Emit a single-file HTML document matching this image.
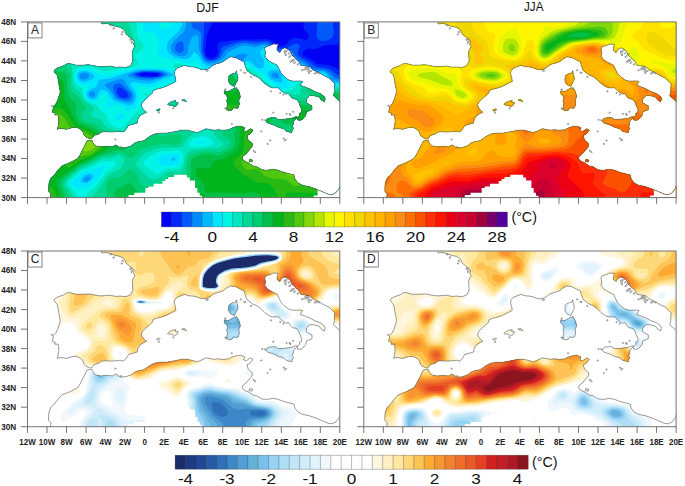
<!DOCTYPE html><html><head><meta charset="utf-8"><style>html,body{margin:0;padding:0;background:#fff;}body{width:685px;height:486px;overflow:hidden;position:relative;font-family:"Liberation Sans", sans-serif;}</style></head><body><svg width="685" height="486" viewBox="0 0 685 486" style="position:absolute;left:0;top:0"><defs><clipPath id="frame"><rect x="0" y="0" width="312.3" height="175.7"/></clipPath><clipPath id="land"><path d="M73.7 -5.9L73.7 0.0L74.5 2.0L79.1 1.5L83.9 2.9L87.8 4.4L92.7 5.4L95.6 7.3L97.6 9.3L98.1 11.7L102.5 15.6L105.9 18.1L106.9 20.0L105.9 22.4L107.4 24.4L104.9 29.3L104.9 33.2L105.4 39.0L103.0 43.9L99.7 45.2L97.6 45.7L92.7 45.1L87.8 45.4L83.0 44.2L78.1 44.6L73.2 44.9L68.3 44.2L61.5 42.9L56.6 43.2L48.8 43.3L42.0 41.5L39.0 42.0L36.1 43.9L30.3 45.9L27.3 47.8L26.4 49.8L29.3 52.7L30.3 55.6L30.7 58.6L31.2 61.5L32.2 66.4L32.7 70.3L31.2 75.2L30.3 78.1L28.3 82.0L25.9 84.4L25.4 87.8L24.9 90.3L27.8 91.3L27.3 93.2L30.7 93.2L31.2 96.6L31.2 100.5L30.7 104.4L29.8 107.4L33.2 106.4L39.0 107.4L44.9 105.6L49.3 105.4L53.7 107.8L55.1 109.3L56.6 113.2L58.6 115.2L62.5 117.1L64.9 116.1L66.4 113.7L71.2 112.2L74.2 110.1L78.1 109.8L83.0 110.1L87.8 109.8L92.7 109.3L96.1 110.1L98.6 107.4L101.0 103.5L106.4 102.0L109.8 101.0L110.3 97.6L112.2 94.2L116.1 91.7L119.1 90.3L117.1 88.8L114.7 85.9L113.7 83.0L115.2 80.0L117.6 77.6L121.0 74.7L124.9 71.2L125.4 68.8L128.8 67.3L134.7 65.9L138.6 64.4L144.4 61.5L148.4 59.5L147.9 55.6L146.9 52.7L146.9 49.8L149.3 46.4L153.2 44.9L157.1 43.4L162.0 44.9L164.9 44.9L169.3 45.9L172.8 47.3L175.7 47.8L179.6 47.3L182.5 45.9L185.4 43.4L188.4 42.0L192.3 41.0L196.2 39.5L199.1 37.1L203.0 34.9L207.9 35.6L212.8 38.1L216.7 40.0L217.6 43.9L219.6 48.8L222.5 50.8L225.5 53.2L229.4 54.7L233.3 57.6L237.2 61.5L242.0 64.9L245.0 65.9L250.8 65.9L252.8 67.8L254.7 69.8L257.2 71.2L258.2 72.2L261.1 71.7L263.0 74.7L265.0 76.6L269.4 77.6L271.3 80.5L272.3 83.4L274.3 87.8L273.8 90.8L271.8 91.3L272.3 93.2L269.9 95.6L269.9 98.1L272.8 98.4L274.7 97.6L278.2 93.7L279.1 89.8L284.5 87.8L284.5 83.9L282.6 83.0L278.6 80.5L279.1 77.1L282.1 73.7L286.0 73.7L291.8 75.2L293.3 77.6L296.7 80.0L297.7 77.1L297.2 75.2L292.8 71.7L287.4 69.8L283.0 67.3L278.2 65.4L272.8 63.4L275.2 59.5L272.3 59.0L265.5 59.3L261.1 58.1L256.7 54.7L253.8 51.7L251.3 46.8L249.9 43.4L245.0 41.0L240.1 38.1L237.2 34.2L238.1 31.2L237.2 27.3L238.1 24.9L243.0 23.4L246.0 22.0L250.8 22.4L249.9 24.9L249.4 28.3L252.3 30.7L254.2 27.3L257.2 25.9L260.6 27.3L263.0 29.8L264.5 33.2L267.4 36.1L271.3 39.5L273.3 43.4L277.2 43.9L282.1 44.9L286.0 48.3L289.9 49.8L293.8 52.2L298.2 54.7L301.6 56.1L305.0 59.5L307.4 62.0L307.0 65.4L307.0 69.3L306.0 73.7L307.4 75.2L310.9 78.1L312.3 79.5L318.2 82.0L318.2 -5.9ZM22.4 181.5L22.9 175.7L23.4 171.8L21.0 169.3L21.0 165.9L21.5 161.0L23.4 156.2L26.8 153.2L30.3 148.4L34.2 144.0L42.9 140.5L50.3 136.6L52.7 132.7L55.6 126.9L58.1 122.0L59.5 119.1L64.4 118.1L65.4 121.0L68.3 124.0L73.2 124.9L79.1 124.4L84.9 124.9L88.3 123.0L92.7 125.9L97.6 125.9L103.5 124.0L107.4 121.0L111.3 119.6L115.2 119.1L118.1 117.6L122.0 114.7L126.9 112.2L132.7 111.3L138.6 111.3L144.4 110.3L148.4 109.5L154.2 108.3L160.1 108.3L165.9 109.8L169.8 110.8L173.7 109.1L178.6 106.9L181.5 107.4L186.4 108.3L191.3 107.8L195.2 108.5L201.1 107.8L205.0 105.9L209.8 104.4L213.7 104.4L217.2 105.9L216.2 108.8L218.6 109.8L220.1 108.8L223.0 106.9L225.5 108.3L222.5 112.2L219.6 113.7L220.6 118.1L223.0 120.0L225.0 122.0L224.5 124.9L222.0 127.9L218.6 131.8L215.2 134.7L214.7 137.1L217.6 139.6L221.1 141.0L225.5 144.0L229.4 144.9L234.2 147.9L239.1 148.4L246.0 147.4L250.8 148.4L255.7 150.3L261.6 151.8L266.4 153.2L267.4 157.1L270.4 161.0L275.2 163.5L281.1 164.5L287.9 166.9L294.8 169.8L300.6 172.3L304.5 172.8L308.4 170.8L311.8 166.4L312.3 164.0L318.2 161.0L318.2 181.5ZM238.4 99.6L239.6 97.1L241.6 96.1L245.0 95.8L247.4 95.6L250.8 97.6L256.7 97.4L260.6 96.8L264.5 96.3L268.4 94.7L269.9 95.0L266.0 99.6L265.5 103.5L264.5 104.4L266.0 106.4L264.5 109.3L264.5 110.8L258.6 109.3L256.2 106.9L250.8 105.4L246.0 103.0L243.0 102.0L240.1 101.0ZM197.2 68.8L199.1 69.8L201.5 69.3L205.0 67.3L207.4 65.9L210.3 67.3L211.3 69.3L212.3 72.2L212.8 75.2L211.3 78.1L211.8 82.0L210.8 85.9L209.4 86.4L205.9 85.9L204.5 88.3L201.1 88.8L199.1 87.4L199.6 84.4L200.1 81.0L199.1 79.1L200.1 76.1L199.1 73.7L197.2 72.2L196.7 70.3ZM208.9 48.8L209.4 51.7L210.3 55.1L210.3 58.1L208.9 60.5L207.9 62.5L206.9 64.6L204.5 63.4L203.0 62.5L201.5 60.5L201.1 58.1L201.5 55.6L201.1 54.7L202.5 53.2L205.4 51.7L207.9 51.2ZM140.1 82.5L141.5 81.0L144.9 79.3L148.4 78.6L147.9 80.5L150.8 80.8L149.3 83.4L146.9 84.9L144.0 83.0L142.0 83.4ZM154.2 78.1L157.1 77.5L159.1 79.5L155.7 78.9ZM128.8 88.3L131.8 86.9L132.7 87.8L130.8 89.3ZM222.0 137.6L225.0 138.1L224.5 140.1L221.6 139.6Z"/></clipPath></defs><g transform="translate(27.5,21.9)"><g clip-path="url(#frame)"><g clip-path="url(#land)"><rect x="-20" y="-20" width="360" height="220" fill="#0000f5"/><path fill="#0028fa" fill-rule="evenodd" d="M-3 178.5l318 0l0-132.5l-4.5 1l-8-3.5l-13-1.5l-6.5-4.5l-6.5-3.5l-1-1l-.5-2l2-2.5l3-2l8 .5l7.5-3l4-1l15.5-.5l0-25.5l-39 0l0 8l1 3l4 4.5l.5 2l-1 2l-2.5 1.5l-7.5-2l-5 0l-3 2l-4 4.5l-4 1.5l-3.5 0l-7-5.5l-6-1.5l-9.5 .5l-15.5 0l-20 2.5l-2.5 1.5l-1 2l1 7l-1 2.5l-2 2l-4 1.5l-2-.5l-2.5-2l-1-3l-.5-3.5l2-15l4.5-9.5l0-6l-187 0l0 181.5zM114 54l-2-1.5l.5-1l5.5-1l10 .5l3.5 .5l.5 1l-2 1.5l-5 .5l-11-.5z"/><path fill="#005afa" fill-rule="evenodd" d="M-3 178.5l318 0l0-126l-2.5 .5l-3-.5l-6-4.5l-3-1.5l-10.5-1.5l-3-1l-6.5-5l-8-4l-2-2l-.5-2l.5-2l1.5-3.5l0-2l-2.5-2l-3 .5l-6 3.5l-7.5 1l-4-.5l-6-5.5l-4-1.5l-10.5 1l-10-1l-7.5 .5l-15.5 5l-1.5 2l-1.5 5.5l-1.5 3l-2.5 2l-3 1l-3 0l-2-.5l-2-1.5l-1.5-2l-1.5-5.5l0-5l1-12l0-14.5l-179.5 0l0 181.5zM94.5 75.5l-3-1.5l-2-3l0-3.5l1.5-2l1.5 0l3 1.5l3 2.5l2 2.5l0 2l-1 1.5l-2 .5l-3-.5zM112 54.5l-2.5-1l-1-1l.5-1l2.5-.5l4.5-1l14 .5l3.5 1l1 1l-2.5 2l-5 .5l-8 .5l-7-1zM292 18.5l3.5 .5l4-.5l4-2l2-2l1-4l-1-7.5l0-6l-15.5 0l-1 16.5l1 3l2 2z"/><path fill="#008cfa" fill-rule="evenodd" d="M-3 178.5l318 0l0-122.5l-4.5 .5l-3-1l-5.5-5.5l-3.5-2l-13.5-1.5l-2-1.5l-4-4l-9.5-5l-5-7l-3-1l-9.5 .5l-3 0l-2-1.5l-5-4.5l-4-1.5l-9.5 1.5l-13-1.5l-6.5 1.5l-11 5l-1.5 2l-3 5.5l-2 2l-6 2.5l-5 0l-2-1l-2-2l-2.5-5.5l-.5-5.5l.5-10l-.5-4l-2-2.5l-5.5-2.5l-1-1l-1-3.5l0-5l-167 0l0 181.5zM98.5 78l-7-1.5l-2-1.5l-1.5-2l-2.5-6.5l0-2l1.5-2l4-1.5l2.5 1l9 8.5l1.5 2.5l-1 3l-1.5 1.5l-3 .5zM118 56.5l-7.5-1l-5-2l-.5-1l1-1l4.5-1.5l6.5-1l11 .5l5.5 .5l3.5 1.5l.5 1l-1 1l-4 1.5l-6.5 1.5l-8 0zM150.5 30.5l-3-3l0-2l.5-2l2.5-3l2-1l1.5 0l1.5 1l.5 2l0 6l-2 2l-1.5 .5l-2-.5zM297.5 10.5l0 1l0-1z"/><path fill="#00b9ff" fill-rule="evenodd" d="M-3 178.5l318 0l0-119.5l-5.5 0l-4-1l-2-1.5l-3-5l-2-1.5l-3-1l-3.5 0l-5 .5l-3 1l-5 3l-2 0l-.5-2l2-4.5l0-2l-2-3l-9-4.5l-6-6.5l-3-.5l-7.5 0l-3 0l-3-2l-4-4.5l-3-1l-3 0l-7.5 2.5l-9-2l-6.5 1l-12 6l-3.5 5.5l-2.5 2l-6.5 3l-6 .5l-3-1l-2-1.5l-3-5l-2.5-8.5l0-10l-1-2l-2-.5l-3 1.5l-2 4l-2 5l-.5 7l-1.5 2.5l-2 1l-2 .5l-5.5-1l-3-2l-2-2l-1-3l0-3l3-4.5l7.5-7l3-3l1.5-5l0-7l-161.5 0l0 181.5zM54.5 57.5l-1.5-1l-1-2l.5-2l1-1l2-.5l2 0l2.5 .5l1.5 1l0 2l-1 1.5l-3 1.5l-3 0zM57.5 159.5l-1-1.5l1-2l3-1.5l2 .5l0 1l-1 2l-2 1l-2 .5zM63.5 75l-2-2l0-2l2-1.5l3 0l1 1.5l0 2.5l-2 1.5l-2 0zM97.5 80l-6.5-2l-3.5-2l-5.5-8.5l-4.5-4l0-1l1.5-1l12-4l3.5-.5l2 1l3 5.5l5.5 7l1 3.5l-.5 3.5l-2 2.5l-2 .5l-4-.5zM117 58.5l-9.5-1.5l-6.5-2.5l-.5-1l.5-1l3-1.5l3-1l8-1.5l14 0l6.5 1l4.5 2l0 1l-.5 1l-6 2.5l-10.5 2.5l-6 0zM207 44l-3-2l0-2l1-3l4-3.5l3-1.5l2.5-.5l4 .5l1.5 1l-.5 1l-4 3.5l-4.5 6.5l-2 .5l-2-.5zM248 56.5l-2.5-1l-1.5-2l.5-2l2.5-1l3 1l1.5 2l-.5 2.5l-1 .5l-2 0z"/><path fill="#00e6ff" fill-rule="evenodd" d="M-3 178.5l318 0l0-117.5l-6.5 0l-7 1l-2 0l-.5-1.5l1-4l-.5-3l-2-2l-2.5-1l-4 0l-3 1l-6 3.5l-3 1l-4 0l-1.5-1.5l-.5-2l1.5-6.5l-.5-2l-1-1l-7.5-4l-6-6l-3-.5l-7.5 .5l-3-.5l-2.5-1.5l-3.5-4l-2-1l-3 .5l-2.5 3l0 2.5l3.5 5l.5 4l-.5 4l-1 1l-1.5 .5l-4-.5l-6-6l-3-1l-3 1l-4.5 5.5l-3 1.5l-4-1l-7-4.5l-2-1l-4 1l-8.5 2.5l-4 0l-3-1.5l-2-1.5l-5.5-8.5l-2-1.5l-1-.5l-1 .5l-3 4l-3 2l-5 0l-7.5-1.5l-4-2.5l-2.5-2.5l-1.5-3l0-4l1-3l1-2l10-9.5l1.5-2.5l1.5-3.5l0-6l-157.5 0l0 181.5zM55.5 161l-1.5-1l-.5-1l.5-2l2-3l1.5-1l3-1l3 0l1.5 1l.5 1l-.5 2l-2 3l-3.5 2l-4 0zM99.5 83l-12.5-4l-2-2l-4-6l-2-2l-3-1l-2 0l-2 1l-2.5 6l-2 2l-3 .5l-3.5-1.5l-1.5-3l0-2.5l3-3l6-2.5l1-1.5l1-4l.5-1l2-1l10-1l16-5.5l9.5-3l5.5-.5l14 0l7.5 .5l5.5 2l4.5 2.5l-.5 1l-2.5 1l-19.5 7l-4 .5l-11.5-2l-4 .5l-.5 1l0 2l5 7.5l.5 3l-.5 3l-1 3l-2.5 2.5l-2 1l-3-.5zM144.5 139l-1-1.5l1-1.5l2-.5l1 0l1 1l-1 2l-3 .5zM176.5 63.5l-.5-1l-.5-2l2-4l7-6.5l2-1l2 .5l1 2l-.5 2l-4 4l-3.5 5l-2 1.5l-3-.5zM249 60l-5-2.5l-2.5-3l-1-2l0-1.5l1.5-2l3-1l4 0l3 1.5l1 1.5l1.5 4.5l0 4l-1.5 1l-4-.5zM53.5 60l-2.5-2.5l-1-3l.5-3l2-2l4-.5l4 .5l3 1.5l3 2.5l0 2l-2.5 2l-6.5 2.5l-4 0z"/><path fill="#00f5e6" fill-rule="evenodd" d="M-3 178.5l318 0l0-115l-6.5 0l-8 1.5l-4-.5l-1-1l-.5-2l1-7l-1-1l-2-1l-4 1l-6 3l-4 1.5l-3 .5l-3-1l-1.5-1l-1-2l0-7.5l-1-2l-7-4l-4-5l-4-1l-10.5 1.5l-1.5 1.5l-1 2l0 3l1.5 1.5l9 1.5l2.5 1.5l1.5 2.5l2 5.5l5 6l0 2l-1 1l-9 3.5l-3 5l-2 0l-1-1l-.5-1l.5-1l2.5-3.5l0-2l-.5-1l-8.5-6l-5.5-6l-6.5-3l-6-5.5l-2-1l-2.5 1l-4.5 4.5l-2.5 1.5l-3-.5l-10-4l-4 .5l-1.5 2l-.5 4l-.5 3l-5 5l-3.5 4.5l-3.5 2l-5 .5l-1-.5l-.5-1l0-5l.5-4.5l3.5-5l.5-2l-1.5-2l-5-6l-2-1.5l-2 .5l-4 2l-2 0l-8.5-2l-10-1.5l-10-3l-1.5-1l-1-1.5l-.5-1.5l2-5l.5-2l-3.5-11l-2.5-2l-3-.5l-5 0l-2-1l-.5-3l0-9l-118.5 0l0 181.5zM50 166l-4.5-2l-1-1l-.5-2l1-2l8.5-7.5l4-2l9-2l7.5-3.5l2-.5l1 1l0 1l-7.5 12l-4 4.5l-3 2l-7 2l-3 .5l-2.5-.5zM90 98l-1-.5l-1-2l1-3l3.5-1l4 0l0 2l-2 3l-3 2l-1.5-.5zM99.5 89l-1-.5l-3-3.5l-4-2l-4.5 0l-5 1.5l-2.5-.5l-.5-1l0-1l1-3l0-3l-1-2.5l-2-1.5l-2 0l-1 .5l-2.5 4.5l-2 2l-5 0l-4.5-2l-2-3l-.5-3.5l2-4l3-3l-1-1l-6 0l-3-.5l-3-2.5l-1-3l0-4l1-2.5l2-2l4-1l6 .5l5 1.5l6.5 4l5 1l5-.5l9.5-3.5l20.5-4.5l21.5 .5l4 .5l7 2.5l8.5 2.5l2 1l1 1l.5 2l-1 2l-1.5 1.5l-2 .5l-11.5-.5l-9.5 2.5l-10 4l-10-1.5l-2.5 .5l-.5 2l2 7.5l-.5 6l-1.5 3l-3.5 3.5l-3 2l-3 .5zM141.5 143.5l-7-.5l-2.5-1.5l-1.5-3l1-3l3-2l8-2l5-.5l4 1l1 1.5l.5 2l-.5 3l-1 3l-3.5 2l-6.5 0zM166 73l-1.5-1l0-1.5l1.5-1l3 0l.5 1.5l-.5 1.5l-1 1l-2-.5zM171 122l-2-1l2-1.5l2.5-.5l2.5 1l-.5 1l-1 .5l-3.5 .5zM134 7l3.5 .5l2-1l6-4.5l0-2.5l-2.5-2.5l-11.5 0l0 7l1 2l1.5 1z"/><path fill="#00e6be" fill-rule="evenodd" d="M-3 178.5l52.5 0l.5-3l-.5-2.5l-2-3l-4.5-4l-2-2l-.5-3l1-2l13-11l10-3.5l9.5-5l5-.5l8.5 .5l1 1l0 2l-1.5 2l-9 6.5l-9 13l-9 7l-1.5 2.5l.5 5l256 0l0-113.5l-5.5 0l-10 2l-3.5-.5l-2-1l-1.5-2l-1-6l-1-1l-1.5 0l-10 3.5l-8.5 1l-1.5 1.5l-2.5 4.5l-2 1l-7 1.5l-2 1.5l-2.5 4.5l-2 .5l-2.5 0l-4.5-1.5l-2.5-2.5l0-1.5l2.5-5l-.5-2l-7-5l-4-5l-11-7.5l-2 0l-5 4l-2.5 1l-3-.5l-8-3.5l-3 0l-2 .5l-1 1l-2.5 6.5l-5 5l-4 4.5l-3 2.5l-6 2.5l-3.5 5.5l-2 2l-3 0l-8-2l-12.5 1l-6-1l-9.5-2l-5 .5l-1 .5l1 4l-.5 5l-1 3l-1.5 2l-3 1l-5-1.5l-2.5 0l-2.5 2.5l-4.5 5.5l-9 9.5l-2 1l-2.5 0l-5-1.5l-4-3l-1-2l-2-6l-6-5l-3.5-5.5l-8-3l-4-3l-1.5-4l-1-6.5l-5-3l-2.5-3l-1-5l.5-4.5l2-4l3.5-1.5l6-.5l6 .5l4 1l6.5 2.5l4 .5l11-2.5l12.5-1.5l3-.5l3.5-2l1-2l-2.5-6l0-2l2-2l5.5-3.5l1-2l.5-2l-1-2l-4.5-4l-1.5-4l-.5-3.5l.5-13l-112.5 0l0 181.5zM128 151.5l-8.5-6l-3-3l0-3l2.5-3l7.5-4.5l6-2.5l17-1l3.5 .5l1.5 1l1 2.5l0 5l-1.5 5l-1.5 2.5l-3 1.5l-10 .5l-3 1l-4.5 3.5l-2 0l-2 0zM164 125l-2-.5l-1-1.5l.5-2l.5-1.5l4-3l6-2l4.5-.5l4 1l3 2l2 3l0 2l-1.5 1l-3.5 1l-9.5 1.5l-7-.5zM230.5 71.5l-.5-2l0-2l1.5-1.5l1 0l1.5 2l.5 2.5l-.5 .5l-1.5 1l-2-.5zM174.5 100l-2-2.5l0-3l2.5-2l1.5 0l2 .5l2 2.5l-.5 3l-2.5 1.5l-3 0zM117.5 74l2.5 0l2-1l-.5-1l-2-1l-2.5 0l-.5 1l1 2zM262.5 54.5l2 .5l1-1l.5-1.5l-.5-3.5l-2-1l-2 .5l-1 2.5l0 1.5l2 2zM148.5 47l4 .5l2.5 0l2-1.5l0-1l-1.5-2l-1.5-1l-2.5-.5l-3 0l-2 1l-1 1.5l1 2l2 1z"/><path fill="#00d796" fill-rule="evenodd" d="M-3 178.5l47.5 0l1-3l-.5-2.5l-1-2l-4.5-5l-1.5-3l.5-3l2-3l13-10.5l11-4.5l7.5-4.5l4-1l8-1l7.5-2l3 1l1.5 2l.5 4l-1 3l-4 4.5l-8.5 3.5l-4 3.5l-7 11l-6 7l-.5 2.5l1.5 3l248 0l0-111.5l-5.5 0l-9 1.5l-4 0l-2.5-1l-2-1l-3.5-5l-1.5-1l-3 0l-7.5 2l-2 1l-1.5 2l0 5.5l-.5 1l-1 1l-3 0l-7-1l-3 1l-.5 3l2 3l.5 2l-.5 1l-1.5 1l-2-1l-3.5-2.5l-13-4l-2-.5l-6.5 .5l-3-1.5l-1-2l-1-3.5l.5-4l1.5-6l0-2l-1-2l-4-2.5l-2-1l-2 0l-5 2l-2.5 0l-9-3.5l-4-1l-2 1.5l-4 6.5l-4.5 4l-5 6l-8 4.5l-3.5 6l-2 2.5l-3 .5l-8-1.5l-12.5 1l-11-1.5l-3.5 0l-3 2l-1 3l-2.5 9.5l.5 9l-2 3l-4 1.5l-13.5-.5l-2.5 1l-5.5 4l-3 .5l-4-.5l-12.5-5.5l-2-2l-5-6l-8-2.5l-1-1l.5-1l2.5-2.5l.5-2l-.5-3l-9-6l-2-3l-3-6.5l-4.5-3l-1.5-2l-1-4l-.5-12.5l-1-7l.5-11.5l-.5-13l.5-2l1-1l1 0l4 4l2.5 2l3 .5l6-.5l3 .5l2 1.5l4 6l3.5 2l4 0l9-.5l10.5 .5l4-.5l5-2.5l1-1l1-2l-7-20.5l0-3l.5-3l-105 0l0 181.5zM125 157l-3-.5l-2-1.5l-11-11.5l0-3l3-5l5-4l13-5l5.5-.5l15-.5l3.5-.5l2-2l4-7l7-4.5l1.5-2l-.5-3l-3.5-8l.5-3l.5-2l3.5-2.5l4-1.5l4 .5l3.5 1.5l2 2l2.5 7l2 4l0 1l-2 4l.5 2l4 4.5l5.5 4l1 2l-.5 1l-2.5 2l-3.5 1.5l-10 0l-15.5 2l-3 1l-2 2.5l-3 13l-2 3l-2.5 1.5l-10 0l-3 1.5l-4 3.5l-2.5 1.5l-3 1l-4 0zM91 15l-1.5-2.5l0-2.5l2-4l2-1.5l1.5 2.5l-.5 4.5l-2 3l-1.5 .5zM53.5 41l5 .5l2-.5l1-1l-2-1.5l-4 0l-2 .5l-.5 1l.5 1z"/><path fill="#00cd6e" fill-rule="evenodd" d="M-3 178.5l43.5 0l.5-5l-.5-1.5l-4.5-7l-.5-3l.5-2l3-4l14.5-11.5l10-4l9.5-5.5l10-2l8-2.5l4.5 .5l2 1l4 3.5l3 0l3-2l4-5l2-1.5l21-5.5l4 0l8 1.5l3-.5l3-1.5l1.5-3l0-4l-1-1l-1.5-1l-8 0l-8 2l-2-.5l-3.5-2.5l-2-.5l-12-1l-4 0l-2.5 1l-2 1.5l-2.5 4l-1.5 1l-6-2.5l-9.5-2l-10-4l-4-2l-5.5-4.5l-9.5-2.5l-3.5-2l-1.5-3l0-3l1-1.5l3.5-3l.5-2l-4.5-4.5l-4-6.5l-4.5-3l-2-1.5l-1.5-5l.5-9l-.5-4l-1.5-2.5l-2.5-4l-1-3l.5-11.5l-.5-16l2-11.5l-.5-6l-42 0l0 181.5zM78.5 178.5l236.5 0l0-109.5l-5.5 0l-11 1l-4.5 0l-5-1.5l-4-4.5l-4 .5l-1.5 1l-.5 2l4.5 5.5l0 2l-1.5 2l-3 1l-10.5 .5l-2 1l-4 5.5l-3 1l-2 .5l-2-.5l-4-4l-3.5-2l-8-2l-8.5 0l-3-1l-2-2l-1.5-3l-1-11.5l-1.5-3l-3-1.5l-7.5 0l-9-5l-2-.5l-2 0l-2 2l-3 5l-5 4l-4.5 5.5l-8 5l-2 3l-4 9l1.5 2l9.5 3.5l2 2l4 7l2 1.5l6.5 3.5l1 2l-2 5l0 1.5l1.5 2l4.5 3l1.5 2l.5 3l-1 2l-5.5 4l-5 2l-12-1l-15.5 3l-2 1.5l-1.5 2l-1 5l-.5 9l-2 3l-4 1l-7.5-.5l-2.5 0l-2 1l-5.5 5.5l-11.5 4l-6 .5l-4-1l-2.5-3l-1.5-7l-2-2.5l-3.5-2.5l-2-.5l-2 .5l-2 1.5l-4 5l-2 1.5l-7.5-.5l-2 1l-2 2l-1.5 2.5l-1 4l0 13.5zM250 119l0-1l1 0l1 1l0 1l-1 0l-1-1zM135 108.5l3.5-.5l1-.5l1.5-2l.5-4l-1.5-6l.5-2l2-1l8 .5l3.5-1l8.5-5l1-2l-1-1l-2.5-1.5l-3 0l-12.5 1l-9-2l-2 0l-1.5 1.5l-1 2l-.5 3l2 6.5l-.5 10l.5 2.5l2.5 1.5z"/><path fill="#00be46" fill-rule="evenodd" d="M-3 178.5l39.5 0l.5-3l0-2.5l-3.5-7l-1-4l1-3l3.5-4l15.5-12l11-4.5l8.5-5l15-5l10.5-1l2-1l.5-1.5l0-3l-1-2l-3-3l-3.5-1l-8.5-1.5l-9-3l-9.5-6.5l-10.5-3.5l-3.5-2.5l-2-3.5l-1.5-4l1-7.5l-.5-2l-1-2l-4.5-3.5l-2.5-5.5l-1-4.5l0-10l-.5-3l-2-2l-4-2l-2.5-.5l-9 1l-24.5-.5l0 129zM87 178.5l48 0l2.5-1l2.5 1l175 0l0-107l-14.5 .5l-6.5 .5l-3 1.5l-.5 2l-.5 5l-2 2l-6 .5l-8.5-1.5l-3 0l-2 1l-4 3.5l-3 1.5l-4 1.5l-3.5 0l-2-1.5l-2-4l-3-2l-6-2l-9.5 .5l-4-1.5l-2.5-2l-1.5-3l-1.5-9.5l-1.5-3l-3-1.5l-7.5-.5l-5-6l-3-1l-2 0l-1.5 1l-3 5l-5.5 4l-4.5 5.5l-6 3.5l-2 1.5l-2.5 4l-1 5l.5 1.5l1.5 1.5l7.5 4l4 6.5l2 2l3.5 1.5l10 1.5l4 2l1 3l-2 6.5l1.5 6l.5 3l-1 3l-1 2l-4 2.5l-9.5 5l-4 0l-7-1.5l-3 0l-4 .5l-8.5 3.5l-1.5 1.5l-1 3l0 11l-1.5 4.5l-2 1.5l-8.5 3.5l-8 8l-5 3.5l-2 0l-4-1.5l-2.5-.5l-14 1l-3-.5l-3.5-2l-6-7.5l-2-.5l-5 3l-7.5 3l-1 1.5l-1 2.5l0 7.5zM251 124l-2-.5l-2-1.5l-4-5.5l-4-4.5l-3-4.5l-6.5-5l-.5-2l1-2l1.5-.5l2 .5l4.5 3.5l2 .5l2.5-2l3.5-6l2-1.5l2 0l1 .5l3.5 6.5l3 2l2 .5l6-1l3 1l1 3l-1.5 5l.5 1.5l3 3l6.5 4l1 1l0 1l-1 1l-3.5 .5l-13-1.5l-7.5 2.5l-3 .5zM117 117l1 0l0-1l-1 0l0 1zM258.5 112l1.5-.5l-.5-1l-2-1l-1 1l.5 1l1.5 .5z"/><path fill="#00b41e" fill-rule="evenodd" d="M-3 178.5l35.5 0l.5-4l-.5-2.5l-4-11l0-2l1.5-2l14-9.5l8.5-6.5l10.5-4.5l8-5l8-3.5l2-2l2-3l-.5-2l-5-5l-7-4l-8-5l-11-4l-3.5-3.5l-3-5l-3.5-8.5l-3.5-6l-1-3l-1-15.5l-1-3l-3-1.5l-2.5 0l-8 1l-24.5 0l0 120.5zM160.5 178.5l16 0l.5-5.5l-.5-1l-1-.5l-11.5-1.5l-2 0l-1 1l-.5 2l0 5.5zM231 178.5l84 0l0-80.5l-4.5 0l-4-1l-2-1.5l-3.5-4.5l-3.5-2l-2.5-.5l-12 .5l-4-.5l-5.5-2l-4 .5l-5 3l-6 2.5l-.5 2l.5 1.5l2 1l9 0l3.5 1.5l1.5 2l.5 2l-1 6l0 3l2 2l7.5 3.5l1 2l0 3l-2.5 2l-4 1l-16.5-.5l-8.5 1.5l-4 0l-3.5-2l-12-14l-6-5l-1.5-1.5l-.5-3l0-4l2-3l3-1l6.5 .5l2-.5l6-4.5l.5-2l0-1l-1.5-1l-4-1l-9.5 0l-3-.5l-2-1.5l-2-2l-1.5-3l-2.5-9l-1-1.5l-1.5-1l-3.5 0l-5.5 5l-4 1l-3-.5l-2-1l-3-6l-3 0l-2 1.5l-4.5 5.5l-6 2.5l-2 1.5l-2 4l0 4l1.5 2l6.5 3.5l4 6l3 2.5l3.5 1l10-.5l3 1l2.5 2l1.5 3l.5 5l-.5 11.5l-.5 6l-1.5 3l-2 2l-10 6l-10.5 3l-1.5 1.5l-2.5 5l-1.5 1l-2.5 .5l-6.5-1.5l-3 .5l-1.5 1.5l-.5 1.5l0 4l2 2.5l4 3.5l2 2l2 9l.5 .5l30.5 .5l7.5 .5l6-1.5l5 .5l3 1l1.5 1.5l0 2.5l-1 3zM89 125l3.5 0l2-.5l1.5-1.5l-.5-2l-2-2l-2-.5l-2.5 .5l-2 .5l-3 2.5l.5 1l4.5 2zM299 78l3.5 .5l2.5-1.5l-.5-1l-1-.5l-4-.5l-1.5 1l0 1l1 1zM201 56.5l0 1l1-1l-1-.5l0 .5z"/><path fill="#28b914" fill-rule="evenodd" d="M-3 178.5l31 0l.5-5.5l-2-5l-2-2l-2-1l-3-.5l-8 2l-14.5-.5l0 12.5zM249.5 178.5l8.5 0l0-6.5l.5-1l1-.5l35.5 .5l.5 1l0 6.5l11 0l0-6.5l-1-1l-10 0l0-1l0-4l2-5l7-4l2.5-4.5l1.5-2l3-1l3.5 1l0-23.5l-53.5-.5l-10.5 1.5l-4-.5l-3-2l-4-4.5l-5.5-5l-4-4.5l-5-4l-1.5-2l-4.5-14l0-8.5l-3-8l-1 0l-1 1l-2 5l-2.5 2l-3 .5l-5-.5l-9 .5l-2.5-.5l-1-1l-2-7l-1-1.5l-3-.5l-3 1l-2 3l-.5 2l.5 2l2 2l5 1.5l2 1.5l2 5l2 2.5l3.5 1l7-2.5l4-.5l6 2l2 3l3 15.5l-1 16l-2 4l-6 4.5l-1.5 2l-.5 3l.5 2l11 10.5l6.5 3l4.5 3.5l2 .5l8.5 0l4 2l2.5 3l4 6l.5 2.5l-.5 4zM307.5 171l7.5 0l0-11l-4.5 0l-2 0l-1 1l-1 3l0 6l0 .5l1 .5zM38.5 144.5l2.5 1l2.5-1l7.5-5.5l11.5-4.5l11-6.5l2-2l1.5-2l0-3l-1.5-2l-2-2l-12-7.5l-10.5-4l-3.5-2l-4-5l-5.5-8.5l-4-3.5l-3.5-.5l-9 1l-24.5-.5l0 42.5l14.5 0l9-.5l5 1l10.5 7.5l1.5 1.5l1 6z"/><path fill="#50c80f" fill-rule="evenodd" d="M267 164l2.5 0l2-.5l1.5-1.5l1.5-2l1-5l-2-8.5l0-3l2.5-3l6.5-3l2-2l.5-2l-.5-1.5l-2.5-2l-5-1l-15.5 0l-13.5 1l-4-1l-6-5l-2 0l-1 2l-1 6l-1.5 2.5l-3 1.5l-10 0l-4 2l-1.5 2.5l.5 3l4 4l3 .5l6-1l3 .5l2 1.5l3.5 4l2 1.5l8 2l11.5 1l3 1.5l4 3.5l2.5 1.5zM50.5 133.5l3 1l5-1l4-1l4-2.5l5-4l1.5-2l0-3l-2-2l-13.5-9l-4-1l-6.5-1.5l-3-1l-3-3.5l-6-9.5l-3-1.5l-2.5-.5l-8 1.5l-24.5-.5l0 32l26.5 0l4 1l7.5 2.5l6-1.5l3 0l3 1.5l3.5 5.5zM224.5 115l1 1l1 0l.5-1l-.5-1l-1-.5l-1 .5l0 1zM182 79l.5 .5l1-1l-1-1.5l-1 1l.5 1z"/><path fill="#82d70a" fill-rule="evenodd" d="M265.5 155l2 .5l1-2l-1-8l.5-3l1-2l2.5-2l7-4l.5-2l-1-.5l-3-1l-16.5 1l-4 .5l-3.5 2l-.5 1l1 1l6 4l1.5 2l0 2l-1.5 4l.5 2l2 2l5.5 2.5zM56 129l2.5 .5l5-1.5l4-3l1-2l0-1l-1.5-2l-10.5-7l-3-1l-2.5 .5l-2.5 1.5l0 3l5 5l1.5 5l1 2z"/><path fill="#fff" d="M101.0 175.8L101.0 173.2L106.8 173.2L106.8 170.9L117.9 170.9L117.9 166.2L120.9 166.2L120.9 164.5L126.1 164.5L126.1 161.9L134.9 161.9L134.9 159.2L137.8 159.2L137.8 157.2L140.7 157.2L140.7 155.1L146.5 155.1L146.5 152.8L159.4 152.8L159.4 155.7L162.3 155.7L162.3 158.6L167.6 158.6L167.6 166.2L169.9 166.2L169.9 170.9L172.2 170.9L172.2 173.8L174.6 173.8L174.6 180.0L101.0 180.0ZM290.1 150.0L290.1 173.6L286.3 173.6L286.3 180.0L320.0 180.0L320.0 150.0Z"/></g><path d="M73.7 -5.9L73.7 0.0L74.5 2.0L79.1 1.5L83.9 2.9L87.8 4.4L92.7 5.4L95.6 7.3L97.6 9.3L98.1 11.7L102.5 15.6L105.9 18.1L106.9 20.0L105.9 22.4L107.4 24.4L104.9 29.3L104.9 33.2L105.4 39.0L103.0 43.9L99.7 45.2L97.6 45.7L92.7 45.1L87.8 45.4L83.0 44.2L78.1 44.6L73.2 44.9L68.3 44.2L61.5 42.9L56.6 43.2L48.8 43.3L42.0 41.5L39.0 42.0L36.1 43.9L30.3 45.9L27.3 47.8L26.4 49.8L29.3 52.7L30.3 55.6L30.7 58.6L31.2 61.5L32.2 66.4L32.7 70.3L31.2 75.2L30.3 78.1L28.3 82.0L25.9 84.4L25.4 87.8L24.9 90.3L27.8 91.3L27.3 93.2L30.7 93.2L31.2 96.6L31.2 100.5L30.7 104.4L29.8 107.4L33.2 106.4L39.0 107.4L44.9 105.6L49.3 105.4L53.7 107.8L55.1 109.3L56.6 113.2L58.6 115.2L62.5 117.1L64.9 116.1L66.4 113.7L71.2 112.2L74.2 110.1L78.1 109.8L83.0 110.1L87.8 109.8L92.7 109.3L96.1 110.1L98.6 107.4L101.0 103.5L106.4 102.0L109.8 101.0L110.3 97.6L112.2 94.2L116.1 91.7L119.1 90.3L117.1 88.8L114.7 85.9L113.7 83.0L115.2 80.0L117.6 77.6L121.0 74.7L124.9 71.2L125.4 68.8L128.8 67.3L134.7 65.9L138.6 64.4L144.4 61.5L148.4 59.5L147.9 55.6L146.9 52.7L146.9 49.8L149.3 46.4L153.2 44.9L157.1 43.4L162.0 44.9L164.9 44.9L169.3 45.9L172.8 47.3L175.7 47.8L179.6 47.3L182.5 45.9L185.4 43.4L188.4 42.0L192.3 41.0L196.2 39.5L199.1 37.1L203.0 34.9L207.9 35.6L212.8 38.1L216.7 40.0L217.6 43.9L219.6 48.8L222.5 50.8L225.5 53.2L229.4 54.7L233.3 57.6L237.2 61.5L242.0 64.9L245.0 65.9L250.8 65.9L252.8 67.8L254.7 69.8L257.2 71.2L258.2 72.2L261.1 71.7L263.0 74.7L265.0 76.6L269.4 77.6L271.3 80.5L272.3 83.4L274.3 87.8L273.8 90.8L271.8 91.3L272.3 93.2L269.9 95.6L269.9 98.1L272.8 98.4L274.7 97.6L278.2 93.7L279.1 89.8L284.5 87.8L284.5 83.9L282.6 83.0L278.6 80.5L279.1 77.1L282.1 73.7L286.0 73.7L291.8 75.2L293.3 77.6L296.7 80.0L297.7 77.1L297.2 75.2L292.8 71.7L287.4 69.8L283.0 67.3L278.2 65.4L272.8 63.4L275.2 59.5L272.3 59.0L265.5 59.3L261.1 58.1L256.7 54.7L253.8 51.7L251.3 46.8L249.9 43.4L245.0 41.0L240.1 38.1L237.2 34.2L238.1 31.2L237.2 27.3L238.1 24.9L243.0 23.4L246.0 22.0L250.8 22.4L249.9 24.9L249.4 28.3L252.3 30.7L254.2 27.3L257.2 25.9L260.6 27.3L263.0 29.8L264.5 33.2L267.4 36.1L271.3 39.5L273.3 43.4L277.2 43.9L282.1 44.9L286.0 48.3L289.9 49.8L293.8 52.2L298.2 54.7L301.6 56.1L305.0 59.5L307.4 62.0L307.0 65.4L307.0 69.3L306.0 73.7L307.4 75.2L310.9 78.1L312.3 79.5L318.2 82.0L318.2 -5.9ZM22.4 181.5L22.9 175.7L23.4 171.8L21.0 169.3L21.0 165.9L21.5 161.0L23.4 156.2L26.8 153.2L30.3 148.4L34.2 144.0L42.9 140.5L50.3 136.6L52.7 132.7L55.6 126.9L58.1 122.0L59.5 119.1L64.4 118.1L65.4 121.0L68.3 124.0L73.2 124.9L79.1 124.4L84.9 124.9L88.3 123.0L92.7 125.9L97.6 125.9L103.5 124.0L107.4 121.0L111.3 119.6L115.2 119.1L118.1 117.6L122.0 114.7L126.9 112.2L132.7 111.3L138.6 111.3L144.4 110.3L148.4 109.5L154.2 108.3L160.1 108.3L165.9 109.8L169.8 110.8L173.7 109.1L178.6 106.9L181.5 107.4L186.4 108.3L191.3 107.8L195.2 108.5L201.1 107.8L205.0 105.9L209.8 104.4L213.7 104.4L217.2 105.9L216.2 108.8L218.6 109.8L220.1 108.8L223.0 106.9L225.5 108.3L222.5 112.2L219.6 113.7L220.6 118.1L223.0 120.0L225.0 122.0L224.5 124.9L222.0 127.9L218.6 131.8L215.2 134.7L214.7 137.1L217.6 139.6L221.1 141.0L225.5 144.0L229.4 144.9L234.2 147.9L239.1 148.4L246.0 147.4L250.8 148.4L255.7 150.3L261.6 151.8L266.4 153.2L267.4 157.1L270.4 161.0L275.2 163.5L281.1 164.5L287.9 166.9L294.8 169.8L300.6 172.3L304.5 172.8L308.4 170.8L311.8 166.4L312.3 164.0L318.2 161.0L318.2 181.5ZM238.4 99.6L239.6 97.1L241.6 96.1L245.0 95.8L247.4 95.6L250.8 97.6L256.7 97.4L260.6 96.8L264.5 96.3L268.4 94.7L269.9 95.0L266.0 99.6L265.5 103.5L264.5 104.4L266.0 106.4L264.5 109.3L264.5 110.8L258.6 109.3L256.2 106.9L250.8 105.4L246.0 103.0L243.0 102.0L240.1 101.0ZM197.2 68.8L199.1 69.8L201.5 69.3L205.0 67.3L207.4 65.9L210.3 67.3L211.3 69.3L212.3 72.2L212.8 75.2L211.3 78.1L211.8 82.0L210.8 85.9L209.4 86.4L205.9 85.9L204.5 88.3L201.1 88.8L199.1 87.4L199.6 84.4L200.1 81.0L199.1 79.1L200.1 76.1L199.1 73.7L197.2 72.2L196.7 70.3ZM208.9 48.8L209.4 51.7L210.3 55.1L210.3 58.1L208.9 60.5L207.9 62.5L206.9 64.6L204.5 63.4L203.0 62.5L201.5 60.5L201.1 58.1L201.5 55.6L201.1 54.7L202.5 53.2L205.4 51.7L207.9 51.2ZM140.1 82.5L141.5 81.0L144.9 79.3L148.4 78.6L147.9 80.5L150.8 80.8L149.3 83.4L146.9 84.9L144.0 83.0L142.0 83.4ZM154.2 78.1L157.1 77.5L159.1 79.5L155.7 78.9ZM128.8 88.3L131.8 86.9L132.7 87.8L130.8 89.3ZM222.0 137.6L225.0 138.1L224.5 140.1L221.6 139.6Z" fill="none" stroke="#555" stroke-width="0.6"/><g fill="#fff" stroke="#444" stroke-width="0.5"><ellipse cx="259.4" cy="28.6" rx="1.4" ry="0.7" transform="rotate(-40 259.4 28.6)"/><ellipse cx="257.7" cy="31.4" rx="0.7" ry="2.9" transform="rotate(-15 257.7 31.4)"/><ellipse cx="261.4" cy="31.4" rx="0.8" ry="0.6" transform="rotate(-40 261.4 31.4)"/><ellipse cx="263.3" cy="33.7" rx="2.9" ry="0.6" transform="rotate(-40 263.3 33.7)"/><ellipse cx="264.0" cy="39.0" rx="2.1" ry="0.6" transform="rotate(-40 264.0 39.0)"/><ellipse cx="265.7" cy="38.8" rx="1.8" ry="0.6" transform="rotate(-40 265.7 38.8)"/><ellipse cx="267.2" cy="40.8" rx="1.2" ry="0.6" transform="rotate(-40 267.2 40.8)"/><ellipse cx="270.4" cy="42.5" rx="1.0" ry="0.6" transform="rotate(-30 270.4 42.5)"/><ellipse cx="279.3" cy="45.6" rx="2.1" ry="0.6" transform="rotate(-5 279.3 45.6)"/><ellipse cx="279.1" cy="47.3" rx="3.1" ry="0.6" transform="rotate(-5 279.1 47.3)"/><ellipse cx="274.7" cy="48.3" rx="0.9" ry="0.6" transform="rotate(0 274.7 48.3)"/><ellipse cx="282.3" cy="49.3" rx="2.3" ry="0.6" transform="rotate(-5 282.3 49.3)"/><ellipse cx="281.6" cy="51.2" rx="0.8" ry="0.6" transform="rotate(0 281.6 51.2)"/><ellipse cx="288.4" cy="51.2" rx="2.0" ry="0.6" transform="rotate(-15 288.4 51.2)"/><ellipse cx="291.8" cy="51.5" rx="0.8" ry="0.6" transform="rotate(0 291.8 51.5)"/><ellipse cx="217.2" cy="50.9" rx="1.4" ry="0.6" transform="rotate(0 217.2 50.9)"/><ellipse cx="223.5" cy="55.0" rx="0.7" ry="0.6" transform="rotate(0 223.5 55.0)"/><ellipse cx="213.3" cy="48.4" rx="0.7" ry="0.6" transform="rotate(0 213.3 48.4)"/><ellipse cx="252.8" cy="71.0" rx="0.7" ry="0.6" transform="rotate(0 252.8 71.0)"/><ellipse cx="256.0" cy="72.7" rx="0.7" ry="0.6" transform="rotate(0 256.0 72.7)"/><ellipse cx="243.5" cy="69.3" rx="0.7" ry="0.6" transform="rotate(30 243.5 69.3)"/><ellipse cx="263.0" cy="92.9" rx="0.7" ry="0.6" transform="rotate(0 263.0 92.9)"/><ellipse cx="262.1" cy="92.1" rx="0.7" ry="0.6" transform="rotate(0 262.1 92.1)"/><ellipse cx="265.7" cy="89.9" rx="0.7" ry="0.6" transform="rotate(0 265.7 89.9)"/><ellipse cx="259.1" cy="92.0" rx="0.7" ry="0.6" transform="rotate(0 259.1 92.0)"/><ellipse cx="245.8" cy="90.8" rx="0.7" ry="0.6" transform="rotate(0 245.8 90.8)"/><ellipse cx="237.5" cy="98.3" rx="0.7" ry="0.6" transform="rotate(0 237.5 98.3)"/><ellipse cx="234.8" cy="97.9" rx="0.7" ry="0.6" transform="rotate(0 234.8 97.9)"/><ellipse cx="233.8" cy="109.5" rx="0.7" ry="0.6" transform="rotate(0 233.8 109.5)"/><ellipse cx="257.9" cy="118.2" rx="1.2" ry="0.6" transform="rotate(-30 257.9 118.2)"/><ellipse cx="256.2" cy="116.6" rx="0.7" ry="0.6" transform="rotate(-20 256.2 116.6)"/><ellipse cx="240.1" cy="122.0" rx="0.7" ry="0.6" transform="rotate(0 240.1 122.0)"/><ellipse cx="242.7" cy="118.5" rx="0.7" ry="0.6" transform="rotate(0 242.7 118.5)"/><ellipse cx="226.9" cy="129.6" rx="1.8" ry="0.6" transform="rotate(40 226.9 129.6)"/><ellipse cx="204.3" cy="102.2" rx="0.7" ry="0.6" transform="rotate(0 204.3 102.2)"/><ellipse cx="179.6" cy="48.8" rx="1.5" ry="0.6" transform="rotate(0 179.6 48.8)"/><ellipse cx="131.3" cy="90.9" rx="0.7" ry="0.6" transform="rotate(0 131.3 90.9)"/><ellipse cx="145.7" cy="86.4" rx="0.7" ry="0.6" transform="rotate(0 145.7 86.4)"/><ellipse cx="197.9" cy="67.6" rx="0.7" ry="0.8" transform="rotate(10 197.9 67.6)"/><ellipse cx="209.1" cy="66.2" rx="0.7" ry="0.6" transform="rotate(0 209.1 66.2)"/><ellipse cx="197.9" cy="86.5" rx="0.7" ry="0.6" transform="rotate(0 197.9 86.5)"/><ellipse cx="199.1" cy="87.4" rx="0.7" ry="0.6" transform="rotate(0 199.1 87.4)"/><ellipse cx="104.4" cy="20.3" rx="0.7" ry="1.4" transform="rotate(20 104.4 20.3)"/><ellipse cx="103.3" cy="17.6" rx="1.4" ry="0.6" transform="rotate(-20 103.3 17.6)"/><ellipse cx="86.2" cy="6.5" rx="1.0" ry="0.6" transform="rotate(-30 86.2 6.5)"/><ellipse cx="95.2" cy="10.0" rx="0.7" ry="1.0" transform="rotate(20 95.2 10.0)"/><ellipse cx="94.2" cy="12.5" rx="0.7" ry="0.6" transform="rotate(0 94.2 12.5)"/><ellipse cx="83.3" cy="3.5" rx="0.7" ry="0.6" transform="rotate(0 83.3 3.5)"/><ellipse cx="24.4" cy="83.9" rx="0.7" ry="0.6" transform="rotate(0 24.4 83.9)"/><ellipse cx="93.4" cy="125.1" rx="0.7" ry="0.6" transform="rotate(0 93.4 125.1)"/><ellipse cx="87.8" cy="117.6" rx="0.7" ry="0.6" transform="rotate(0 87.8 117.6)"/></g></g><rect x="0" y="0" width="312.3" height="175.7" fill="none" stroke="#747474" stroke-width="1"/><path d="M0.0 175.7v6.2M19.5 175.7v6.2M39.0 175.7v6.2M58.6 175.7v6.2M78.1 175.7v6.2M97.6 175.7v6.2M117.1 175.7v6.2M136.6 175.7v6.2M156.2 175.7v6.2M175.7 175.7v6.2M195.2 175.7v6.2M214.7 175.7v6.2M234.2 175.7v6.2M253.8 175.7v6.2M273.3 175.7v6.2M292.8 175.7v6.2M312.3 175.7v6.2M0 0.0h-6.5M0 19.5h-6.5M0 39.0h-6.5M0 58.6h-6.5M0 78.1h-6.5M0 97.6h-6.5M0 117.1h-6.5M0 136.6h-6.5M0 156.2h-6.5M0 175.7h-6.5" stroke="#747474" stroke-width="1" fill="none"/><rect x="0.5" y="1" width="14" height="15" fill="#fff" stroke="#777" stroke-width="0.9"/><text x="7.5" y="12.4" font-size="12" text-anchor="middle" fill="#222" font-family='"Liberation Sans", sans-serif'>A</text></g><g transform="translate(363.8,21.9)"><g clip-path="url(#frame)"><g clip-path="url(#land)"><rect x="-20" y="-20" width="360" height="220" fill="#00be46"/><path fill="#00b41e" fill-rule="evenodd" d="M-3 178.5l318 0l0-181.5l-318 0l0 181.5zM207 15.5l-3-1l.5-1l4.5-2l4.5-1l10 0l3.5 1l.5 1l-4 2l-4 1l-12.5 0z"/><path fill="#28b914" fill-rule="evenodd" d="M-3 178.5l318 0l0-181.5l-318 0l0 181.5zM182.5 28l-.5-.5l-.5-2l2-3l9-4.5l6-4.5l7.5-3l8.5-1.5l9-.5l8 1.5l2 .5l.5 1l0 1l-1.5 1l-7.5 2l-6.5 1l-12.5 1l-7 1.5l-4 1.5l-9.5 7l-3 .5z"/><path fill="#50c80f" fill-rule="evenodd" d="M-3 178.5l318 0l0-181.5l-318 0l0 181.5zM180.5 31l-1-1.5l-.5-3l1-3l1.5-2l12.5-8l6.5-3l11.5-2.5l13.5-1l10 1l2.5 1l1.5 1.5l0 2l-3.5 2l-15.5 3l-12.5 1l-5 1l-5 2l-13.5 9l-2 .5l-2 0z"/><path fill="#82d70a" fill-rule="evenodd" d="M-3 178.5l318 0l0-181.5l-318 0l0 181.5zM124 55l-2-1.5l.5-1l3.5-.5l4 0l1 .5l1 1l-1 1l-2 .5l-5 0zM180.5 33l-2-1l-1-2.5l0-4l1.5-4l4.5-4l8-4.5l4.5-2.5l7-2l8-1.5l23-2.5l6 .5l2.5 2l1 2l.5 1.5l-.5 2l-1.5 2l-2 1l-20.5 2.5l-9.5 1l-5 1l-6 3l-14.5 9.5l-4 .5z"/><path fill="#b4e600" fill-rule="evenodd" d="M-3 178.5l318 0l0-181.5l-66 0l-.5 13.5l-1.5 3l-2 2l-5 1.5l-11.5 .5l-21.5 3l-6 2.5l-16.5 11l-4 1l-2-.5l-1.5-1.5l-1-3.5l.5-6l1-3l1.5-2l9.5-6.5l5-2l7.5-2.5l17.5-3.5l5.5-2l.5-1l0-1l-5.5-3l-222 0l0 181.5zM123 56.5l-4-1l-3-2l0-1l1-1l3-1l6-.5l5 0l3.5 1.5l1.5 2l-1.5 2l-2.5 1.5l-4 0l-5-.5zM147.5 29.5l-2-1.5l-1-2.5l1-2.5l1-.5l2-.5l2 1.5l1 3l-1 2.5l-1 .5l-2 0z"/><path fill="#e6f500" fill-rule="evenodd" d="M-3 178.5l318 0l0-129l-1 1.5l-2.5 .5l-2-.5l-1-2l.5-2l1.5-.5l3 0l1.5 1l0-50.5l-59.5 0l0 6l-1.5 6l-2.5 5.5l-2.5 2.5l-5 1l-15.5 .5l-20.5 2.5l-6 3l-9.5 6l-8 5.5l-4 1l-2-.5l-2-1l-2-4l0-6.5l2-6l3-3l9-6.5l5.5-1.5l15-3.5l4.5-2l.5-1l0-1l-4.5-3l-212.5 0l0 181.5zM83 63.5l-5-1l-11.5-4.5l-9.5-2.5l-3.5-2l.5-1l4.5-1.5l5-1l6 0l3.5 1l8 5l5 2l2 1.5l.5 2l0 2l-1.5 .5l-4-.5zM95.5 75l-3-2l-1-2l-.5-2.5l.5-1.5l3 1l5 2l2 1.5l1 1.5l0 1l-2 1.5l-2 .5l-3-1zM127 58.5l-6-.5l-5-1.5l-3-2l-1-2l2-2l7-2l8 0l5.5 1l2 1.5l2 1.5l0 2l-.5 1l-4.5 2.5l-6.5 .5zM147.5 33.5l-3.5-1.5l-3-1.5l-1.5-2l-.5-3l.5-3l1-3l2-2l3-1l4 0l3 2l1.5 2.5l1 3.5l-.5 4l-1.5 2.5l-2.5 2l-3 .5z"/><path fill="#fff500" fill-rule="evenodd" d="M-3 178.5l318 0l0-124l-3.5 .5l-3-.5l-2-2l-3-4.5l-2-2.5l-3-1.5l-8.5-2l-1.5-2l.5-1l2-.5l11.5 3l12.5 .5l0-45l-52 0l.5 4l-.5 3l-3.5 7.5l-2 7l-2 1.5l-4.5 .5l-20.5-1.5l-20.5 2.5l-7 3l-10.5 6.5l-7 5.5l-3 1l-2 .5l-3-.5l-2-1.5l-1.5-2l-1-2l-.5-5.5l1.5-10l5.5-7.5l1.5-5l.5-1.5l3 2l6 .5l6.5-1l6-2l1-1l-.5-1l-5.5-3l-15.5 0l-1 1.5l-.5-1.5l-184 0l0 181.5zM98.5 78l-6-2l-2-2l-3.5-4.5l-3-2l-11-1.5l-8.5-4.5l-13-2.5l-4-1.5l-3-3l-.5-2l.5-1.5l2.5-2.5l4.5-1.5l6-.5l11-.5l5.5 1l9 4l8 1l1 .5l1 2l1 6l1 3l1.5 2l7 5l2 2.5l0 2l-2 2l-2 1l-3 0zM124 59.5l-9-2l-3-1l-2-2l-1-1l0-2l1.5-1.5l1.5-1l10-2l9 0l6.5 2.5l2 1.5l2 1.5l0 1l-.5 2l-1.5 1.5l-2.5 1.5l-6 1.5l-7-.5zM144.5 35l-5-2l-3.5-2.5l-1.5-3l-.5-4l2-5l3.5-6l3-2.5l7-3l2-2l6 12.5l.5 5l-.5 6l-2 3.5l-2.5 2.5l-3.5 1l-5-.5zM269.5 40.5l-2.5-3.5l-2-7.5l0-4l1.5-1l2 0l3 1.5l2 2.5l1 2.5l.5 3l-1.5 4.5l-2 2l-2 0z"/><path fill="#ffe100" fill-rule="evenodd" d="M-3 178.5l318 0l0-121.5l-4.5 0l-3-.5l-2-1.5l-5-6.5l-3-1.5l-3.5-1l-10 0l-1 1l-1 4l-1.5 1.5l-1.5 1l-2 0l-1-2l-2.5-4.5l-5-3l-2-2l-4.5-11l-3.5-4l-4-2l-9.5-3l-10-2l-7.5 0l-18.5 2.5l-4 2l-11 6.5l-8.5 7l-5 1.5l-4.5-1.5l-3.5-3l-1.5-4l-.5-7.5l-.5-3l-1-2l-3-1l-2 1l-1 1l-1.5 3l-2 8.5l-2 3l-2.5 2l-2.5 1.5l-3 0l-4 0l-5.5-1.5l-6.5-3l-2-2l-1-1.5l-1-3l0-3l2-10l-1-2l-6-2.5l-1.5-2l-1.5-4l0-6l-124.5 0l0 181.5zM99.5 80l-4-.5l-4-1.5l-2-2l-4.5-4.5l-3-1.5l-4-.5l-7.5 2l-4.5-.5l-2-.5l-4-5l-12-4l-5-3l-1.5-2l-1.5-3l0-4.5l1.5-3l4.5-4l1-2l-3.5-7l.5-8.5l-3-7l0-2l1-1l2 0l3.5 5l2.5 1l3.5 .5l7-.5l3 .5l2 1.5l3 4.5l2 2l2.5 1.5l6.5 1.5l4.5 3l2 0l8.5-1l3 1l1 .5l.5 1.5l-.5 2.5l-2 2l-2 1l-2 0l-7.5-5l-1 0l-2 2l-.5 2.5l1.5 2l2 .5l6.5-.5l2 0l3.5 4l1 3.5l-1 7l.5 4l2.5 3l6 5l2 2.5l0 2l-2.5 3l-3 2l-3 0zM122 60.5l-10-2.5l-3-1.5l-2.5-2l-1-2l-.5-1.5l1.5-2l2-1l13.5-2.5l9 0l4.5 1.5l4 1.5l3 2l1.5 2l0 2l-1 2l-4.5 3l-7.5 1.5l-9-.5zM278 44l2 .5l1-.5l0-1.5l-1-1.5l-1-.5l-1 1l0 1.5l0 1zM305.5 38l9.5 .5l0-34l-4.5-.5l-6 2l-4 0l-3-1l-1.5-2l-.5-3l1-3l-17.5 0l.5 4l-1 3l-2.5 3l-7 4.5l-.5 2l.5 2l5.5 4l5 7l2.5 2l6 2.5l8.5 4.5l9 2.5z"/><path fill="#f0d700" fill-rule="evenodd" d="M-3 178.5l318 0l0-120l-5.5 .5l-4-1l-1.5-1.5l-2.5-4l-2-2.5l-3-1.5l-2.5-.5l-6 .5l-2 1.5l-5 5l-3 1l-2-.5l-1.5-2l-3.5-4.5l-5.5-5l-5-10.5l-3-3.5l-3.5-2.5l-11-4.5l-9-2.5l-7.5 0l-17 3l-14.5 8.5l-8.5 7l-4 1.5l-5 0l-4.5-2.5l-4-4l-3-6l-6 7l-3 2.5l-4 1.5l-6.5 .5l-11-2l-6.5-2.5l-3-2l-1-2.5l-.5-6l-.5-3l-2.5-3l-9.5-7.5l-3-4l-1.5-4l0-6l-15.5 0l-1 3l.5 2l2.5 5l.5 3l0 1.5l-1 2l-2.5 2l-5 .5l-3-1.5l-3-3.5l-2 1.5l-6 2.5l-1 1l0 3.5l1.5 4l.5 1l2 .5l7-1l5 3.5l3 1.5l2.5 .5l7 0l3 1l2 1.5l1 2l.5 9l.5 1l2 1l4.5 0l11-1.5l5 0l4.5 1l6 2l4 2.5l2.5 2.5l1 3l-.5 2l-2 2.5l-4 2l-5 1l-5.5 .5l-9-1l-9.5-2.5l-8-2.5l-2 .5l-1.5 2.5l.5 3l1 2l7.5 6l1.5 1.5l.5 2l-1.5 3l-3 3l-3 1.5l-4 .5l-5-1l-4.5-2l-6-5l-2-1l-3 0l-6 2l-2.5 .5l-7-.5l-5.5-2l-16.5-11.5l-3-4l-3.5-7l-3-2l-2.5 0l-8 1.5l-24.5-.5l0 129zM307.5 34l7.5 0l0-9l-4.5 .5l-3-1l-7.5-8l-5-4l-4-2.5l-4 0l-3 1.5l-1 2l-.5 3l.5 3l2.5 3l13 9.5l3 1l6 1zM53.5 14.5l4 1l9.5-2l2-2l.5-2.5l-.5-3l-.5-1l-2 0l-13 0l-1-.5l-.5-1.5l.5-6l-10 0l-1 3l.5 3l2 2l6 2l2 5.5l1.5 2zM79.5 9l.5 .5l1-1l2.5-4.5l.5-3l-.5-4l-13 0l-.5 4l1 3l5 2l3.5 3z"/><path fill="#ffc300" fill-rule="evenodd" d="M-3 178.5l318 0l0-118l-7.5 0l-4-.5l-1.5-1.5l-2-5l-1-2l-2.5-1l-2.5-1l-3 .5l-2.5 1l-5 4.5l-2.5 1.5l-3 1l-3-1l-1.5-1.5l-4-5.5l-5-4.5l-5-10l-3.5-4.5l-16-7.5l-5-1.5l-4.5-1l-16 2l-4.5 1.5l-14 8.5l-7.5 7l-5 2.5l-3 0l-3-.5l-9.5-4.5l-3-1l-11 5l-12.5 1.5l0 1l6 5l5 6l1.5 0l5-2l2 .5l1 3l-1 7l.5 3l1.5 2l6 2l1.5 1.5l.5 1l-1 2l-2 1l-3 0l-5-3.5l-2 0l-12.5 1.5l-2 0l-2-1l-.5-1l1.5-1.5l6.5-4l2-2l.5-2l-1-1l-12 2.5l-7.5 .5l-6-.5l-14.5-3.5l-5 0l-1.5 1l.5 2l8.5 7.5l1 2l0 2l-2.5 3l-6 5l-3 1.5l-4 0l-10.5-3l-7-4l-6 1.5l-3 0l-13.5-2l-5.5-2l-5-2.5l-3.5-2l-11.5-13.5l-2-1l-1.5 0l-5 2.5l-3 .5l-10-1l-14.5 .5l0 120zM246 56.5l-3.5-2l-1-1l0-2l1.5-1l2-1l3 .5l2 .5l2 2l0 3l-2 1.5l-4-.5zM112.5 42l4 0l2.5-1l1-1l0-2l-3.5-4l-.5-1l2.5-5.5l.5-3l-2-3l-3-2l-7.5-5l-3-.5l-5 5l-5 2.5l-1 2l0 1l2 .5l8-.5l2 .5l3 2.5l4.5 5.5l-1 6l0 2l1.5 1z"/><path fill="#ffb400" fill-rule="evenodd" d="M-3 178.5l318 0l0-116l-7.5 0l-8 1l-2 0l-.5-2l1-4l0-3l-1.5-2l-2.5-1l-2.5 0l-2.5 1l-5 5l-3 1.5l-4 .5l-2.5-.5l-2-1.5l-4-5.5l-5.5-5l-4.5-9l-4-5l-17.5-9.5l-3.5-1l-4-.5l-15 2l-3.5 1.5l-6 4.5l-7.5 4l-2.5 3l-2.5 5l-4.5 4l0 1l2.5 1.5l0 1.5l0 2.5l-.5 2l-5.5 8.5l-2 1.5l-2 1l-3 1l-2-1l0-8l1.5-4l5.5-5.5l0-1l-14.5-6l-3 .5l-3 1.5l-1 2l5 6l1 2.5l-1 7l.5 3l2.5 2l4.5 1.5l1 1l0 4l-1.5 4l-1 2l-3 2l-4 0l-10-2l-11.5 .5l-4-.5l-6-3l-1.5-2l-1-3l-2-1.5l-12-4l-5.5-1l-1.5 1l1.5 2l8 4.5l2.5 2l.5 1l-.5 2l-2 1.5l-8 3.5l-9.5 7.5l-9 4l-2 0l-4.5-3l-17.5-8l-6-1.5l-10-.5l-6.5-2.5l-6-3l-6-5l-3-1.5l-2.5 0l-8 1.5l-24.5-.5l0 110zM52.5 159l-1-2l-.5-2l.5-2l1-1l11-5l5-.5l2 1l-.5 2l-1.5 2l-8 3.5l-5 4l-2 .5l-1-.5zM79 115.5l-4-1.5l-1.5-1l-.5-1l2.5-2.5l5.5-3l4-.5l3 .5l2.5 2l2.5 3l-1.5 1.5l-4.5 2l-4 .5l-4 0zM80 142l-.5-.5l.5-1l1-.5l2-.5l1 .5l0 .5l-1 1l-3 .5zM106.5 133.5l-3-1l-1-.5l0-1l9.5-8l1.5 4l-1.5 5l-1.5 1.5l-4 0zM198 44l-.5 0l.5 0l2 0l-2 0zM212 56l-1.5-1.5l-1-2l.5-1.5l1-1l2-1l2.5 0l2.5 1l1.5 1l0 2.5l-2 2l-3 1l-2.5-.5zM229.5 44l-2-1l.5-1l.5-.5l2 .5l0 1.5l-1 .5zM248 60.5l-7-2.5l-3-2.5l-2-4l0-2l1-1.5l4-1.5l6 0l4 1.5l3.5 3l2.5 3.5l0 3l-.5 2l-1 1l-1.5 1l-3 0l-3-1zM53.5 132l-1-.5l-.5-1.5l.5-1.5l1-.5l1 .5l1 1.5l-.5 1l-1.5 1zM112 122l-3.5-4l-5.5-4l-1-1l.5-1l6-.5l3.5 .5l2 1l1 2l0 3l-1 2l-2 2z"/><path fill="#ffa000" fill-rule="evenodd" d="M-3 178.5l318 0l0-114l-6.5 0l-10 2l-3.5-.5l-2-1.5l-.5-2l0-2l1.5-4l0-1l-1-1l-2 .5l-4.5 3.5l-3.5 1.5l-5 1.5l-5.5-.5l-3-1.5l-3-5.5l-2-1.5l-2-.5l-.5 .5l-.5 1l1 3.5l2 3l3 2.5l1.5 2l1 5l0 2.5l-1.5 1l-1 0l-5-5l-2-1l-3 0l-3 1.5l-3.5 7l-2 .5l-2 0l-2.5-1l-1.5-2l0-2l2.5-4.5l0-2l-1-1l-3.5-2l-7.5-3l-3-4l-1-1l-2 1l-1.5 4l-1.5 1.5l-12.5 .5l-3-.5l-2-1l-2.5-5.5l-1.5-2l-2-.5l-3 0l-2 1.5l-3 5l-7.5 9l-7 4.5l-4.5 9l-3 3l-3 .5l-12-1l-8.5 1l-13-1l-2.5 .5l-1.5 1l-1 3l.5 3l1 2l2.5 1.5l4 .5l3-.5l5-5.5l3-2l2 0l1 1l.5 2l0 2l-.5 1.5l-8.5 4l-1.5 5l0 6l1 1.5l8 2.5l1.5 1.5l1 2l0 3l-1.5 4l.5 6l-.5 3l-1 2.5l-2 1.5l-4 .5l-9-2l-3.5-1.5l-3-3.5l-2 0l-4 2l-3.5 5l-4 3l-4 1l-12 0l-6 1.5l-15.5 6.5l-7 5l-8.5 4.5l-6 4l-2 1l-2 0l-1.5-.5l-1.5-1.5l-3-6l-4-4.5l0-2l0-3l3-6l-1-5l-.5-1.5l-1-1l-5 1l-3 0l-2-1l-4.5-5l-4-1.5l-11 .5l-16.5-.5l0 54zM180.5 122l-5-1l-1-1l0-2l2-1.5l3-.5l3 .5l3.5 1.5l1 1l-.5 1l-1 1l-5 1zM228.5 64.5l0-1.5l1 .5l-1 1zM50.5 145.5l2 1l2 0l12-4l3-1.5l6.5-4.5l10.5-4l2.5-1.5l3.5-5l.5-2l-.5-2l-3.5-1.5l-11-1l-5 0l-2.5 1l-6 5.5l-4.5 6.5l-2.5 3l-3 1.5l-6.5 2.5l-.5 2l1 2l2 2zM132.5 123l2 .5l3-.5l4-1l1.5-1l.5-2l-2.5-7.5l-1.5-1.5l-6.5-1.5l-1-1l-1-8l-2-4l-9-3.5l-4-5.5l-2-.5l-1 .5l-1 2.5l0 4.5l-1.5 1.5l-7 2.5l-2 2l0 2l1 1l3 .5l10.5-1l5 0l4 2l5.5 3.5l1 1l.5 1l-.5 10.5l.5 2l.5 1zM59.5 109.5l5 0l5-1.5l7.5-5.5l2-2l1-2l0-3l-2-3l-3-2.5l-8.5-6l-4-1l-11-.5l-19.5-5l-35 0l0 20l36-.5l4 1.5l8 4.5l6.5 2l8 4.5zM257.5 48l1-.5l.5-.5l-.5-3l-2-5l-2-3l-4-3l-7.5-3l-5.5-4.5l-2.5-1.5l-4.5-1l-6.5 .5l-9.5 2.5l-1.5 .5l-2 2l0 2l3.5 1.5l7 2.5l13.5 2l6.5 5.5l8.5 2l7.5 4z"/><path fill="#fa8c14" fill-rule="evenodd" d="M-3 178.5l318 0l0-112l-5.5 0l-9 2l-5 0l-4-1l-3.5-4l-2-1l-8 1l-2 1l-1.5 2l1 7.5l-1 3l-3 2l-4 1l-3 0l-1.5-1l-2.5-5l-2-1l-1 1l-2 5.5l-1.5 1l-8-.5l-10-2.5l-8.5-.5l-3.5-1l-3-2l-5.5-5l-1.5 .5l-2 2.5l-1 1l-11 0l-6 2.5l-2-.5l-3.5-3.5l-3 0l-3 .5l-2 1l-1.5 3l-2 6l.5 3l1 1.5l5.5 4.5l5.5 9.5l.5 3l-1.5 4l-.5 2l1 2l7 3.5l1.5 2l.5 3l-2 2l-7.5 2l-11 1l-7.5-1l-8-2.5l-5 4l-4 9l-1.5 2.5l-2 1l-3 1l-10 0l-21.5 4l-14.5 .5l-7 1l-12.5 4.5l-8 5l-9.5 4l-6 4.5l-4 1.5l-2 0l-2.5-1l-5-6.5l-5.5-4l-1-3l0-7l-.5-2l-1.5-2l-4.5-3l-4-4.5l-1.5-1.5l-3-1l-9 .5l-8.5-1.5l-8 0l0 51zM70 132l3 0l7-2l2-2l0-2l-3-1.5l-4.5 .5l-3 3l-1.5 2l0 2zM161.5 120l.5 .5l1 0l5-4.5l3-4l1-3.5l-1.5-7l.5-8l-.5-2.5l-2.5-3l-5-1l-3 0l-2 1.5l-3.5 6l-7 5l-1 3l1 3l7 5l4.5 7.5l2.5 2zM62.5 105.5l4-.5l3.5-2.5l1-3l0-2l-.5-1l-7-4l-3-3l-2-1l-11.5-1.5l-3 .5l-1 1l0 2.5l2.5 3.5l9 5l5 4.5l3 1.5zM223.5 32l6 1l4.5-.5l2.5-1.5l.5-.5l0-2l-1-2l-3.5-2l-4-.5l-4 .5l-5.5 2l-1.5 2l1.5 2l4.5 1.5z"/><path fill="#ff6e00" fill-rule="evenodd" d="M-3 178.5l13.5 0l2-2.5l1 0l.5 2.5l16.5 0l.5-2l.5-2l-.5-1.5l-.5-1l-9.5-2l-1.5-1l0-1l.5-2l4.5-5l1.5-3l1-3l-1-2.5l-1.5-1l-2-.5l-7-.5l-1 1l.5 16.5l-1.5 6l-1-.5l-2.5-1.5l-2-1l-11 0l0 7.5zM37.5 178.5l277.5 0l0-56.5l-42.5 0l-11-.5l-7.5 2l-3-.5l-3-2l-3-5.5l-5-2.5l-2-1.5l-2.5-6l-5-2.5l-5.5-4.5l-2.5-1.5l-4-1l-5 .5l-4.5 1.5l-3 3.5l-1.5 5l.5 8.5l-.5 4l-1 3l-3.5 2.5l-5 1l-15.5 1.5l-6.5 0l-8-.5l-3 0l-3.5 2.5l-5.5 9l-1.5 2l-2 1l-11 1l-21.5 3.5l-21.5 1.5l-7.5 1.5l-6 2l-8 5l-9.5 4l-7 5l-4 1.5l-2.5 0l-3-.5l-6-6l-2-1l-3 .5l-2 1l-1.5 2l-1 6l.5 2.5l4 1l2 2l0 3l-1.5 2zM-3 161l2 .5l4 0l3.5-1.5l1.5-1.5l.5-2.5l-.5-3.5l-3-1l-8-.5l0 10zM10.5 149.5l1 .5l2 .5l1-1l0-10l-.5-2l-5-4l-3-1.5l-4-.5l-5 0l0 10l7 0l3 1l1.5 2l2 5zM161 112l1 .5l1.5-.5l1-1.5l-.5-2l-2.5-4l-.5-2l.5-2l3-6l-.5-1.5l-1-.5l-2 0l-3 5l-5.5 3l-1 2l1 2l5.5 3.5l3 4zM249 112l4 1l9.5-1l52.5 0l0-2.5l-4.5 .5l-4-1l-3-2.5l-2-3l1-1l12.5 0l0-33.5l-5.5 0l-18 2l-3 1l-.5 1l5 15l4.5 4.5l1.5 2l2 7l-.5 1l-12.5 0l1 0l1-5l0-3l-1-1l-3-1l-9 0l-3.5-3l-2-1l-2 1.5l-1 1.5l-.5 4l1 3l2.5 2.5l3.5 1.5l3 0l-26 0l-11-1l-2 1l0 1.5l5 2.5l5 5.5zM279 103.5l-.5 0l.5-1l3 0l4 0l0 1l-3 .5l-4-.5zM281.5 70.5l2.5 0l.5-1l-.5-1l-1.5-1l-1.5 0l-.5 1l1 2zM226.5 30.5l5-.5l1-.5l.5-2l-.5-1l-3-1.5l-3 .5l-2 .5l-1.5 1.5l0 1l1 1l2.5 1z"/><path fill="#fa5000" fill-rule="evenodd" d="M46.5 178.5l268.5 0l0-52.5l-26 0l-14 3.5l-10.5-1.5l-10.5 1l-4-.5l-4-2.5l-6-6.5l-6-3.5l-4.5-4l-5.5-2.5l-1-1l-1.5-4l-2-2l-3-.5l-2 1.5l0 2l1 2.5l3.5 2.5l.5 1.5l-1.5 2l-5 4l-5.5 7l-2.5 1.5l-5 1l-23.5 2l-13.5 0l-2 .5l-1.5 2l-4 6.5l-2.5 3l-3.5 2l-12 1.5l-18.5 3l-15.5 1.5l-11 .5l-6.5 1.5l-4 1.5l-8 4.5l-9 3.5l-7.5 5l-9.5 3.5l-1 1.5l-1 2l.5 5.5zM308.5 93.5l3 1l3.5-1l0-8l-8 .5l-.5 2l0 3l1 1.5l1 1zM304.5 85l2-.5l2-2.5l2-1l2 0l2.5 1l0-8.5l-15.5-.5l-3 .5l-1.5 1l-1 1.5l0 2l2.5 4l3 2l5 1z"/><path fill="#ff2d0a" fill-rule="evenodd" d="M50.5 178.5l264.5 0l0-49l-27 0l-3.5 1.5l-8.5 5.5l-2 2l-.5 2l0 11l-1.5 4.5l-9.5 12l-3 2.5l-2 0l-6.5-3.5l-9-3l-2.5-2l-.5-1l.5-2l3.5-6l.5-2.5l-1-5l-3.5-4l-2-.5l-5.5 .5l-4-.5l-4-1.5l-10.5-6.5l-4-1.5l-13-1.5l-6.5 0l-16 1.5l-7.5 0l-3 .5l-3 2.5l-3 6l-2.5 3l-2 2l-4 1l-16.5 2l-28.5 4.5l-12-.5l-6.5 1.5l-10 5l-8.5 3.5l-7 4.5l-8 4l-2 2.5l1 5zM239 132l0-2l-1-.5l0 1.5l1 1z"/><path fill="#ff1400" fill-rule="evenodd" d="M54 177.5l.5 1l186.5 0l1-2l.5-2l-1-1.5l-8-6l-3.5-4l-1-3l2-7l-.5-1.5l-2-.5l-7 .5l-2 0l-2-2l-2-5l-1.5-3l-5.5-5l-3.5-2l-5-1.5l-6-1l-4.5 0l-25.5 3.5l-2 1.5l-4 6.5l-3 3l-3.5 2.5l-5 1.5l-5 1l-12.5 0l-14 2l-11.5 2.5l-12-.5l-5.5 1l-10 4.5l-8.5 3l-7 5l-5.5 3l-1.5 1l-.5 1.5l1 3zM277 178.5l16.5 0l1-2l-.5-3.5l-1-1.5l-8-1l-4-.5l-2 .5l-2 1l-.5 2l-.5 2.5l1 2.5zM305 178.5l10 0l0-7.5l-8.5-.5l-.5-2.5l.5-5l1-2l3-1l4.5 .5l0-10l-4.5-.5l-3 1.5l-4 5.5l-5 3l-2 3l-1 4l.5 3l1.5 1l7.5 1l.5 2.5l-.5 4z"/><path fill="#eb0014" fill-rule="evenodd" d="M62.5 178.5l157.5 0l.5-4l-.5-2.5l-2.5-4l-4-4l-7.5-6l-1.5-2l-.5-3.5l3-8l0-2l-1-2l-3.5-3l-4-2l-4.5-1l-4.5-.5l-8 1l-15.5 5l-2 1.5l-6 8l-4 3.5l-3.5 4l-2 1.5l-5 0l-11-3l-5.5 0l-9 .5l-13.5 3.5l-13.5-.5l-5.5 1l-15 5.5l-4 2.5l-5.5 5.5l0 2l1.5 3z"/><path fill="#dc002d" fill-rule="evenodd" d="M68 177.5l.5 1l132 0l.5-4l-.5-2.5l-5.5-10l-1.5-5l1-4l5.5-7.5l.5-3l-2-3l-4.5-2l-4.5-1l-6 1l-4 1.5l-3.5 2.5l-1.5 2l-2 6l-1.5 2l-9 5l-5.5 4.5l-3.5 1.5l-4.5 1l-6-.5l-7-1l-8.5-2.5l-4-.5l-4 .5l-11.5 2.5l-15 1.5l-18.5 4.5l-2.5 1l-2.5 2l-1 2l0 1.5l0 3z"/><path fill="#c80032" fill-rule="evenodd" d="M92.5 178.5l98 0l.5-5l-1.5-4.5l-3-8l-3-3.5l-3-.5l-4 1l-7.5 4l-13 4l-4.5 .5l-16-.5l-14.5-2.5l-21.5 2.5l-4 1.5l-2 2.5l-1.5 3.5l.5 5zM186.5 145.5l2 .5l2-.5l1-1l0-2l-2-1l-3 .5l-1 1.5l1 2z"/><path fill="#a0003c" fill-rule="evenodd" d="M98 178.5l83 0l0-5l-1-3.5l-1.5-1.5l-2 0l-4.5 2l-3 .5l-34.5-.5l-9.5 1l-10-3l-8.5-.5l-5 1l-2.5 2l-1.5 2.5l.5 5z"/><path fill="#78006e" fill-rule="evenodd" d="M106 174.5l.5 1l.5-1l-1 0z"/><path fill="#fff" d="M101.0 175.8L101.0 173.2L106.8 173.2L106.8 170.9L117.9 170.9L117.9 166.2L120.9 166.2L120.9 164.5L126.1 164.5L126.1 161.9L134.9 161.9L134.9 159.2L137.8 159.2L137.8 157.2L140.7 157.2L140.7 155.1L146.5 155.1L146.5 152.8L159.4 152.8L159.4 155.7L162.3 155.7L162.3 158.6L167.6 158.6L167.6 166.2L169.9 166.2L169.9 170.9L172.2 170.9L172.2 173.8L174.6 173.8L174.6 180.0L101.0 180.0ZM290.1 150.0L290.1 173.6L286.3 173.6L286.3 180.0L320.0 180.0L320.0 150.0Z"/></g><path d="M73.7 -5.9L73.7 0.0L74.5 2.0L79.1 1.5L83.9 2.9L87.8 4.4L92.7 5.4L95.6 7.3L97.6 9.3L98.1 11.7L102.5 15.6L105.9 18.1L106.9 20.0L105.9 22.4L107.4 24.4L104.9 29.3L104.9 33.2L105.4 39.0L103.0 43.9L99.7 45.2L97.6 45.7L92.7 45.1L87.8 45.4L83.0 44.2L78.1 44.6L73.2 44.9L68.3 44.2L61.5 42.9L56.6 43.2L48.8 43.3L42.0 41.5L39.0 42.0L36.1 43.9L30.3 45.9L27.3 47.8L26.4 49.8L29.3 52.7L30.3 55.6L30.7 58.6L31.2 61.5L32.2 66.4L32.7 70.3L31.2 75.2L30.3 78.1L28.3 82.0L25.9 84.4L25.4 87.8L24.9 90.3L27.8 91.3L27.3 93.2L30.7 93.2L31.2 96.6L31.2 100.5L30.7 104.4L29.8 107.4L33.2 106.4L39.0 107.4L44.9 105.6L49.3 105.4L53.7 107.8L55.1 109.3L56.6 113.2L58.6 115.2L62.5 117.1L64.9 116.1L66.4 113.7L71.2 112.2L74.2 110.1L78.1 109.8L83.0 110.1L87.8 109.8L92.7 109.3L96.1 110.1L98.6 107.4L101.0 103.5L106.4 102.0L109.8 101.0L110.3 97.6L112.2 94.2L116.1 91.7L119.1 90.3L117.1 88.8L114.7 85.9L113.7 83.0L115.2 80.0L117.6 77.6L121.0 74.7L124.9 71.2L125.4 68.8L128.8 67.3L134.7 65.9L138.6 64.4L144.4 61.5L148.4 59.5L147.9 55.6L146.9 52.7L146.9 49.8L149.3 46.4L153.2 44.9L157.1 43.4L162.0 44.9L164.9 44.9L169.3 45.9L172.8 47.3L175.7 47.8L179.6 47.3L182.5 45.9L185.4 43.4L188.4 42.0L192.3 41.0L196.2 39.5L199.1 37.1L203.0 34.9L207.9 35.6L212.8 38.1L216.7 40.0L217.6 43.9L219.6 48.8L222.5 50.8L225.5 53.2L229.4 54.7L233.3 57.6L237.2 61.5L242.0 64.9L245.0 65.9L250.8 65.9L252.8 67.8L254.7 69.8L257.2 71.2L258.2 72.2L261.1 71.7L263.0 74.7L265.0 76.6L269.4 77.6L271.3 80.5L272.3 83.4L274.3 87.8L273.8 90.8L271.8 91.3L272.3 93.2L269.9 95.6L269.9 98.1L272.8 98.4L274.7 97.6L278.2 93.7L279.1 89.8L284.5 87.8L284.5 83.9L282.6 83.0L278.6 80.5L279.1 77.1L282.1 73.7L286.0 73.7L291.8 75.2L293.3 77.6L296.7 80.0L297.7 77.1L297.2 75.2L292.8 71.7L287.4 69.8L283.0 67.3L278.2 65.4L272.8 63.4L275.2 59.5L272.3 59.0L265.5 59.3L261.1 58.1L256.7 54.7L253.8 51.7L251.3 46.8L249.9 43.4L245.0 41.0L240.1 38.1L237.2 34.2L238.1 31.2L237.2 27.3L238.1 24.9L243.0 23.4L246.0 22.0L250.8 22.4L249.9 24.9L249.4 28.3L252.3 30.7L254.2 27.3L257.2 25.9L260.6 27.3L263.0 29.8L264.5 33.2L267.4 36.1L271.3 39.5L273.3 43.4L277.2 43.9L282.1 44.9L286.0 48.3L289.9 49.8L293.8 52.2L298.2 54.7L301.6 56.1L305.0 59.5L307.4 62.0L307.0 65.4L307.0 69.3L306.0 73.7L307.4 75.2L310.9 78.1L312.3 79.5L318.2 82.0L318.2 -5.9ZM22.4 181.5L22.9 175.7L23.4 171.8L21.0 169.3L21.0 165.9L21.5 161.0L23.4 156.2L26.8 153.2L30.3 148.4L34.2 144.0L42.9 140.5L50.3 136.6L52.7 132.7L55.6 126.9L58.1 122.0L59.5 119.1L64.4 118.1L65.4 121.0L68.3 124.0L73.2 124.9L79.1 124.4L84.9 124.9L88.3 123.0L92.7 125.9L97.6 125.9L103.5 124.0L107.4 121.0L111.3 119.6L115.2 119.1L118.1 117.6L122.0 114.7L126.9 112.2L132.7 111.3L138.6 111.3L144.4 110.3L148.4 109.5L154.2 108.3L160.1 108.3L165.9 109.8L169.8 110.8L173.7 109.1L178.6 106.9L181.5 107.4L186.4 108.3L191.3 107.8L195.2 108.5L201.1 107.8L205.0 105.9L209.8 104.4L213.7 104.4L217.2 105.9L216.2 108.8L218.6 109.8L220.1 108.8L223.0 106.9L225.5 108.3L222.5 112.2L219.6 113.7L220.6 118.1L223.0 120.0L225.0 122.0L224.5 124.9L222.0 127.9L218.6 131.8L215.2 134.7L214.7 137.1L217.6 139.6L221.1 141.0L225.5 144.0L229.4 144.9L234.2 147.9L239.1 148.4L246.0 147.4L250.8 148.4L255.7 150.3L261.6 151.8L266.4 153.2L267.4 157.1L270.4 161.0L275.2 163.5L281.1 164.5L287.9 166.9L294.8 169.8L300.6 172.3L304.5 172.8L308.4 170.8L311.8 166.4L312.3 164.0L318.2 161.0L318.2 181.5ZM238.4 99.6L239.6 97.1L241.6 96.1L245.0 95.8L247.4 95.6L250.8 97.6L256.7 97.4L260.6 96.8L264.5 96.3L268.4 94.7L269.9 95.0L266.0 99.6L265.5 103.5L264.5 104.4L266.0 106.4L264.5 109.3L264.5 110.8L258.6 109.3L256.2 106.9L250.8 105.4L246.0 103.0L243.0 102.0L240.1 101.0ZM197.2 68.8L199.1 69.8L201.5 69.3L205.0 67.3L207.4 65.9L210.3 67.3L211.3 69.3L212.3 72.2L212.8 75.2L211.3 78.1L211.8 82.0L210.8 85.9L209.4 86.4L205.9 85.9L204.5 88.3L201.1 88.8L199.1 87.4L199.6 84.4L200.1 81.0L199.1 79.1L200.1 76.1L199.1 73.7L197.2 72.2L196.7 70.3ZM208.9 48.8L209.4 51.7L210.3 55.1L210.3 58.1L208.9 60.5L207.9 62.5L206.9 64.6L204.5 63.4L203.0 62.5L201.5 60.5L201.1 58.1L201.5 55.6L201.1 54.7L202.5 53.2L205.4 51.7L207.9 51.2ZM140.1 82.5L141.5 81.0L144.9 79.3L148.4 78.6L147.9 80.5L150.8 80.8L149.3 83.4L146.9 84.9L144.0 83.0L142.0 83.4ZM154.2 78.1L157.1 77.5L159.1 79.5L155.7 78.9ZM128.8 88.3L131.8 86.9L132.7 87.8L130.8 89.3ZM222.0 137.6L225.0 138.1L224.5 140.1L221.6 139.6Z" fill="none" stroke="#555" stroke-width="0.6"/><g fill="#fff" stroke="#444" stroke-width="0.5"><ellipse cx="259.4" cy="28.6" rx="1.4" ry="0.7" transform="rotate(-40 259.4 28.6)"/><ellipse cx="257.7" cy="31.4" rx="0.7" ry="2.9" transform="rotate(-15 257.7 31.4)"/><ellipse cx="261.4" cy="31.4" rx="0.8" ry="0.6" transform="rotate(-40 261.4 31.4)"/><ellipse cx="263.3" cy="33.7" rx="2.9" ry="0.6" transform="rotate(-40 263.3 33.7)"/><ellipse cx="264.0" cy="39.0" rx="2.1" ry="0.6" transform="rotate(-40 264.0 39.0)"/><ellipse cx="265.7" cy="38.8" rx="1.8" ry="0.6" transform="rotate(-40 265.7 38.8)"/><ellipse cx="267.2" cy="40.8" rx="1.2" ry="0.6" transform="rotate(-40 267.2 40.8)"/><ellipse cx="270.4" cy="42.5" rx="1.0" ry="0.6" transform="rotate(-30 270.4 42.5)"/><ellipse cx="279.3" cy="45.6" rx="2.1" ry="0.6" transform="rotate(-5 279.3 45.6)"/><ellipse cx="279.1" cy="47.3" rx="3.1" ry="0.6" transform="rotate(-5 279.1 47.3)"/><ellipse cx="274.7" cy="48.3" rx="0.9" ry="0.6" transform="rotate(0 274.7 48.3)"/><ellipse cx="282.3" cy="49.3" rx="2.3" ry="0.6" transform="rotate(-5 282.3 49.3)"/><ellipse cx="281.6" cy="51.2" rx="0.8" ry="0.6" transform="rotate(0 281.6 51.2)"/><ellipse cx="288.4" cy="51.2" rx="2.0" ry="0.6" transform="rotate(-15 288.4 51.2)"/><ellipse cx="291.8" cy="51.5" rx="0.8" ry="0.6" transform="rotate(0 291.8 51.5)"/><ellipse cx="217.2" cy="50.9" rx="1.4" ry="0.6" transform="rotate(0 217.2 50.9)"/><ellipse cx="223.5" cy="55.0" rx="0.7" ry="0.6" transform="rotate(0 223.5 55.0)"/><ellipse cx="213.3" cy="48.4" rx="0.7" ry="0.6" transform="rotate(0 213.3 48.4)"/><ellipse cx="252.8" cy="71.0" rx="0.7" ry="0.6" transform="rotate(0 252.8 71.0)"/><ellipse cx="256.0" cy="72.7" rx="0.7" ry="0.6" transform="rotate(0 256.0 72.7)"/><ellipse cx="243.5" cy="69.3" rx="0.7" ry="0.6" transform="rotate(30 243.5 69.3)"/><ellipse cx="263.0" cy="92.9" rx="0.7" ry="0.6" transform="rotate(0 263.0 92.9)"/><ellipse cx="262.1" cy="92.1" rx="0.7" ry="0.6" transform="rotate(0 262.1 92.1)"/><ellipse cx="265.7" cy="89.9" rx="0.7" ry="0.6" transform="rotate(0 265.7 89.9)"/><ellipse cx="259.1" cy="92.0" rx="0.7" ry="0.6" transform="rotate(0 259.1 92.0)"/><ellipse cx="245.8" cy="90.8" rx="0.7" ry="0.6" transform="rotate(0 245.8 90.8)"/><ellipse cx="237.5" cy="98.3" rx="0.7" ry="0.6" transform="rotate(0 237.5 98.3)"/><ellipse cx="234.8" cy="97.9" rx="0.7" ry="0.6" transform="rotate(0 234.8 97.9)"/><ellipse cx="233.8" cy="109.5" rx="0.7" ry="0.6" transform="rotate(0 233.8 109.5)"/><ellipse cx="257.9" cy="118.2" rx="1.2" ry="0.6" transform="rotate(-30 257.9 118.2)"/><ellipse cx="256.2" cy="116.6" rx="0.7" ry="0.6" transform="rotate(-20 256.2 116.6)"/><ellipse cx="240.1" cy="122.0" rx="0.7" ry="0.6" transform="rotate(0 240.1 122.0)"/><ellipse cx="242.7" cy="118.5" rx="0.7" ry="0.6" transform="rotate(0 242.7 118.5)"/><ellipse cx="226.9" cy="129.6" rx="1.8" ry="0.6" transform="rotate(40 226.9 129.6)"/><ellipse cx="204.3" cy="102.2" rx="0.7" ry="0.6" transform="rotate(0 204.3 102.2)"/><ellipse cx="179.6" cy="48.8" rx="1.5" ry="0.6" transform="rotate(0 179.6 48.8)"/><ellipse cx="131.3" cy="90.9" rx="0.7" ry="0.6" transform="rotate(0 131.3 90.9)"/><ellipse cx="145.7" cy="86.4" rx="0.7" ry="0.6" transform="rotate(0 145.7 86.4)"/><ellipse cx="197.9" cy="67.6" rx="0.7" ry="0.8" transform="rotate(10 197.9 67.6)"/><ellipse cx="209.1" cy="66.2" rx="0.7" ry="0.6" transform="rotate(0 209.1 66.2)"/><ellipse cx="197.9" cy="86.5" rx="0.7" ry="0.6" transform="rotate(0 197.9 86.5)"/><ellipse cx="199.1" cy="87.4" rx="0.7" ry="0.6" transform="rotate(0 199.1 87.4)"/><ellipse cx="104.4" cy="20.3" rx="0.7" ry="1.4" transform="rotate(20 104.4 20.3)"/><ellipse cx="103.3" cy="17.6" rx="1.4" ry="0.6" transform="rotate(-20 103.3 17.6)"/><ellipse cx="86.2" cy="6.5" rx="1.0" ry="0.6" transform="rotate(-30 86.2 6.5)"/><ellipse cx="95.2" cy="10.0" rx="0.7" ry="1.0" transform="rotate(20 95.2 10.0)"/><ellipse cx="94.2" cy="12.5" rx="0.7" ry="0.6" transform="rotate(0 94.2 12.5)"/><ellipse cx="83.3" cy="3.5" rx="0.7" ry="0.6" transform="rotate(0 83.3 3.5)"/><ellipse cx="24.4" cy="83.9" rx="0.7" ry="0.6" transform="rotate(0 24.4 83.9)"/><ellipse cx="93.4" cy="125.1" rx="0.7" ry="0.6" transform="rotate(0 93.4 125.1)"/><ellipse cx="87.8" cy="117.6" rx="0.7" ry="0.6" transform="rotate(0 87.8 117.6)"/></g></g><rect x="0" y="0" width="312.3" height="175.7" fill="none" stroke="#747474" stroke-width="1"/><path d="M0.0 175.7v6.2M19.5 175.7v6.2M39.0 175.7v6.2M58.6 175.7v6.2M78.1 175.7v6.2M97.6 175.7v6.2M117.1 175.7v6.2M136.6 175.7v6.2M156.2 175.7v6.2M175.7 175.7v6.2M195.2 175.7v6.2M214.7 175.7v6.2M234.2 175.7v6.2M253.8 175.7v6.2M273.3 175.7v6.2M292.8 175.7v6.2M312.3 175.7v6.2M0 0.0h-6.5M0 19.5h-6.5M0 39.0h-6.5M0 58.6h-6.5M0 78.1h-6.5M0 97.6h-6.5M0 117.1h-6.5M0 136.6h-6.5M0 156.2h-6.5M0 175.7h-6.5" stroke="#747474" stroke-width="1" fill="none"/><rect x="0.5" y="1" width="14" height="15" fill="#fff" stroke="#777" stroke-width="0.9"/><text x="7.5" y="12.4" font-size="12" text-anchor="middle" fill="#222" font-family='"Liberation Sans", sans-serif'>B</text></g><g transform="translate(27.5,251.0)"><g clip-path="url(#frame)"><g clip-path="url(#land)"><path fill="#f0f8fd" fill-rule="evenodd" d="M52 178.5l211.5 0l-1-3l0-2l5-6l1-2.5l0-3l-1-3.5l-2-1.5l-9-1.5l-8.5-4.5l-2-1l-13.5-.5l-2-1.5l-5-5l-12.5-5l-5-1l-15-1l-11.5-4.5l-9 4l-8.5 2.5l-3 1.5l-1.5 2l-1 2l1 8l-1.5 2.5l-3 1.5l-9.5 3.5l-8 4l-7 2l-7.5 1l-20.5-2.5l-4-1.5l-1-1l-.5-2l2.5-7.5l1.5-10l2-6l-.5-1l-5-2.5l-1-1l-1-7l-1.5-3l-2.5-1.5l-2.5-1l-17-.5l-5.5 1l-4 2l-1.5 3l-2 13.5l-2.5 6l-3 3l-7.5 4.5l-3 2l-6.5 7l-2 4l-1 5l.5 2l1 0l3.5-2l7.5-3l6-6l2.5-.5l3 .5l1 1l0 2l-4.5 5l-1.5 3l-.5 7.5zM82 155.5l-6-3l-2-2l-.5-2l.5-3l1.5-3l2.5-2l3-1l1 .5l1 1.5l2.5 11.5l-.5 2.5l-1 .5l-2-.5zM247 141.5l1 .5l1-.5l0-1l-1-1l-1 .5l0 1.5zM246.5 132l3.5-.5l8.5-3.5l4-1l4 .5l7 2l3.5 0l2-.5l2-2l2-4l0-2l-1-2l-6.5-4l-1.5-2l-1-2.5l.5-7l-1-3l-6-4.5l-4-6l-7-4l-2-4l-1-5l.5-4l2.5-2.5l6-3l1-1l.5-3l-1-3l-6.5-4l-3.5-5.5l-2-1.5l-2-.5l-3 .5l-6.5 2l-2 2l0 3l1.5 2l6.5 5l1 2l0 3l-2 4.5l-3.5 4l-4 2l-3.5 0l-4-2l-2-3l-2-17.5l-1-3l-2-2.5l-3-1l-8.5 1l-8-2l-3.5 1l-2 1.5l-3.5 5l-4.5 4l-4 5l-6.5 5l-2 1.5l-1 3l0 4l.5 3l.5 2l7 5l4 6.5l2.5 2l3 .5l9.5-1l13.5 1l3 .5l3 1l5 5.5l4.5 3.5l2 2l1.5 2.5l0 5l-.5 2l-1.5 1l-11-2l-2 .5l-1.5 1.5l-.5 1l1 2l4 2l5 0l3.5-1l3-2.5l2-.5l3 1.5l5 7l2.5 1.5zM181 128l2.5-.5l6.5-4.5l.5-1l-.5-1l-2.5-1l-22.5-1.5l-6 1l-2 1.5l-.5 1l1 2l3.5 2l4 .5l8.5-1l7.5 2.5zM91 103.5l1.5 1l1-.5l1-1.5l-1-1l-2-.5l-1 1.5l.5 1zM284 85l3 0l1-1l0-1l-3.5-5l-2.5-7l-2-2.5l-3-1l-2.5 0l-7 1l-2 1l-1 1.5l.5 4l.5 4l2 3l2 1.5l2 0l7.5-.5l5 2zM111 52.5l4 1l7-1l11.5 0l4.5-1l-2-.5l-13-.5l-7-1l-4-.5l-2.5 .5l-2 1.5l1 1l2.5 .5zM309 49l6-.5l0-5.5l-5.5-.5l-3.5 1.5l-1 1l.5 2l1 1l2.5 1z"/><path fill="#e1f3fc" fill-rule="evenodd" d="M55 178.5l197.5 0l-1-4l1-2.5l2-2.5l7-5.5l.5-2l-.5-1l-14.5-8l-4-1l-9-1l-3.5-.5l-8-6.5l-11.5-5l-5-1l-13.5-1.5l-11-2.5l-3 .5l-13.5 4l-3.5 2l-1.5 3l0 2.5l1.5 5.5l-.5 1.5l-1 2l-3 2.5l-9 4.5l-6.5 6l-2 1.5l-2 0l-17.5 0l-20.5-.5l-4-1.5l-5.5-4l-9-4.5l-8-5l-1.5-1.5l-.5-2l.5-6l2.5-5l10-7.5l8.5-3.5l1.5-2.5l-.5-3l-1.5-2l-2-1l-13-1.5l-5 0l-5.5 1l-3.5 2.5l-1 3l-1 9.5l-3 9l-3.5 4l-6.5 5l-4 3.5l-3.5 5l.5 1.5l2 .5l2-1l4-4l3.5-1l5 0l4.5 2l.5 2l-.5 2l-5.5 6l-1.5 3l-.5 2.5l.5 4zM91.5 152.5l1 0l2-.5l2.5-4.5l.5-4l-.5-3l-1.5-2l-1-.5l-2 0l-2.5 1l-1.5 1.5l-1 2l0 3l1 3l1.5 2.5l1.5 1.5zM247 128l4 .5l8.5-3.5l4-.5l4 .5l6 2.5l2.5 0l3-1l2-3.5l-1-3l-6.5-4l-1.5-2l-1-2.5l.5-7l-1-3l-5.5-4l-4-6.5l-6.5-4.5l-2-3.5l-1-6l.5-5l2-2.5l5.5-3l1-1l.5-2l-1-2l-5.5-4l-3.5-6l-2-1l-4-.5l-5 1.5l-2 2l0 3l1.5 2l7 5l1 3l-.5 3l-3.5 5.5l-3.5 3.5l-4 1.5l-4.5 0l-4-2l-1.5-3l-2-17.5l-1-3l-1.5-2l-3-1.5l-8.5 1l-8-2.5l-2 0l-2 1l-4 6l-5.5 5l-4 5l-6 4l-1.5 1.5l-1.5 3l0 3l.5 3l.5 2l2 2l5 3l4 6.5l3 2l2.5 .5l11-.5l13.5 .5l4 1l6 6.5l6.5 5l3.5 8.5l7.5 8.5l2 1.5zM161.5 125l4.5 0l5-2l1.5-1l-1-1l-3.5-1l-4-.5l-3 .5l-2 1l-.5 1l1 2l2 1zM271.5 82l7.5-1.5l2.5-1.5l.5-2l-.5-4l-1-2l-1.5-1.5l-3-1l-3.5 0l-4 1l-2 1.5l-.5 3l1 5l1.5 2l3 1zM113 52.5l22.5-1l-4.5-.5l-8 0l-7-1.5l-4-.5l-2.5 1l-2 1l2 1l3.5 .5zM309.5 46l2 .5l2.5-.5l-1-1l-1.5-.5l-1.5 .5l-.5 1z"/><path fill="#d2edfa" fill-rule="evenodd" d="M57.5 178.5l35.5 0l.5-5.5l-1.5-3l-1.5-2l-2.5-2.5l-7-3l-6-4l-6-2.5l-1-2l1.5-9.5l2-6l12.5-9.5l7-2.5l.5-1l.5-1.5l-1.5-2l-12.5-2.5l-5-.5l-5.5 1l-2 1.5l-1.5 1.5l-1 3l.5 7.5l-1.5 4l-3 7l-5.5 8l.5 .5l1.5 1l11 2.5l.5 .5l0 2l-1.5 4l-6 5.5l-1.5 2.5l-1 2.5l.5 5zM151 178.5l1.5 0l0-7.5l1.5-1.5l2-.5l3 .5l3 2.5l.5 2.5l-.5 4l86 0l-.5-3l.5-2.5l1-2l4.5-6l1-3l-1-2l-1.5-2l-5-3.5l-5-1.5l-8.5-1l-4-.5l-8-6.5l-12.5-5l-5-1l-12-1.5l-9.5-2l-3 0l-14 4l-2 1l-1.5 1.5l-.5 2.5l1.5 7l0 2.5l-2 3.5l-5.5 5.5l-2 3l-3 7.5l.5 5zM247 125l2 1l3-.5l2.5-1l5-3l3-1l5 1l6.5 3.5l3-.5l1.5-1.5l-1-2l-6-3l-2.5-3l-.5-3l1-5.5l-.5-3l-1.5-1.5l-4.5-2.5l-2-6l-1.5-2l-7-4.5l-1.5-3l-2-11l-1 0l-6 6l-3 1.5l-5 1l-5.5-1.5l-2-1.5l-1.5-2.5l-2-18.5l-1-3l-1.5-2l-3-.5l-6.5 .5l-8-2l-4 .5l-2 1.5l-3 4.5l-5 4.5l-4.5 5.5l-5 3.5l-2 1.5l-1 2l-.5 3l1 5l2 2l5.5 3.5l3.5 6l2.5 2l3.5 .5l10-1l14.5 1l4 1l2 1.5l3.5 5l7 5l3.5 7.5l8.5 9zM258.5 112l-3-.5l-1-3l0-2l1-2l1-1.5l2-.5l2 1l.5 3l-.5 4l-2 1.5zM161.5 123l2.5 .5l2-.5l.5-1l-1.5-1l-2 0l-2 1l.5 1zM270 80l4.5 0l4.5-2l1.5-2l0-2l-.5-2l-2-1.5l-2-1l-2.5 0l-3 .5l-2 1l-1.5 2l0 3l1.5 3l1.5 1zM251 67.5l2 0l4.5-2l1-1l0-2l-5-4l-3.5-6l-1-1l-4-.5l-5 1.5l-1 2l0 2l2 2l7 4l3 5zM109 51.5l5 1l8-.5l9.5-.5l-9.5 0l-4-1.5l-5-.5l-2.5 0l-2 1l.5 1z"/><path fill="#c0e6f8" fill-rule="evenodd" d="M60 178.5l10 0l-.5-10.5l-2-.5l-3 .5l-4 3l-1 2.5l.5 5zM75 178.5l15 0l.5-4l-1-3.5l-1.5-2l-3-2l-12-4l-1.5 2l0 1l2.5 2l1 2l0 8.5zM166.5 178.5l79 0l-.5-3l0-2.5l5.5-8l.5-2l0-2l-2-3l-4-3l-4-1l-12-1.5l-2.5-1.5l-6-4.5l-14-6l-4.5-1l-10.5-1l-9-2l-4 .5l-12.5 3.5l-1.5 1l-1.5 2l0 2l1.5 5l0 2.5l-3 10l.5 2l4.5 7l.5 2.5l-.5 4zM60 152.5l3.5-.5l2-1.5l1.5-5l.5-9l7.5-3.5l4-2.5l5.5-5.5l0-1l-1-1l-4.5-2l-6-1l-4.5 1l-3 2l-1 4l2 8.5l-3 4.5l-5 9.5l0 2l1.5 1zM249.5 123l1.5 0l2-1l1-1l.5-2l-1-2l-3.5-5l-.5-3.5l.5-4l2-3.5l6.5-3.5l.5-2l-.5-2l-2-1.5l-5.5-3l-1-2l-1-6.5l-1.5-2.5l-1.5 0l-6 4l-4 1l-6.5-.5l-4-2l-1.5-3.5l-2-19.5l-1-3l-1.5-1l-2-.5l-6.5 .5l-7-2.5l-4 0l-2 1.5l-3.5 5l-5 4.5l-4.5 5.5l-7 4.5l-1.5 4l.5 3l.5 2.5l2 2l6.5 3.5l2.5 5.5l2 2l3.5 .5l11-1l15.5 .5l4 1l1 1l3.5 6l7.5 4l3.5 8l7.5 7.5l2 1zM240 100.5l-1-2l0-3l3-1l4 0l.5 2l-1.5 3l-3 1.5l-2-.5zM270 78l3.5 1l3.5-1.5l1.5-2.5l-.5-3l-2-1l-1.5-.5l-3 .5l-2 1l-1 3l1.5 3zM247.5 59.5l2.5 0l.5-1l-.5-4l-1.5-2l-3.5-.5l-3 .5l-1.5 1l0 2l.5 1.5l3 1.5l3.5 1zM109.5 51.5l4.5 1l5.5-1l0-.5l-6.5-1.5l-2.5 .5l-2 1l1 .5z"/><path fill="#acdef6" fill-rule="evenodd" d="M79 177.5l0 1l7.5 0l.5-5l-1-3l-3-1.5l-2 .5l-1 .5l-1 3l0 4.5zM170 178.5l73 0l-1-3l0-2l1-1.5l5.5-7l.5-2l0-2l-2-3l-3-2l-4-1l-11.5-2l-3-1.5l-6-4l-14.5-6l-4-1l-10.5-1l-8-2l-5 .5l-10.5 3.5l-1.5 1l-1 2l2 8l-1.5 9.5l5 10l0 6.5zM70 132l2 0l2-.5l4-2.5l2.5-3l0-2l-.5-1l-3-1.5l-4-1l-2.5 .5l-3 2l-1.5 2l.5 3l1.5 3l2 1zM242 111.5l1 .5l.5-.5l-.5-2l-1 .5l0 1.5zM231 100.5l1.5 1l1-1l-.5-1l-1.5-1l-1 1l.5 1zM192 93.5l3 .5l9-2l9 1l5.5 0l3-1l1.5-1l.5-2l-.5-2l-2.5-1.5l-4-1l-24-.5l-2 0l0-1l1-2l1.5-1l2 .5l7 3l8-.5l7.5 .5l4-1.5l1.5-4l0-7.5l-2-12l-.5-2l-1.5-2l-2.5-.5l-5.5 1l-7-3l-4 0l-2 1.5l-3 4.5l-5.5 4.5l-4 5l-7 5l-1 3.5l0 3l1 2l3 2.5l6.5 1.5l.5 1l1 5.5l2.5 2zM243 86l1 0l1-.5l0-1.5l-1 0l-1 1l0 1zM271 76l2.5 1l1.5-1l1-1l0-2l-1.5-.5l-3 .5l-1 1l.5 2zM244 56.5l3 .5l.5-1.5l0-1l-1.5-1l-2.5 0l-1 1l0 1l1.5 1zM110 51.5l6 .5l2.5-.5l.5-.5l-4-1.5l-3 0l-3 1.5l1 .5z"/><path fill="#96d2f3" fill-rule="evenodd" d="M173 178.5l67 0l-2-3l.5-2l7.5-7.5l1-3l0-2l-2-3l-3-1.5l-14.5-2.5l-9-5.5l-7.5-3l-8-3.5l-20.5-3l-5 0l-8.5 3l-2 1.5l-.5 2l1.5 7l-.5 8.5l5.5 10l.5 3.5l-.5 4zM72 130l3-1l2.5-2l.5-2l-1-2l-2-1l-3 0l-1.5 .5l-2 1.5l-.5 2l.5 2l2 1.5l1.5 .5zM192 91.5l2 1l2-.5l1.5-1l.5-1l-2-1.5l-3-.5l-.5 0l-1 1.5l.5 2zM180.5 82l3 1l3-.5l5-5l1.5-.5l9 2.5l7 0l7.5 .5l3-.5l2-2.5l.5-4l-.5-5.5l-2-10l-2-2l-6.5 1l-7-4l-2 0l-2 0l-5 7l-4.5 3l-5 6l-5 3l-1.5 1.5l-1 2l0 3l.5 2l2 2zM110.5 51.5l5.5 .5l1.5-.5l1-.5l-3.5-1l-3 0l-3 1l1.5 .5z"/><path fill="#7ac0eb" fill-rule="evenodd" d="M177 178.5l56 0l-3-2l-.5-1.5l0-1.5l2-1l6.5-2l4-2.5l3-3.5l.5-3.5l-1.5-2l-3-2l-14.5-2.5l-8-4.5l-8.5-3l-9-4l-18.5-3l-6 .5l-6.5 3l-1.5 3l1.5 12.5l1.5 3l3.5 5l2 4l.5 3.5l-.5 4zM71.5 127l.5 .5l2-.5l1.5-2l-1-1l-1.5-.5l-1.5 .5l-1 1l1 2zM181 81l2.5 .5l2-.5l2-1.5l3-3.5l2.5-1l8 2.5l8-.5l6.5 1l3-.5l2-2l.5-3.5l-.5-5l-2-7.5l-2-1.5l-3 .5l-2.5 2l-1.5 4l-1.5 2l-2 1l-3 .5l-2-1.5l-1-3l1-1.5l6-2.5l.5-2l-1-2l-2.5-2l-2-.5l-2 .5l-3.5 6l-5 3l-5 6l-7 4.5l-1 2l0 2.5l1 2.5l1.5 1zM111.5 51.5l4.5 .5l2-1l-3-1l-3 0l-2.5 1l2 .5z"/><path fill="#66b2d7" fill-rule="evenodd" d="M182 178.5l44.5 0l-1-4l1-2.5l3-1.5l6.5-1l4-2l3-2.5l1-2l0-2l-1.5-2l-2.5-1.5l-15-2.5l-8-3.5l-9-2.5l-8-5l-17.5-2.5l-6 .5l-4.5 2.5l-1 2l0 3l2 8.5l6 9l3 5l.5 2.5l-.5 4zM181.5 80l2 .5l2-1l5-6l2.5-.5l3 0l6 1.5l5-1.5l6.5 3l4 0l1.5-1l1-2l-.5-5l-2-4l-2-1.5l-2.5 2l-6 7.5l-2 0l-5-2l-1-1.5l-2-5l-1-1l-3 0l-2.5 2l-3.5 5l-5.5 3l-2 1.5l-.5 2l.5 2l2 2zM199.5 58.5l1.5 .5l2.5-.5l1-1l-.5-2l-1-1l-2 0l-1.5 2l0 2zM112 51.5l3.5 0l2-.5l-3.5-1l-2.5 0l-1.5 1l2 .5z"/><path fill="#509ed4" fill-rule="evenodd" d="M188.5 178.5l34 0l-.5-5l1.5-2.5l4-2l7.5-1l4-1.5l3-2.5l0-3l-1.5-2l-2.5-1l-12.5-1.5l-10-3.5l-7.5-1l-3-1l-5-4l-3-1.5l-14.5-2.5l-5 .5l-2 1l-2 2l-.5 3l1 3.5l2 4l6.5 9l7 7l.5 2.5l-1.5 3zM182.5 79l2-.5l1.5-1.5l2-4l-.5-1l-4 .5l-3 1.5l0 3l0 1l2 1zM213.5 73l2 1l2.5-1l.5-2.5l-1-2l-1-1l-2 0l-1.5 2l-.5 1.5l1 2zM189.5 70.5l3 0l2.5-1l1-2l-1-2.5l-2-.5l-1.5 1l-1.5 2l-.5 3zM110 51l4 .5l3-.5l-4-1l-3 1z"/><path fill="#3e87c8" fill-rule="evenodd" d="M195.5 178.5l22.5 0l0-6.5l2-3l3.5-1.5l10-.5l3.5-1l3-2l.5-2l0-1l-3-2l-4-.5l-15-1l-6.5 1l-3 0l-5-2.5l-7-6l-2-1.5l-11.5-3l-4 0l-2 1.5l-.5 1.5l.5 4l8 12.5l3 2l4.5 3l2 2l1 2.5l-.5 4zM182 77l1.5 0l1-.5l.5-2.5l-2.5 0l-1 2l.5 1zM110.5 51l2.5 .5l3.5-.5l-3.5-1l-2.5 1z"/><path fill="#2f70b9" fill-rule="evenodd" d="M191 165l5 1l3-1l1.5-2l-.5-3l-2.5-4l-3.5-3l-3.5-1.5l-5-.5l-1 .5l-.5 1.5l1 6l2.5 3.5l3.5 2.5zM226.5 165l5 .5l3.5-.5l2.5-1l1-2l-1.5-1.5l-3-1l-4.5 0l-5 .5l-2 1l0 2l1 1l3 1zM111 51l2 .5l3-.5l-3-.5l-2 .5z"/><path fill="#265aa5" fill-rule="evenodd" d="M230 162l2.5 1l1.5-1l-1.5-.5l-2.5 .5zM111.5 51l1.5 0l2.5 0l-4 0z"/><path fill="#204896" fill-rule="evenodd" d="M112 51l3 0l-3 0z"/><path fill="#1e3a82" fill-rule="evenodd" d="M113 51l1.5 0l-1.5 0z"/><path fill="#fff6de" fill-rule="evenodd" d="M279.5 163l3.5 1l2-.5l2-1.5l1.5-2l2.5-6l5-1.5l2.5-2l1-3l.5-5l4.5-1l10.5 0l0-10l-15.5 1l-7.5-3l-3 1l-4 6l-6 4l-1 2l-.5 3l.5 6l-.5 6.5l.5 3l1.5 2zM288 151.5l-1.5-1l-.5-2l.5-4l1.5-3l1.5-1l2.5-.5l3 0l2 .5l.5 1l-4.5 4l-3 5l-1 1l-1 0zM147 145.5l2.5 .5l2-1l5.5-7.5l6-5l0-.5l-10.5-5.5l-3-1l-2 0l-7 3.5l-7 1.5l-1.5 1.5l-.5 2.5l1.5 2l6.5 3.5l7.5 5.5zM42.5 142.5l2.5 .5l3 0l2-1l1.5-1.5l1-2l-.5-2l-1.5-5.5l3.5-6l2-8l1.5-1l28.5-2.5l7.5 1l2 1l2 1.5l2.5 7l2.5 3l5 2l6.5 .5l5-1l6-1.5l7-5l3.5-1.5l5-1l8 0l7.5-2.5l12-3l6-2.5l2.5-2l-4-7l0-3l1-1l4 .5l2 0l1-1l.5-1.5l-.5-2l-1-2l-2-1l-4.5 0l-1-1l-1.5-2.5l-.5-3l4-14l1.5-2l7-4l4-5.5l5.5-5l4-6.5l3-1.5l12 2l7.5-2l3 0l3 1.5l5 5.5l1 .5l5.5-4l14-4.5l3 0l1.5 1l4 4l1 0l5-1.5l3 .5l1.5 1.5l1 1.5l0 8l1 2l2.5 .5l8.5 1l3 .5l1.5 2l2.5 5l6 5.5l2.5 6l1.5 2l4.5 3l5 5.5l3 .5l3.5-.5l0-10l-5.5 0l-4-2l-6-7l-4-2.5l-7.5-8.5l-1-2l0-3l1-5l2-1.5l5.5-3l2.5-6l2-2l2.5-1.5l3-1l9.5 0l0-41.5l-74 0l2 3l0 2l-5 4l-2.5 4.5l-2 2l-6 2.5l-19.5 1.5l-9 2l-2.5 2l-2 2l-2 8l-2 3.5l-2.5 2l-3.5 .5l-3 0l-2-1l-1.5-2.5l-.5-2l0-2.5l1-4l2-3l2-2l10-6l5.5-2.5l17.5-4l17.5-3l1.5-1l.5-2l0-2l-1.5-2l-236.5 0l0 76l14.5 .5l11-1l2 .5l3.5 4l2.5 1l2-1l2.5-5l3-1l6 .5l2 .5l1 1l2 7l1 2l8.5 4l2 2l1 2l.5 3.5l-1.5 3l-3 2.5l-6.5 2l-2.5 1.5l-3 5l-4 4l-3.5 5.5l-6 4l-1.5 2l-.5 4l1 4.5l2 2l5 3l3 4.5l1.5 1.5zM91.5 110.5l-2.5-1.5l-2-1.5l-2-5l1-4l2-2l2-.5l3.5 .5l4 2l2.5 4l1.5 6l0 1l-2 1l-4 .5l-4-.5zM112 60.5l-2-1l-1.5-2l-1.5-5l-1.5-1.5l1-1.5l3-1l2.5-.5l12 1.5l8-.5l2-1l5.5-6.5l3-.5l1.5 1l1 3l0 6.5l-3.5 4l-4 1.5l-10.5 2l-7 2l-4 .5l-4-1zM146.5 93.5l-5-1l-7 1l-2.5-1l-1.5-1l-.5-2l0-2.5l1-3l1.5-2l2-.5l11 2l5-.5l6.5-1.5l3 .5l1 1l-.5 1l-5 3l-4 5.5l-2 1.5l-3-.5zM200 132l3-1l.5-1l-.5-1l-3-1l-2 1l-1 1l0 1l3 1zM196.5 114l5.5 1l5-1l6-3.5l5.5-2l.5-1l0-2l-1.5-1.5l-2-1l-14.5-2l-7.5 .5l-8 1.5l-2.5 1.5l-2.5 4l-.5 1l1 1l4.5 1.5l11 2zM232 74l3 .5l2.5-1.5l2-2.5l.5-3l-.5-2l-1.5-1.5l-6.5-4.5l-1 .5l-1 2.5l-.5 6l1 3.5l2 2zM307.5 73l7.5 0l0-19.5l-11.5 .5l-2.5 .5l-1 2l-.5 8l1 6.5l2 1.5l5 .5z"/><path fill="#fff0c3" fill-rule="evenodd" d="M147 142.5l2.5 .5l2-1l7.5-8.5l.5-1l-.5-.5l-6-4l-3.5-.5l-4 1l-5 3.5l-1 1.5l.5 2l4.5 5l2.5 2zM108 128l5 0l5-.5l5-2l7-4.5l3.5-1.5l5-1l10-.5l14.5-3.5l4.5-1.5l2.5-1.5l1-3l-2-7l0-9l-1-3l-2-2.5l-3-.5l-5 1l-2.5 2.5l-3 4.5l-2 1l-3 .5l-7-1.5l-8 0l-2.5-1l-1.5-2l-.5-3.5l1-5l2-3l2.5-1l13 2l12.5-2l3 1l4 2.5l3-.5l2-2l3.5-10.5l7.5-5l4.5-6l5-4l3.5-6.5l2-2l4 0l10 1.5l7.5-2l3-.5l3 1l4 4l2 1l18.5-6.5l5.5 0l5 2.5l7 .5l2.5 1.5l2 3.5l.5 7l1.5 2l2 .5l4 .5l5-1l1-2l2-7l2-1.5l5-3l3-6l2-2l2.5-1.5l4-1l9.5 0l0-40.5l-66 0l1 4l-1 3l-11 8.5l-3 2l-7.5 2l-19.5 1.5l-5 1.5l-3 1.5l-3 3.5l0 6.5l-.5 2l-5 5l-4 1l-8-1.5l-2-1.5l-1-2l-.5-3l0-3.5l2.5-7l3.5-4l10.5-6.5l3.5-1l16-4l4.5-2l1-1l.5-2l-3-3l-179 0l-1 17.5l.5 27.5l-.5 4l-3.5 6.5l5.5 11l2.5 3l4.5 1.5l7.5-.5l1 1l-1 7.5l1 4l2 2l7 4l1.5 2l1 2l-.5 3.5l-1 3.5l-3 2.5l-6 2.5l-2 1.5l-.5 2l.5 2l7 5.5l4 1l11 0l10.5-2l2-.5l.5-1l-2.5-8l0-3l.5-3l1.5-1l3-.5l5.5 1l4.5 2.5l4.5 7l2 1l4 1l1 1l0 2l-1.5 1.5l-7.5 2.5l-1 .5l-1 2l.5 4l1.5 3.5l3 2.5l3.5 1zM115 62.5l-3.5-1l-3.5-2l-1.5-3l-.5-4l-1.5-1.5l1-1.5l2-1.5l4-1l11.5 2l7 0l3-2l4.5-6l2-1.5l4-1.5l2 .5l.5 .5l.5 12.5l-1 2.5l-2 2l-4 2l-17.5 5l-7-.5zM150.5 34.5l0-.5l1 0l-1 .5zM277 24.5l-.5-1l0-1l.5-1l2-.5l2 1.5l0 1l-1 1.5l-3-.5zM70.5 85l-1-1l-.5-2l1-5l2-2.5l1-.5l2 0l2 2l1 2l0 3l-1 2.5l-1 1.5l-2 1l-2 0l-1.5-1zM81 54.5l-5-1l-1-1l0-1l2-1.5l2-1.5l3 0l2 1l1.5 1.5l.5 1.5l-2 1.5l-3 .5zM195.5 112l5.5 .5l4-1l3.5-2l2.5-3l-3-2l-6-2l-6 0l-5.5 1l-3 2l-1 2l0 1l2.5 2l6.5 1.5zM231.5 72l2 1l1.5 0l2-1.5l1.5-2l0-2l-1-2l-2.5-2l-1.5-.5l-2 .5l-1 3l0 3l1 2.5zM306 71l9 .5l0-17l-9.5 .5l-2 .5l-2 2l-1 4l.5 5l1.5 3l3.5 1.5zM17 57.5l3.5 .5l3-.5l2-1l3.5-3l0-2l-4.5-4l-4-1l-9 1.5l-14.5-.5l0 9.5l14.5 0l5.5 .5z"/><path fill="#ffe8a0" fill-rule="evenodd" d="M147 139.5l2.5 .5l3-1l3.5-4.5l.5-2l0-.5l-3-2l-3-1l-3 .5l-2 1.5l-1.5 1.5l-.5 2l1.5 3l2 2zM108.5 127l4.5 0l5-1l12-6.5l4-1.5l13.5-1.5l15.5-2.5l3.5-2l2-1.5l0-3l-2-6l.5-9l-1-2l-2-1.5l-3-.5l-3 1l-5 6.5l-2.5 1.5l-3 0l-8-1.5l-8.5-.5l-3-1l-1.5-3l.5-7.5l1-5l2-2.5l2.5 0l9 2l5 .5l12.5-1.5l7 2.5l3 0l2-2.5l2.5-9l8-4l4-6l5.5-5l3.5-7.5l.5-1l2-.5l13 2.5l3-.5l6.5-2.5l3-.5l3 1.5l4 3l2 1l8.5-2l10-3.5l4-.5l2.5 .5l10 2.5l3 1.5l2 3l1 7l1 2.5l2.5 1l5 0l2-1l1-1.5l3-7l6-5l5-7.5l2.5-1.5l4-1l10.5 0l0-31.5l-5.5 .5l-3.5-1.5l-1.5-3l1.5-4l-53.5 0l.5 5l-1 3l-13 9.5l-9.5 3l-19.5 1.5l-4 1l-3.5 1.5l-2 2l-.5 2l1 6.5l-1 2l-7 7l-2.5 .5l-11-2.5l-2.5-1l-1.5-1.5l-1-2.5l0-3l1.5-9.5l1-3l2.5-3l10-7l4.5-2l8-2l3-1.5l1.5-1l0-2l-3-3l-161 0l.5 5l-3.5 8.5l-1 5l1 11l0 14.5l-1.5 13.5l1 5l2 4l3 1.5l4-1l12-7.5l5.5-5l5.5-3.5l8-4.5l3 0l4 2l3 2.5l1 3l0 3l-1 1l-2 1.5l-13 1l-3.5 1.5l-5 5.5l-7 4.5l-3 3l-1 3l0 3l2 2.5l4 2l2 .5l2-.5l5-10l1-1.5l1.5-.5l4 .5l3 2l1 3l.5 4l-.5 9l-1 .5l-1 .5l-7.5-.5l-2.5 .5l-1.5 1.5l-2.5 7l-2 2l-5.5 3l-1 1l.5 2l4.5 5l4.5 1.5l9 .5l7.5-2l1.5-1l.5-2l-2-12l.5-3l1-1l8.5 1.5l5 1.5l3 2l4 5l3 2l4-.5l5.5-4.5l3-1l2 .5l1 .5l.5 1l-1.5 3l-5.5 4l-4.5 5.5l-7.5 3l-2 2l-.5 3l1.5 3l2.5 2l3.5 1zM164 47l-2-1l-.5-1l-.5-2l1-.5l3 0l1.5 1.5l0 2l-2.5 1zM277 26.5l-2.5-2l-.5-2l.5-1.5l.5-1l2-1l2 0l2 .5l1.5 1l1 2l0 3l-2.5 1.5l-4-.5zM54.5 13.5l-1-1l0-2l0-1.5l1-1l2-.5l2 .5l3.5 2l0 1.5l-2 2l-2.5 1l-3-1zM80 37l-1-1l-1-2l.5-1l1.5-.5l2 .5l1 2l-1 2l-2 0zM102.5 44l-2.5-1l-.5-1l-.5-2l1.5-4l1-1l2-1l1 .5l.5 .5l0 2l-1 6l-.5 .5l-1 .5zM122 66.5l-11.5-3.5l-3.5-2.5l-1-2l-1.5-6l-1-1.5l2-4.5l1-1l3 0l5.5 1l8 1.5l6 0l3.5-2l5-7l5.5-4l4.5-4.5l4-1l1.5 0l2 1l1.5 2.5l-.5 3l-1 1l-4.5 2.5l-1.5 1.5l-1 4l0 6.5l-1 3l-1.5 2l-3 2l-12.5 4l-6 3.5l-2 .5zM198.5 110.5l3.5-1l2-1l.5-2l-2.5-2l-3-.5l-3 0l-3 1l-1.5 1.5l.5 2l1 .5l5.5 1.5zM233 70.5l1 0l2-1l0-1.5l-1-1.5l-1.5-.5l-1 1.5l0 2l.5 1zM308 70.5l7 0l0-15l-8.5 .5l-2 1l-1.5 1.5l-1 4l.5 4l2 2.5l3.5 1.5z"/><path fill="#fdd778" fill-rule="evenodd" d="M148.5 136.5l2 .5l2-1l1.5-2.5l-1-1.5l-1.5-1l-3 1l-1.5 1.5l.5 2l1 1zM110 126l3-.5l4-1l12-5.5l4.5-2l26.5-3.5l4-1.5l2-1.5l.5-2l-2.5-7l1-7l-.5-3l-2.5-1l-3 .5l-1.5 1.5l-3 5l-3 2l-4-.5l-11-2l-6.5 0l-3 1l-4 6l-6 4.5l-4.5 5.5l-2 1.5l-5 1.5l-2.5 2l0 3l1 2l2.5 1l3.5 1zM66.5 112l4.5 .5l5-.5l3.5-1.5l1.5-2l0-3.5l-2-5.5l-2-3l-3-2.5l-2 0l-1.5 .5l-3.5 6l-6 5l0 2l1 2l2 2l2.5 .5zM104.5 100.5l2 1l2-.5l5.5-4l8-1l2-1l1-4l-.5-10l-1.5-4.5l-6-8l-2.5-2l-7-3l-2-2l-1.5-3l-.5-5l-2-4.5l-2-1.5l-3 0l-2 1.5l-2 6.5l-1.5 2l-3 1l-12 1.5l-2.5 1.5l-1 1l-.5 2l1 2l6 4l2.5 2.5l1 3l1.5 9l2.5 5l2.5 1.5l9.5 3.5l6 5.5zM59.5 78l2 .5l2-1l1.5-3.5l-.5-2l-2-.5l-3 1.5l-1 3l1 2zM165 78l3 .5l2-1l1-2.5l2-8l5.5-1.5l3-2l4-6l4.5-4l1.5-2.5l.5-4l-.5-2l-6-2.5l-11-3l-1-1.5l-1-4l.5-10.5l2-7l2-3l7.5-4.5l5.5-5l1.5-3l-1.5-4l-73.5 0l1 3l-.5 2.5l-2 2.5l-2 .5l-1-.5l-.5-2l.5-6l-29 0l.5 14.5l-2 10l.5 2l1 1l2 .5l2-1l7.5-6.5l5-5l3-1.5l3-.5l2 .5l1 1.5l.5 3l-1 6l.5 1.5l1 1l2.5 .5l6-2.5l4-.5l3 .5l1.5 1.5l.5 4l-.5 3.5l-3.5 3l-9 1.5l-3 1.5l-1.5 2l-.5 2l.5 2l2 1l11.5 3l3 0l3-.5l3-2l3.5-6.5l5.5-6l1-3.5l-.5-2l-1.5-2l.5-.5l3 2l6 .5l5.5-.5l5-2l1 .5l-1.5 6.5l1 5l2 2l8 3l1 2l1.5 5l3 3.5l0 1l-2.5 2l-1 2l-1.5 8.5l-1 .5l-3-.5l-3-1.5l-1-2l.5-2l3-6l-1-1l-5.5-3.5l-4-7l-3-1l-1.5 .5l-1.5 2.5l-.5 3l0 6.5l-.5 2l-1 2l-3 2l-12.5 4l-2 2l-1.5 3l.5 2l2 1.5l9 4l7 1l10.5-1.5l3 .5l4 2zM132 17l-1-1.5l1-1l.5 1l0 1l-.5 .5zM309.5 69.5l5.5-.5l0-12.5l-7.5 .5l-2 1l-1.5 1.5l-1 4l1 3l2.5 2l3 1zM43.5 60.5l1.5 .5l2-.5l10.5-6l10.5-10.5l1.5-2l.5-2l-2-7l-1-7.5l-2-4l-2.5-2l-8-1l-3-1l-1.5-1.5l-3-3l-2-1l-2 1.5l-.5 3l.5 9l.5 15.5l-2 13.5l.5 4l1.5 2zM275 59.5l4 .5l3-1l4-8l6.5-6l2.5-6l1.5-1.5l7-2l11.5-.5l0-11.5l-2.5 .5l-3-.5l-2-1l0-1l1-2l2-1.5l2 0l2.5 1l0-6.5l-3.5 0l-4-.5l-5-2l-5-3l-2-2l-1-2l-.5-3l1-3l-39.5 0l.5 5l-1.5 4l-2 2l-5.5 3.5l-4 4l-12.5 2.5l-20.5 2l-5 2l-2.5 2.5l-.5 2l1.5 6.5l-1 2l-5 5l0 2l1 1l5.5 2l6 1l3.5-1l6-2.5l3-.5l3 1l5 4l3 .5l6.5-1l12-4l6.5-.5l9 3l3 2l1.5 3l1.5 7.5l1.5 2zM281 28.5l-5-1l-1.5-1.5l-1.5-1.5l-1-2l.5-2l2.5-3l3-.5l3 0l2.5 1.5l1.5 2l1 3l0 3l-2 1.5l-3 .5z"/><path fill="#fdc355" fill-rule="evenodd" d="M107 124l3.5 .5l4-.5l14.5-6.5l4.5-1.5l18-3l8.5-.5l3-1l1-1l.5-2l-4-7l2-6l0-2l-1.5-1l-1 .5l-1 1.5l-2 5l-4 2l-4.5-.5l-12-3l-4.5 0l-3 1l-2 1.5l-3.5 5l-5.5 4.5l-5 6l-7.5 3.5l-1 1.5l0 1l2.5 2zM70.5 111.5l3.5-.5l3.5-1.5l1-1l0-2l-1.5-3l-2-1l-3 0l-3.5 2l-2.5 2l-.5 2l.5 1l1.5 1l3 1zM104.5 96.5l2 .5l1-.5l4-3.5l.5-.5l5 1.5l4-.5l1-1l1-1.5l0-5l-1-3l-1-1.5l-2-.5l-3 .5l-3 2.5l-.5 0l-.5-1l2.5-7l-.5-5l-2-2.5l-7-3l-2.5-2l-1-2l0-7.5l-1-1.5l-2-.5l-1.5 1.5l-1.5 5l-1 1.5l-3 1l-11 .5l-2.5 1l-.5 2l6 7.5l2.5 8l3 8l1.5 2l14 6.5zM164 76l3 1l2-.5l1.5-3.5l-.5-3.5l-1-1.5l-8-2l-3-2.5l-.5-3l.5-6l-3-7.5l-1-1.5l-1-.5l-.5 0l-1 2l2.5 9.5l-1.5 3l-3 1.5l-8 1.5l-5 1.5l-2.5 2.5l0 2l1.5 2.5l6 3.5l6 .5l10.5-1.5l2 .5l4 2zM311 68.5l4-.5l0-10l-6.5 0l-2 .5l-1.5 2l-.5 3l1 2.5l2 1.5l3.5 1zM174.5 64.5l3 0l3-1l4-7l5-3.5l1-3l0-2l-1-1.5l-8-2.5l-2 0l-1 .5l0 1.5l2 4l.5 2.5l-1.5 2l-4 2l-1 2l-1 4l1 2zM276 58.5l3 .5l2.5-1.5l4-7.5l6-6l1-3l.5-3l-1-3l-5-3l-11-3.5l-3.5-2.5l-1.5-1.5l-.5-3l1-3l2-2l2.5-1.5l3-.5l3 0l3 1.5l2 2.5l3 7l3.5 6.5l1.5 1.5l3.5 .5l11-1l5.5 0l0-4.5l-6.5-.5l-3-.5l-3-1.5l-2-2.5l-1-6l-2-3l-12.5-7.5l-3-2l-1.5-3l.5-5l-22 0l0 6l-1 4l-2 2l-6 3.5l-1 2l1.5 7l-.5 2l-1 1l-2 0l-1-.5l-4-4.5l-4-1l-25 2l-5 1.5l-3 2.5l-.5 2l1.5 5.5l0 2l-5 5l-.5 2l1.5 2l2 1l4 1l4 0l7.5-5l3 0l4 1l5.5 5l4 .5l5-1l11-4l3.5-1l4 .5l9 3l3 2l1.5 3l1.5 7l1.5 2.5zM47 54.5l3 .5l4.5-2l2.5-3l3-6l.5-3l-.5-6l2-7.5l-1.5-3l-2-1.5l-4-.5l-3.5 0l-2 1l-1 1l-.5 5l1 10.5l-2.5 11l0 1.5l1 2zM122 45l4 0l3.5-1l2-3l.5-4l-1-1l-2 0l-12 2.5l-3 1l-.5 1.5l.5 1.5l8 2.5zM164.5 35l3.5 1l1 0l1-2l.5-5.5l-.5-3l-1-1.5l-2 1.5l-3.5 5l-.5 2.5l1.5 2zM149 23.5l2.5 0l1.5-.5l7-6.5l7.5-2l4.5-5.5l6.5-1l4-2l2-2l1-2l-1-5l-51 0l-1 4l1.5 4l7 10.5l5 6l3 2z"/><path fill="#fcaa32" fill-rule="evenodd" d="M108 122l2.5 1l2.5-.5l18-7l12.5-2.5l7-2l8.5 0l2-1l.5-1.5l-1-2l-2.5-1.5l-7.5-1l-13-4.5l-5.5 0l-3 1.5l-5 5.5l-4.5 4l-4.5 6.5l-2 1.5l-4.5 1.5l-1 1l.5 1zM100.5 91.5l3 0l2-2.5l3-13l-.5-4l-2-1.5l-10.5-6l-7.5-1l-4.5 1l-.5 2l4 9.5l2 3.5l2.5 3.5l2 5l2 2l5 1.5zM164.5 74l2.5 1l1.5-1l.5-2l-1-1.5l-2-1l-3 1l-.5 .5l.5 1l1.5 2zM142 71l3.5 1l3-1l1.5-.5l.5-2l-2-2l-2-1l-5 0l-2 1l-.5 2l1.5 2l1.5 .5zM308 66.5l3.5 .5l3.5-.5l0-7.5l-4.5 0l-2 0l-2 1.5l-.5 3l.5 1.5l1.5 1.5zM177 63.5l1.5 0l2-1.5l1-2.5l0-2l-2-.5l-3 1.5l-1 3l0 1l1.5 1zM277 57.5l2 0l2-1l4-7.5l5-5l.5-3l-.5-3l-5.5-5l-2.5-1.5l-8.5-3.5l-2.5-1.5l-1-2l-1-3l.5-4l2-2.5l3.5-3.5l1-1.5l-2-7l0-6l-11 0l0 7l-1 4l-2.5 2.5l-6.5 4l-.5 2l-.5 6l-.5 2l-1.5 1.5l-2 .5l-2-.5l-6-5.5l-4-.5l-22.5 1.5l-4.5 1.5l-2.5 2.5l0 2l2.5 6.5l-5.5 6l0 2l1.5 1l3 1l3 0l3-2l3.5-4l2-1l3 .5l3 1l2.5 1.5l4.5 4.5l3.5 1l5-.5l12-5l3.5-.5l3 0l10 3.5l3 2l1.5 3l1 7.5l2 2zM184.5 52.5l2 .5l2-1l.5-2l-.5-1.5l-2-.5l-2 .5l-.5 2.5l.5 1.5zM149.5 16.5l1 1l1-.5l.5-1.5l-.5-1l-2 0l-.5 1l.5 1zM161 5l1-1l.5-2l-.5-5l-2 0l0 6l1 2z"/><path fill="#f89632" fill-rule="evenodd" d="M119 116l1 1l2 0l10-3l9.5-2l4-1.5l1.5-2l0-1l-2.5-3l-5-3l-4-1l-3.5 0l-3 2l-4 5l-4.5 4l-1.5 2.5l0 2zM98.5 84l2 1l2-2l1.5-5l-1-4l-2-3l-4.5-3l-4-1l-3 .5l-1 1l-.5 2l.5 2.5l1 3l2 2.5l7 5.5zM309.5 65.5l3 0l2.5-.5l0-4l-3.5-1l-3 1l-1 1.5l0 1l2 2zM277 55.5l1 1l2-1l4-7.5l4-4l.5-3l-1.5-3l-5-5l-8.5-3.5l-3-2l-2.5-4l-1.5-7l-2-2.5l-4 0l-4 1.5l-1.5 2l-2.5 8l-1.5 1.5l-2 .5l-4-.5l-6-5l-4-1l-19.5 1l-4 1.5l-2.5 2l0 2l1 2l3 3l2.5 1l7 1.5l4 1.5l3 2l3 4.5l2.5 1.5l5 0l11-5l6.5-1.5l4 .5l10 4l3.5 2.5l.5 2l0 5.5l1.5 3zM207.5 42l1.5 .5l1.5-.5l1.5-1.5l-.5-1.5l-1.5-.5l-2 1l-1 1.5l.5 1z"/><path fill="#f2822d" fill-rule="evenodd" d="M123.5 114l16-3l3-1.5l.5-1l-.5-2l-1.5-2l-3.5-2l-3-1l-2.5 .5l-2 1.5l-7.5 8.5l0 1l1 1zM94 76l1.5 .5l2-.5l.5-2l-1-2l-1.5-.5l-3-.5l-1 .5l0 1.5l1 2l1.5 1zM277.5 53.5l.5 1l1-.5l1-1l2.5-6l3-4l0-2l-4.5-7l-8.5-4l-3-2l-2-2.5l-3-6.5l-2-1.5l-3-.5l-2 1l-1 1.5l-3 7l-1.5 1.5l-3 1l-5-1l-6-4.5l-4-1l-17.5 1l-3 1l-1.5 1.5l.5 2.5l2 2l10 3l4 1.5l2 2l3 5l2.5 1.5l2 .5l3-1l10-4.5l7.5-2l4 .5l12 5l2 1l1 2l-.5 6l.5 2.5z"/><path fill="#ee6e2a" fill-rule="evenodd" d="M129.5 110.5l3 0l4-.5l2.5-1.5l0-2l-2.5-2.5l-2-.5l-2 0l-1 1l-1.5 2l-1 3l.5 1zM236 42l2 .5l3-.5l12-5.5l4.5-1.5l5 .5l8 3.5l4.5 1l4 0l1-.5l.5-1.5l-.5-2l-2-2l-7.5-3.5l-2-1l-1.5-2l-3.5-6l-3-1.5l-2 .5l-1 1l-4 7l-1.5 1l-2 .5l-4 0l-3-.5l-6-4.5l-3-1l-11.5 0l-5.5 1.5l-1 1l1 2l11.5 4l2.5 1.5l1.5 2l2 4l1.5 2z"/><path fill="#ea5a28" fill-rule="evenodd" d="M238 41l2 0l2-.5l13.5-8l9 1l5 2.5l3 1l2 0l1-1l-.5-1l-1.5-1l-6-2.5l-1.5-1l-3.5-6.5l-2-1.5l-2 1l-4 7.5l-1.5 1l-11.5-1l-2.5-.5l-5-4l-2.5-.5l-5 0l-2 1.5l1.5 1l8.5 3.5l1 2l.5 5l2 2z"/><path fill="#e44123" fill-rule="evenodd" d="M240 37l1 .5l1.5-.5l2.5-2l-3 0l-2 2z"/><path d="M175.3 34.3C175.3 32.5 175.2 28.1 176.1 25.5C176.9 22.9 178.6 20.6 180.5 18.5C182.4 16.5 184.6 14.7 187.5 13.3C190.4 11.8 194.2 10.8 198.0 9.8C201.8 8.7 205.6 7.9 210.3 7.1C215.0 6.3 221.2 5.4 226.1 4.9C231.1 4.4 236.0 4.0 240.1 4.2C244.2 4.4 249.5 5.1 250.6 5.9C251.8 6.6 249.8 7.9 247.1 8.9C244.5 9.8 238.3 10.5 234.8 11.5C231.3 12.5 229.4 14.2 226.1 15.0C222.9 15.9 219.0 16.4 215.5 16.8C212.0 17.2 208.2 17.0 205.0 17.6C201.8 18.2 198.7 19.1 196.3 20.3C193.8 21.5 191.5 22.8 190.2 24.6C188.9 26.4 188.4 29.1 188.4 30.8C188.4 32.6 190.5 34.2 190.2 35.2C189.9 36.2 188.3 36.6 186.7 36.9C185.1 37.2 182.2 37.0 180.5 36.9C178.7 36.7 176.9 36.5 176.1 36.0C175.2 35.6 175.3 36.0 175.3 34.3Z" fill="none" stroke="#fff" stroke-width="7"/><path d="M175.3 34.3C175.3 32.5 175.2 28.1 176.1 25.5C176.9 22.9 178.6 20.6 180.5 18.5C182.4 16.5 184.6 14.7 187.5 13.3C190.4 11.8 194.2 10.8 198.0 9.8C201.8 8.7 205.6 7.9 210.3 7.1C215.0 6.3 221.2 5.4 226.1 4.9C231.1 4.4 236.0 4.0 240.1 4.2C244.2 4.4 249.5 5.1 250.6 5.9C251.8 6.6 249.8 7.9 247.1 8.9C244.5 9.8 238.3 10.5 234.8 11.5C231.3 12.5 229.4 14.2 226.1 15.0C222.9 15.9 219.0 16.4 215.5 16.8C212.0 17.2 208.2 17.0 205.0 17.6C201.8 18.2 198.7 19.1 196.3 20.3C193.8 21.5 191.5 22.8 190.2 24.6C188.9 26.4 188.4 29.1 188.4 30.8C188.4 32.6 190.5 34.2 190.2 35.2C189.9 36.2 188.3 36.6 186.7 36.9C185.1 37.2 182.2 37.0 180.5 36.9C178.7 36.7 176.9 36.5 176.1 36.0C175.2 35.6 175.3 36.0 175.3 34.3Z" fill="none" stroke="#96d2f3" stroke-width="2.6"/><path d="M175.3 34.3C175.3 32.5 175.2 28.1 176.1 25.5C176.9 22.9 178.6 20.6 180.5 18.5C182.4 16.5 184.6 14.7 187.5 13.3C190.4 11.8 194.2 10.8 198.0 9.8C201.8 8.7 205.6 7.9 210.3 7.1C215.0 6.3 221.2 5.4 226.1 4.9C231.1 4.4 236.0 4.0 240.1 4.2C244.2 4.4 249.5 5.1 250.6 5.9C251.8 6.6 249.8 7.9 247.1 8.9C244.5 9.8 238.3 10.5 234.8 11.5C231.3 12.5 229.4 14.2 226.1 15.0C222.9 15.9 219.0 16.4 215.5 16.8C212.0 17.2 208.2 17.0 205.0 17.6C201.8 18.2 198.7 19.1 196.3 20.3C193.8 21.5 191.5 22.8 190.2 24.6C188.9 26.4 188.4 29.1 188.4 30.8C188.4 32.6 190.5 34.2 190.2 35.2C189.9 36.2 188.3 36.6 186.7 36.9C185.1 37.2 182.2 37.0 180.5 36.9C178.7 36.7 176.9 36.5 176.1 36.0C175.2 35.6 175.3 36.0 175.3 34.3Z" fill="#1b2a69"/><path fill="#fff" d="M101.0 175.8L101.0 173.2L106.8 173.2L106.8 170.9L117.9 170.9L117.9 166.2L120.9 166.2L120.9 164.5L126.1 164.5L126.1 161.9L134.9 161.9L134.9 159.2L137.8 159.2L137.8 157.2L140.7 157.2L140.7 155.1L146.5 155.1L146.5 152.8L159.4 152.8L159.4 155.7L162.3 155.7L162.3 158.6L167.6 158.6L167.6 166.2L169.9 166.2L169.9 170.9L172.2 170.9L172.2 173.8L174.6 173.8L174.6 180.0L101.0 180.0ZM290.1 150.0L290.1 173.6L286.3 173.6L286.3 180.0L320.0 180.0L320.0 150.0Z"/></g><path d="M73.7 -5.9L73.7 0.0L74.5 2.0L79.1 1.5L83.9 2.9L87.8 4.4L92.7 5.4L95.6 7.3L97.6 9.3L98.1 11.7L102.5 15.6L105.9 18.1L106.9 20.0L105.9 22.4L107.4 24.4L104.9 29.3L104.9 33.2L105.4 39.0L103.0 43.9L99.7 45.2L97.6 45.7L92.7 45.1L87.8 45.4L83.0 44.2L78.1 44.6L73.2 44.9L68.3 44.2L61.5 42.9L56.6 43.2L48.8 43.3L42.0 41.5L39.0 42.0L36.1 43.9L30.3 45.9L27.3 47.8L26.4 49.8L29.3 52.7L30.3 55.6L30.7 58.6L31.2 61.5L32.2 66.4L32.7 70.3L31.2 75.2L30.3 78.1L28.3 82.0L25.9 84.4L25.4 87.8L24.9 90.3L27.8 91.3L27.3 93.2L30.7 93.2L31.2 96.6L31.2 100.5L30.7 104.4L29.8 107.4L33.2 106.4L39.0 107.4L44.9 105.6L49.3 105.4L53.7 107.8L55.1 109.3L56.6 113.2L58.6 115.2L62.5 117.1L64.9 116.1L66.4 113.7L71.2 112.2L74.2 110.1L78.1 109.8L83.0 110.1L87.8 109.8L92.7 109.3L96.1 110.1L98.6 107.4L101.0 103.5L106.4 102.0L109.8 101.0L110.3 97.6L112.2 94.2L116.1 91.7L119.1 90.3L117.1 88.8L114.7 85.9L113.7 83.0L115.2 80.0L117.6 77.6L121.0 74.7L124.9 71.2L125.4 68.8L128.8 67.3L134.7 65.9L138.6 64.4L144.4 61.5L148.4 59.5L147.9 55.6L146.9 52.7L146.9 49.8L149.3 46.4L153.2 44.9L157.1 43.4L162.0 44.9L164.9 44.9L169.3 45.9L172.8 47.3L175.7 47.8L179.6 47.3L182.5 45.9L185.4 43.4L188.4 42.0L192.3 41.0L196.2 39.5L199.1 37.1L203.0 34.9L207.9 35.6L212.8 38.1L216.7 40.0L217.6 43.9L219.6 48.8L222.5 50.8L225.5 53.2L229.4 54.7L233.3 57.6L237.2 61.5L242.0 64.9L245.0 65.9L250.8 65.9L252.8 67.8L254.7 69.8L257.2 71.2L258.2 72.2L261.1 71.7L263.0 74.7L265.0 76.6L269.4 77.6L271.3 80.5L272.3 83.4L274.3 87.8L273.8 90.8L271.8 91.3L272.3 93.2L269.9 95.6L269.9 98.1L272.8 98.4L274.7 97.6L278.2 93.7L279.1 89.8L284.5 87.8L284.5 83.9L282.6 83.0L278.6 80.5L279.1 77.1L282.1 73.7L286.0 73.7L291.8 75.2L293.3 77.6L296.7 80.0L297.7 77.1L297.2 75.2L292.8 71.7L287.4 69.8L283.0 67.3L278.2 65.4L272.8 63.4L275.2 59.5L272.3 59.0L265.5 59.3L261.1 58.1L256.7 54.7L253.8 51.7L251.3 46.8L249.9 43.4L245.0 41.0L240.1 38.1L237.2 34.2L238.1 31.2L237.2 27.3L238.1 24.9L243.0 23.4L246.0 22.0L250.8 22.4L249.9 24.9L249.4 28.3L252.3 30.7L254.2 27.3L257.2 25.9L260.6 27.3L263.0 29.8L264.5 33.2L267.4 36.1L271.3 39.5L273.3 43.4L277.2 43.9L282.1 44.9L286.0 48.3L289.9 49.8L293.8 52.2L298.2 54.7L301.6 56.1L305.0 59.5L307.4 62.0L307.0 65.4L307.0 69.3L306.0 73.7L307.4 75.2L310.9 78.1L312.3 79.5L318.2 82.0L318.2 -5.9ZM22.4 181.5L22.9 175.7L23.4 171.8L21.0 169.3L21.0 165.9L21.5 161.0L23.4 156.2L26.8 153.2L30.3 148.4L34.2 144.0L42.9 140.5L50.3 136.6L52.7 132.7L55.6 126.9L58.1 122.0L59.5 119.1L64.4 118.1L65.4 121.0L68.3 124.0L73.2 124.9L79.1 124.4L84.9 124.9L88.3 123.0L92.7 125.9L97.6 125.9L103.5 124.0L107.4 121.0L111.3 119.6L115.2 119.1L118.1 117.6L122.0 114.7L126.9 112.2L132.7 111.3L138.6 111.3L144.4 110.3L148.4 109.5L154.2 108.3L160.1 108.3L165.9 109.8L169.8 110.8L173.7 109.1L178.6 106.9L181.5 107.4L186.4 108.3L191.3 107.8L195.2 108.5L201.1 107.8L205.0 105.9L209.8 104.4L213.7 104.4L217.2 105.9L216.2 108.8L218.6 109.8L220.1 108.8L223.0 106.9L225.5 108.3L222.5 112.2L219.6 113.7L220.6 118.1L223.0 120.0L225.0 122.0L224.5 124.9L222.0 127.9L218.6 131.8L215.2 134.7L214.7 137.1L217.6 139.6L221.1 141.0L225.5 144.0L229.4 144.9L234.2 147.9L239.1 148.4L246.0 147.4L250.8 148.4L255.7 150.3L261.6 151.8L266.4 153.2L267.4 157.1L270.4 161.0L275.2 163.5L281.1 164.5L287.9 166.9L294.8 169.8L300.6 172.3L304.5 172.8L308.4 170.8L311.8 166.4L312.3 164.0L318.2 161.0L318.2 181.5ZM238.4 99.6L239.6 97.1L241.6 96.1L245.0 95.8L247.4 95.6L250.8 97.6L256.7 97.4L260.6 96.8L264.5 96.3L268.4 94.7L269.9 95.0L266.0 99.6L265.5 103.5L264.5 104.4L266.0 106.4L264.5 109.3L264.5 110.8L258.6 109.3L256.2 106.9L250.8 105.4L246.0 103.0L243.0 102.0L240.1 101.0ZM197.2 68.8L199.1 69.8L201.5 69.3L205.0 67.3L207.4 65.9L210.3 67.3L211.3 69.3L212.3 72.2L212.8 75.2L211.3 78.1L211.8 82.0L210.8 85.9L209.4 86.4L205.9 85.9L204.5 88.3L201.1 88.8L199.1 87.4L199.6 84.4L200.1 81.0L199.1 79.1L200.1 76.1L199.1 73.7L197.2 72.2L196.7 70.3ZM208.9 48.8L209.4 51.7L210.3 55.1L210.3 58.1L208.9 60.5L207.9 62.5L206.9 64.6L204.5 63.4L203.0 62.5L201.5 60.5L201.1 58.1L201.5 55.6L201.1 54.7L202.5 53.2L205.4 51.7L207.9 51.2ZM140.1 82.5L141.5 81.0L144.9 79.3L148.4 78.6L147.9 80.5L150.8 80.8L149.3 83.4L146.9 84.9L144.0 83.0L142.0 83.4ZM154.2 78.1L157.1 77.5L159.1 79.5L155.7 78.9ZM128.8 88.3L131.8 86.9L132.7 87.8L130.8 89.3ZM222.0 137.6L225.0 138.1L224.5 140.1L221.6 139.6Z" fill="none" stroke="#555" stroke-width="0.6"/><g fill="#fff" stroke="#444" stroke-width="0.5"><ellipse cx="259.4" cy="28.6" rx="1.4" ry="0.7" transform="rotate(-40 259.4 28.6)"/><ellipse cx="257.7" cy="31.4" rx="0.7" ry="2.9" transform="rotate(-15 257.7 31.4)"/><ellipse cx="261.4" cy="31.4" rx="0.8" ry="0.6" transform="rotate(-40 261.4 31.4)"/><ellipse cx="263.3" cy="33.7" rx="2.9" ry="0.6" transform="rotate(-40 263.3 33.7)"/><ellipse cx="264.0" cy="39.0" rx="2.1" ry="0.6" transform="rotate(-40 264.0 39.0)"/><ellipse cx="265.7" cy="38.8" rx="1.8" ry="0.6" transform="rotate(-40 265.7 38.8)"/><ellipse cx="267.2" cy="40.8" rx="1.2" ry="0.6" transform="rotate(-40 267.2 40.8)"/><ellipse cx="270.4" cy="42.5" rx="1.0" ry="0.6" transform="rotate(-30 270.4 42.5)"/><ellipse cx="279.3" cy="45.6" rx="2.1" ry="0.6" transform="rotate(-5 279.3 45.6)"/><ellipse cx="279.1" cy="47.3" rx="3.1" ry="0.6" transform="rotate(-5 279.1 47.3)"/><ellipse cx="274.7" cy="48.3" rx="0.9" ry="0.6" transform="rotate(0 274.7 48.3)"/><ellipse cx="282.3" cy="49.3" rx="2.3" ry="0.6" transform="rotate(-5 282.3 49.3)"/><ellipse cx="281.6" cy="51.2" rx="0.8" ry="0.6" transform="rotate(0 281.6 51.2)"/><ellipse cx="288.4" cy="51.2" rx="2.0" ry="0.6" transform="rotate(-15 288.4 51.2)"/><ellipse cx="291.8" cy="51.5" rx="0.8" ry="0.6" transform="rotate(0 291.8 51.5)"/><ellipse cx="217.2" cy="50.9" rx="1.4" ry="0.6" transform="rotate(0 217.2 50.9)"/><ellipse cx="223.5" cy="55.0" rx="0.7" ry="0.6" transform="rotate(0 223.5 55.0)"/><ellipse cx="213.3" cy="48.4" rx="0.7" ry="0.6" transform="rotate(0 213.3 48.4)"/><ellipse cx="252.8" cy="71.0" rx="0.7" ry="0.6" transform="rotate(0 252.8 71.0)"/><ellipse cx="256.0" cy="72.7" rx="0.7" ry="0.6" transform="rotate(0 256.0 72.7)"/><ellipse cx="243.5" cy="69.3" rx="0.7" ry="0.6" transform="rotate(30 243.5 69.3)"/><ellipse cx="263.0" cy="92.9" rx="0.7" ry="0.6" transform="rotate(0 263.0 92.9)"/><ellipse cx="262.1" cy="92.1" rx="0.7" ry="0.6" transform="rotate(0 262.1 92.1)"/><ellipse cx="265.7" cy="89.9" rx="0.7" ry="0.6" transform="rotate(0 265.7 89.9)"/><ellipse cx="259.1" cy="92.0" rx="0.7" ry="0.6" transform="rotate(0 259.1 92.0)"/><ellipse cx="245.8" cy="90.8" rx="0.7" ry="0.6" transform="rotate(0 245.8 90.8)"/><ellipse cx="237.5" cy="98.3" rx="0.7" ry="0.6" transform="rotate(0 237.5 98.3)"/><ellipse cx="234.8" cy="97.9" rx="0.7" ry="0.6" transform="rotate(0 234.8 97.9)"/><ellipse cx="233.8" cy="109.5" rx="0.7" ry="0.6" transform="rotate(0 233.8 109.5)"/><ellipse cx="257.9" cy="118.2" rx="1.2" ry="0.6" transform="rotate(-30 257.9 118.2)"/><ellipse cx="256.2" cy="116.6" rx="0.7" ry="0.6" transform="rotate(-20 256.2 116.6)"/><ellipse cx="240.1" cy="122.0" rx="0.7" ry="0.6" transform="rotate(0 240.1 122.0)"/><ellipse cx="242.7" cy="118.5" rx="0.7" ry="0.6" transform="rotate(0 242.7 118.5)"/><ellipse cx="226.9" cy="129.6" rx="1.8" ry="0.6" transform="rotate(40 226.9 129.6)"/><ellipse cx="204.3" cy="102.2" rx="0.7" ry="0.6" transform="rotate(0 204.3 102.2)"/><ellipse cx="179.6" cy="48.8" rx="1.5" ry="0.6" transform="rotate(0 179.6 48.8)"/><ellipse cx="131.3" cy="90.9" rx="0.7" ry="0.6" transform="rotate(0 131.3 90.9)"/><ellipse cx="145.7" cy="86.4" rx="0.7" ry="0.6" transform="rotate(0 145.7 86.4)"/><ellipse cx="197.9" cy="67.6" rx="0.7" ry="0.8" transform="rotate(10 197.9 67.6)"/><ellipse cx="209.1" cy="66.2" rx="0.7" ry="0.6" transform="rotate(0 209.1 66.2)"/><ellipse cx="197.9" cy="86.5" rx="0.7" ry="0.6" transform="rotate(0 197.9 86.5)"/><ellipse cx="199.1" cy="87.4" rx="0.7" ry="0.6" transform="rotate(0 199.1 87.4)"/><ellipse cx="104.4" cy="20.3" rx="0.7" ry="1.4" transform="rotate(20 104.4 20.3)"/><ellipse cx="103.3" cy="17.6" rx="1.4" ry="0.6" transform="rotate(-20 103.3 17.6)"/><ellipse cx="86.2" cy="6.5" rx="1.0" ry="0.6" transform="rotate(-30 86.2 6.5)"/><ellipse cx="95.2" cy="10.0" rx="0.7" ry="1.0" transform="rotate(20 95.2 10.0)"/><ellipse cx="94.2" cy="12.5" rx="0.7" ry="0.6" transform="rotate(0 94.2 12.5)"/><ellipse cx="83.3" cy="3.5" rx="0.7" ry="0.6" transform="rotate(0 83.3 3.5)"/><ellipse cx="24.4" cy="83.9" rx="0.7" ry="0.6" transform="rotate(0 24.4 83.9)"/><ellipse cx="93.4" cy="125.1" rx="0.7" ry="0.6" transform="rotate(0 93.4 125.1)"/><ellipse cx="87.8" cy="117.6" rx="0.7" ry="0.6" transform="rotate(0 87.8 117.6)"/></g></g><rect x="0" y="0" width="312.3" height="175.7" fill="none" stroke="#747474" stroke-width="1"/><path d="M0.0 175.7v6.2M19.5 175.7v6.2M39.0 175.7v6.2M58.6 175.7v6.2M78.1 175.7v6.2M97.6 175.7v6.2M117.1 175.7v6.2M136.6 175.7v6.2M156.2 175.7v6.2M175.7 175.7v6.2M195.2 175.7v6.2M214.7 175.7v6.2M234.2 175.7v6.2M253.8 175.7v6.2M273.3 175.7v6.2M292.8 175.7v6.2M312.3 175.7v6.2M0 0.0h-6.5M0 19.5h-6.5M0 39.0h-6.5M0 58.6h-6.5M0 78.1h-6.5M0 97.6h-6.5M0 117.1h-6.5M0 136.6h-6.5M0 156.2h-6.5M0 175.7h-6.5" stroke="#747474" stroke-width="1" fill="none"/><rect x="0.5" y="1" width="14" height="15" fill="#fff" stroke="#777" stroke-width="0.9"/><text x="7.5" y="12.4" font-size="12" text-anchor="middle" fill="#222" font-family='"Liberation Sans", sans-serif'>C</text></g><g transform="translate(363.8,251.0)"><g clip-path="url(#frame)"><g clip-path="url(#land)"><path fill="#f0f8fd" fill-rule="evenodd" d="M37.5 178.5l33.5 0l2-1l2 1l66.5 0l-.5-5.5l2-10l-.5-1.5l-1-.5l-12.5 0l-15-2.5l-6.5 .5l-12 1.5l-8.5 0l-3 1l-6 8.5l-3 2l-2 .5l-2.5-1l-4-3l-1.5-2.5l-2.5-7l-1-1l-2-1l-4-.5l-8.5 .5l-5 1.5l-2 1.5l-1.5 2l-1 5l0 11.5zM238 178.5l50 0l.5-15.5l.5-1.5l3 0l3.5 0l1 1l1 5.5l0 10.5l10 0l0-7.5l1-4l1-1.5l2-1l2 .5l1.5 1.5l0-5.5l-17.5 0l-3-2l-2.5-.5l-2 0l-2 2.5l-1 .5l-12-1l-2.5-1l-5.5-4.5l-3.5-1.5l-20-3l-8.5-3l-3.5-2l-7-6l-3-1.5l-2-.5l-3 .5l-6.5 3.5l-7-3.5l-5 0l-3.5 1.5l-2.5 2l-7.5 9l-1 2l0 2l1 2.5l2 2.5l2 1l3 .5l7-4l2.5-.5l3 1.5l3 4.5l2 1.5l8.5-1l7 1l8 5l4.5 2.5l2 1.5l.5 2.5l-1.5 3zM280.5 154l2.5 1l2 0l1-1l3-3.5l2-1l3 .5l6.5 2l8-1l6.5 0l0-9.5l-26 .5l-2.5-1.5l-1.5-6l-1-1l-9 0l-4 0l-3.5 1l-.5 1l1 1l14 7l0 2l-3 4l-1 2l1 1.5l1.5 1zM71.5 152.5l2 0l-.5-1l-1 0l-.5 1zM249 141.5l5.5-1.5l7.5-4.5l-4.5-2l-6.5-1.5l-3 0l-3.5 .5l-2 2l.5 3l2.5 3l3.5 1zM288 132l4 0l8.5-.5l14.5 .5l0-33.5l-5.5 0l-3.5-1l-2-2l-4.5-5.5l-11.5-7l-1.5-3l.5-10.5l-1-3l-2-1l-6-1.5l-3-1.5l-2-2l-3.5-6l-2-1l-8 .5l-2-1l-3.5-3l-2-1.5l-4-.5l-3.5 1l-2 2l-1 3.5l1.5 10l-.5 7.5l.5 3l2 2l2 1l7.5 1l2-1l.5-3l.5-1l1-1l2 1l.5 3l-1.5 1.5l-2.5 .5l0 2l1.5 2l6 3l1.5 5.5l1.5 3l7.5 5l1 3l-1 6l.5 3l1.5 2l5.5 2.5l2 2l1 4l1 8l1.5 2zM277 87l-8-3l-.5-1l2-.5l4.5 0l6.5 1.5l.5 1l-1 2l-2 .5l-2-.5zM100 103.5l1.5 .5l2-.5l.5-2l-1.5-1.5l-2-.5l-1.5 1l0 2l1 1zM191 94.5l4 .5l10-1l13.5 .5l3.5-1l1-2l-.5-7.5l3-6l.5-4l-1-3.5l-5-11l-1.5-2l-1-.5l-2 0l-5.5 2.5l-2-.5l-1-1.5l-2-5.5l-3-2.5l-2 0l-2 1l-4.5 8l-9 7l-6 3l-1.5 2l-1.5 2.5l0 5l1 4l2 1.5l7 3l2.5 6l3 2zM134.5 54.5l5 0l3-2l1-1.5l1-3l0-3l-1-2l-1 0l-2 .5l-4 4.5l-3.5 4.5l.5 1l1 1zM296.5 48l2 0l2.5-2l1-3l-1.5-2l-3-.5l-2 1l-1 1.5l0 3l2 2zM149.5 37l1 .5l2-.5l1-1l0-2l-1-1l-2 .5l-1.5 1.5l.5 2zM179.5 30.5l2 0l2.5 0l4.5-3l6.5-7l.5-2l-1-2l-2-1l-2 .5l-13 5l-1.5 2.5l0 3l1.5 2.5l2 1.5zM223 24.5l4.5 .5l3.5-1.5l7.5-7l.5-2l-.5-1l-4.5-2l-7.5-2l-8 1l-5 2l-1.5 2l1 2l10 8z"/><path fill="#e1f3fc" fill-rule="evenodd" d="M38.5 178.5l28.5 0l1.5-4l-.5-1.5l-3.5-5l-2.5-7l-1-2l-2.5-1l-3-.5l-7.5 0l-5.5 1.5l-3 3l-1 5l0 11.5zM78 177.5l.5 1l44.5 0l-.5-12.5l-.5-2l-2-2l-2-1l-4-1l-4.5 0l-13 1.5l-9.5 .5l-3 2l-6.5 9l-.5 1.5l1 3zM243 178.5l39.5 0l0-6.5l-2-4l-2.5-2l-7.5-4l-6-5.5l-3-1.5l-4-1l-16.5-2l-4-1l-5.5-3.5l-8-7l-3-1.5l-4 .5l-7.5 5.5l-1-.5l-3.5-4l-3.5-1.5l-5 1l-2.5 1.5l-1.5 2l-3 7l0 2l1 .5l2.5 .5l10.5-2l3 0l3 5.5l3 2.5l2.5 1l12 2l14 7.5l2 2l1.5 1.5l0 2l-1 3zM291.5 129l3.5-.5l5.5-2.5l8 1l6.5 0l0-27l-6.5 0l-4-1l-2-2l-2.5-4.5l-2-1.5l-2.5-1.5l-4.5-2l-3 0l-5 3l-2 0l-2 0l-7.5-3.5l-2-.5l-2 1l-1 2.5l1 3l2 2l5.5 3l1.5 2.5l.5 2l-1 6l.5 3l1.5 2l5 2l2 1.5l1 2l2 8l2 1.5l1.5 .5zM191.5 93.5l3.5 .5l10-1.5l11.5 1l4-1l.5-1l.5-1.5l-1.5-6l3.5-5l1.5-3l0-3l-1-2.5l-5.5-10.5l-1-.5l-2 0l-6.5 2.5l-4-.5l-.5-1l-.5-7l-1-1.5l-2-1l-2 .5l-1 1l-2 5l-1 2l-16.5 10l-1.5 1.5l-.5 2l-.5 5l1.5 3l3 2l8 2l.5 6l1 1.5l1.5 1zM205 85l-.5-1l3 0l-2.5 1zM273.5 81l7.5 0l3-1l1-3l.5-4l-.5-3.5l-1-2l-9.5-4l-6-8l-2-.5l-5 .5l-3-.5l-4.5-4.5l-4-1.5l-3 0l-3 1.5l-1 2l-.5 3l1.5 8l-.5 8.5l1.5 4l3 1.5l4 0l2-1l2.5-4l3-1l2.5 1.5l2 5l1.5 1.5l8 1.5zM138 52.5l2.5-.5l2-2l0-3l-1-1.5l-2 1l-2 3.5l-.5 1.5l1 1zM296.5 45l1 .5l1 0l1-1.5l-.5-1l-1.5 0l-1 1l0 1zM180 28.5l2.5 .5l3.5-1.5l3-4l.5-2l0-1l-2-.5l-3 0l-4 1.5l-1.5 1l-1 3l.5 2l1.5 1zM226.5 22.5l3-.5l3-2.5l2-3l0-2l-3-1.5l-5-.5l-4.5 0l-3.5 1.5l-.5 1.5l2 3l3.5 3l3 1z"/><path fill="#d2edfa" fill-rule="evenodd" d="M39 178.5l25 0l.5-5l-3-11l-1.5-2.5l-3.5-1.5l-5-.5l-5.5 .5l-4 2l-2 2.5l-.5 3l-.5 12.5zM80.5 178.5l38.5 0l0-10.5l-.5-3l-1-2l-1.5-1l-4.5-1l-24.5 2.5l-3 3l-3.5 6.5l-.5 2.5l.5 3zM246 178.5l32.5 0l.5-5l-1.5-3.5l-8-5.5l-5.5-6.5l-3.5-2l-8.5-2l-13 0l-3 0l-2.5-2l-8-8.5l-3-2l-2-1l-2 0l-3.5 2l-3.5 4l-1.5 3l0 3.5l2 3.5l3.5 2.5l14 2l4.5 2l11 8l2 2l.5 2.5l-1.5 3zM196 149.5l4-.5l3.5-1.5l1-3l-1.5-3l-2-1l-2-.5l-2 1l-2 1.5l-1.5 3l0 2l.5 1l2 1zM290.5 126l2.5 0l2-1l4.5-5.5l2-1.5l2 .5l2.5 2.5l2.5 1.5l3 .5l3.5-.5l0-7l-7.5-.5l-2-1l.5-1l1.5-1l7.5 0l0-9.5l-9.5 0l-4-1l-1-1.5l-2-6.5l-2-1.5l-1.5-1l-4 0l-2 .5l-3 3l-3 .5l-3-.5l-6.5-5.5l-3-.5l-1.5 .5l-1 2l.5 1.5l1 1l7 3l1.5 2l.5 3l-1.5 7l.5 3l2.5 1.5l7 2l1 8l1 1.5l1.5 1.5zM289 113.5l-1-1.5l-.5-4.5l.5-5l1-2l4 .5l5.5 2l1 2.5l0 3l-.5 2l-1.5 1.5l-2.5 1.5l-6 0zM191.5 91.5l1.5 1l3-.5l2.5-1l.5-1l-3-2l-3 0l-1.5 1l-.5 2l.5 .5zM213.5 91.5l4 0l1-.5l0-2l-1-1l-2-.5l-2.5 .5l-2.5 2l.5 1l2.5 .5zM180.5 82l5 .5l7.5-2.5l7 1l9-.5l5.5 1l3 0l3-1.5l2-2l1.5-3l0-3l-3.5-7l-3-3.5l-3 0l-5.5 2.5l-4 .5l-4-.5l-4-2.5l-3 .5l-3.5 1.5l-10 5.5l-2.5 2l-1 3l0 4l1 2l2.5 2zM274.5 80l5.5 0l3-2l1-2l.5-3l-.5-2.5l-1-2l-9.5-5l-4-5l-2-2l-9-.5l-2-1.5l-3.5-3.5l-3-1l-3 0l-2 1l-1.5 1.5l0 3l1.5 8l-.5 8.5l1.5 3l2 1.5l3 0l2-1.5l3-4l1.5-.5l2 0l3 1.5l3 4.5l1.5 1.5l3.5 1.5l4 .5zM199 57.5l1 .5l1.5-1.5l.5-2l-1-1l-1 0l-.5 1l-.5 3zM180.5 25.5l1 .5l2 0l1.5-1.5l-.5-1l-3 0l-1 1l0 1z"/><path fill="#c0e6f8" fill-rule="evenodd" d="M40 178.5l17 0l-1.5-2l0-3l4-4l1-2.5l0-3l-1.5-3l-2.5-1.5l-5-1l-5.5 1l-3.5 1.5l-1.5 2l-.5 3l-.5 12.5zM83 177.5l0 1l32.5 0l.5-12.5l-2-2.5l-3.5-1l-21.5 2.5l-3 2l-2 3l-1.5 3.5l.5 4zM250 178.5l24.5 0l1-5l-1.5-2.5l-6.5-5l-4-6l-3-2.5l-3-1.5l-4.5-1l-9 .5l-5.5 1.5l-1 1l-.5 2l1.5 3l2.5 3l8.5 6l2 1.5l0 2l-1.5 3zM217.5 158l5 .5l5-.5l2.5-1l1-2l-1-3.5l-3-4l-3.5-4l-3-1.5l-2 0l-3 1.5l-2 3l-1.5 3l0 3l1 2.5l1.5 2l3 1zM198 146.5l2 0l1-1l.5-2l-.5-1l-2-.5l-2 1.5l-.5 2l1.5 1zM290.5 122l1.5 1l1-1l.5-2l-.5-1l-1-.5l-1.5 .5l-.5 1l.5 2zM280.5 112l3.5 0l1-2.5l-.5-5l-1.5-2l-1-.5l-2 1l-2 4.5l0 3l1 1l1.5 .5zM270.5 92.5l2 1l1 0l.5-1l-.5-1l-2-1l-1 .5l-.5 .5l.5 1zM180.5 81l4 .5l6-2.5l2.5-.5l7 .5l9 0l8.5 1l2-1l2.5-2l1-2l0-3l-2.5-5.5l-2-2.5l-2-1l-2 0l-6.5 2.5l-4 1l-4-.5l-5-2l-2.5 0l-11 5.5l-3 2l-1 2.5l0 3l1 2.5l2 1.5zM274 79l5 0l3-2l1-2l.5-2l-.5-2l-1-1.5l-2-1.5l-7-3.5l-4.5-5.5l-2-1l-9-1.5l-4.5-4.5l-2.5-1l-2.5-.5l-2.5 1l-1 2l-.5 2l.5 3l2 5l-1 7.5l1 3l2.5 1.5l2-.5l4.5-4.5l2-1l2 0l3.5 1.5l5 6l2.5 1.5l3.5 .5z"/><path fill="#acdef6" fill-rule="evenodd" d="M41 178.5l12 0l-.5-3l0-3l1-1.5l4-3.5l1-2l0-2.5l-1.5-2l-2.5-1l-4.5-.5l-4 .5l-3 2l-1.5 2l-.5 3l0 11.5zM86 178.5l26 0l0-11.5l-.5-1l-3-1l-18.5 2.5l-2.5 1.5l-1.5 3l-.5 2.5l.5 4zM256.5 178.5l13 0l1-2l.5-2l-1-1.5l-4.5-5l-3.5-8l-4.5-3l-5.5-1l-6 0l-4.5 2l-1.5 2l.5 2l3 4l3.5 2.5l9 3.5l2.5 1.5l.5 1l-.5 2l-2 2zM219.5 157l3 0l3-.5l2-1.5l.5-2l-.5-2.5l-2.5-4l-2.5-2l-3-1l-2 .5l-2 1.5l-1.5 3l-.5 3l.5 1.5l1.5 2l4 2zM280 109.5l1 .5l1-.5l.5-1l-.5-1.5l-1-.5l-1 .5l0 2.5zM181 80l3.5 0l6-2.5l2.5-.5l7 .5l9 0l8.5 1l2-1l1.5-1.5l1-2l0-2l-2.5-5l-3-2l-2 0l-6.5 2.5l-4 .5l-4-.5l-6-1.5l-2.5 0l-10 4l-2.5 2l-.5 2l0 3l1 2l1.5 1zM273.5 78l4.5 0l3-1.5l1.5-3.5l-.5-2l-1.5-1.5l-8-4.5l-6-5.5l-9-2l-2-1l-3.5-4l-2-1l-2 0l-2 1l-1 2l0 2l3.5 8l-1.5 6l0 1.5l.5 1l1.5 1l1 0l4.5-5l2-.5l3 0l4 1.5l5 6l5 2z"/><path fill="#96d2f3" fill-rule="evenodd" d="M42.5 178.5l8 0l-.5-3l.5-2.5l1-3l5-5l0-2l-1-1l-3-1.5l-3.5 0l-3 .5l-2.5 2l-1.5 4l.5 11.5zM90 177.5l0 1l16 0l.5-6l-1-2l-2-1l-6-.5l-5 1l-1.5 1l-1.5 2l.5 4.5zM253.5 169l5-.5l2-.5l1-1l0-4l-1.5-3l-3.5-2l-4.5-1l-5 .5l-3.5 1.5l-1 1l0 2l2 3l4.5 3l4.5 1zM218 155l2.5 1l2-.5l2-1l1-1.5l.5-1.5l-1.5-3l-2-2.5l-2-1l-3 .5l-1.5 2l-1 2l0 2l.5 1.5l2.5 2zM181.5 79l3 0l6-3.5l2.5-.5l7 1l8-.5l6.5 1.5l3 0l3-2l.5-3l-1.5-3.5l-3-2l-3 .5l-4.5 2l-4 .5l-5 0l-6-1.5l-2.5-.5l-8.5 3l-3 1.5l-1 2l0 2l1 2l1.5 1zM273 77l4 .5l3-1.5l1-3l-1-2.5l-2-1.5l-7-3.5l-5.5-5l-9-2l-2-1.5l-2.5-3.5l-2-1l-2 0l-1 .5l-1 1.5l0 2l4.5 8l-.5 3l-.5 3l.5 0l2.5-2l2-1l4 0l3 .5l3 1.5l4.5 5.5l4 2z"/><path fill="#7ac0eb" fill-rule="evenodd" d="M44 178.5l4 0l-.5-5l1-2.5l5-6l0-2l-1-1l-2.5-.5l-3 .5l-2 1l-1 2l-.5 3l1 5.5l-.5 5zM251 167l4.5 0l2.5-1l1.5-2l-1-3l-2.5-2l-3-1l-4 0l-3 1l-1.5 2l.5 2l3 3l3 1zM218.5 153l1 1l2 0l2-1.5l-.5-3l-2.5-2.5l-2 0l-1.5 2.5l0 2l1.5 1.5zM181 77l1.5 1l3-1l6-5l0-1l-4-.5l-5 1l-2 1.5l-.5 1l.5 2l.5 1zM273 76l3 .5l3-1.5l.5-1l.5-2l-1.5-1.5l-9-4.5l-5-4.5l-9-2l-1.5-1l-3-4l-2-1l-1 1l-.5 1l.5 1.5l3.5 4.5l2.5 3.5l10.5 2.5l2 2l2.5 4.5l4 2zM214 75l3.5 0l2-2l-.5-2.5l-2.5-2l-2 0l-1.5 .5l-3.5 3l.5 1l4 2zM200 73l1 0l-1 0z"/><path fill="#66b2d7" fill-rule="evenodd" d="M46.5 167l.5 .5l2-1l1-1.5l-.5-1l-1.5 0l-1 .5l-1 1.5l.5 1zM250 165l3 .5l2-.5l1.5-1l0-2l-2-2l-1.5-.5l-3 0l-2 .5l-1 1l0 1.5l1 1.5l2 1zM182 75l.5 1l2-.5l1.5-1.5l.5-1l-1-.5l-2 0l-1 .5l-.5 2zM273.5 75l3.5 0l1.5-2l-.5-1l-1.5-1.5l-2-1l-3-1l-2 .5l-.5 1.5l.5 1.5l1.5 2l2.5 1zM215.5 72l.5 0l-.5 0zM259 64.5l3.5 0l.5-1l-1.5-1l-4-.5l-1 .5l0 1l2.5 1z"/><path fill="#509ed4" fill-rule="evenodd" d="M272.5 73l2.5 .5l1-.5l0-1l-1.5-1l-2 0l-.5 1l.5 1z"/><path fill="#fff6de" fill-rule="evenodd" d="M-3 178.5l36 0l0-6.5l1-8l1-4l2-3l5-2l18.5-2.5l7.5-4l3-1l3 0l3 1l8 6.5l7.5 1.5l21.5-1.5l17-3.5l19.5-2.5l5.5 .5l7 2l13.5-5.5l16.5-10l13-3l13.5-4l6-2.5l11.5-.5l10-1.5l10.5 3l10 0l9.5 1l2-.5l2-1l1-2l.5-3l-1.5-3l-6.5-4l-1.5-2l-.5-2.5l.5-7l-1.5-3l-6-4.5l-5-6.5l-2-1.5l-5.5-2l-4-2l-2.5 0l-1 1l.5 1l3 4l.5 3.5l-.5 3l-1 2l-4.5 4l0 2l2 5l0 2.5l-1.5 3l-2 1l-3-1l-5-7.5l-5.5-4l-3-3l-3-1.5l-5-1l-7.5-.5l-18.5 1l-5-1.5l-2-1.5l-2.5-4.5l-1.5-2l-7.5-4l-2-2l-.5-1l2-9l.5-5.5l-1-2l-4-2l-1.5-2l.5-3l1.5-5l0-2.5l-1-2l-8-6l-4.5-.5l-3.5 1.5l-1.5 2l-2 7.5l-2 3l-3.5 2.5l-9 2l-3.5 0l-3-.5l-8-5l-4-1.5l-12.5-.5l-3-1l-.5-1l0-1.5l3.5-7l-.5-6l0-2l.5-1l2-1l4 .5l2 1.5l3.5 5l6 2.5l5 3.5l3 1l3-.5l1.5-1.5l5-5l5-4l5-5.5l3-2l2.5 0l3 1l3.5 2.5l2.5 6.5l2 1l3-1l2-2.5l.5-3l-1-15.5l1.5-4l1-.5l2-.5l4.5 .5l3 0l7-5.5l6-2.5l1-1l1.5-2l0-2l-1-3l-198 0l0 181.5zM59.5 55l-2.5-1.5l-1-2l.5-1.5l1.5-2l2.5-1l4-1l3 .5l1.5 1.5l0 3l-2 2.5l-3.5 1.5l-4 0zM72 80l-.5-2l0-2l1-2l1.5-1l1 .5l.5 .5l-.5 3.5l-1 2l-1 1l-1-.5zM91.5 146l-1.5-1.5l-.5-2l1.5-2l1.5 0l1.5 1l.5 2l-1 1.5l-2 1zM109.5 112.5l-5-2.5l-9-2l-3-2l-1-2.5l-.5-3l1-3l2.5-3l4-2l3 0l2 .5l3 2l5 6.5l1.5 1.5l2-.5l4-2l2 0l1 1l0 1l-1 1.5l-4 3l-5 5l-2.5 .5zM132 92.5l-2-1l-1-1.5l-1-5l1-1.5l4.5-.5l18 0l7.5-1.5l1.5 .5l.5 1l-4 3.5l-3 4.5l-2.5 1.5l-4 .5l-15.5-.5zM112 83l0-1.5l2-1.5l5-1.5l3 0l2 .5l2 2l-.5 1l-3.5 1l-7 .5l-3-.5zM167 178.5l3.5 0l.5-11.5l-.5-1l-.5-.5l-1 1l-2 5.5l0 6.5zM72.5 167l3.5-1l2-3l.5-3l-1.5-2l-3-.5l-3 0l-1.5 1l-1.5 1.5l0 2l1 3l2 1.5l1.5 .5zM234 77l2-.5l1-1l1-5l0-19l-1-3l-3.5-5.5l.5-2l1-1l4 0l4.5 3l3.5 1l21.5 2l4.5 1l1.5 2l1.5 6.5l1 2l1 1.5l2 .5l4-2l4-4l.5-2l-1-4.5l.5-3l2.5-4l3.5-3l2.5-1l4-.5l4 .5l6 1.5l4.5 0l0-40.5l-77.5 0l-1.5 2l0 2l1.5 3l3.5 1.5l9 1l6.5 2l3 2l0 2l-1 1l-7.5 3l-4 2l-7 5l-7.5 7.5l-5 2.5l-14.5 2l-1.5-1.5l-1.5-5.5l-2-2l-4 0l-6 1l-3 2l-3.5 2.5l-4.5 9l-6.5 2l1 5l0 3.5l-1 2l-4 3l-1.5 2l-.5 3l0 2l1 .5l3 0l2-.5l2-1.5l8-7.5l1-2l1.5-5.5l1-1.5l4-1l9 0l2 .5l2 3l2 1l6.5 1.5l2.5 1l1.5 3l1 7l1.5 4l6.5 10.5l1.5 1zM310 69.5l5-.5l0-22.5l-2.5-.5l-3 0l-2 1.5l-8.5 7l-1 3l1 4l2.5 4.5l4 2.5l4.5 1z"/><path fill="#fff0c3" fill-rule="evenodd" d="M-3 178.5l34 0l0-5.5l1.5-9l1.5-5l2-3l4-1.5l19.5-2.5l11-5l2.5-.5l3.5 1l3.5 2l6 4l4 1.5l3.5 .5l19.5-1.5l18-3.5l18.5-2.5l14.5-.5l9.5-2l19-10.5l12.5-3l9.5-4l3-2l2.5-3l1.5-1.5l3 0l10.5 2l4-.5l2.5-1l1-1l-5.5-4.5l-3.5-7.5l-11-8.5l-3-1.5l-6-.5l-22 .5l-5-.5l-2-1l-3-6l-2-1.5l-9.5-4.5l-4-.5l-5 1.5l-2 1.5l-4.5 4.5l-2.5 1l-3.5 .5l-15 0l-4.5-.5l-1-1l-3-4.5l-2-1.5l-4-.5l-8.5 1l-2-.5l-1.5-1.5l0-2l1-2l3.5-3l15.5-5.5l3 .5l5.5 5l5 1.5l9 1l9.5-2.5l7 2.5l2 0l2-1.5l1-1.5l1-4l0-3l-1-2.5l-5.5-3.5l-1.5-2l0-3l.5-5l-.5-3l-5-5l-3-1.5l-3 0l-1.5 1.5l-3 9l-2 3l-4 1.5l-12.5 3.5l-4-.5l-7-5.5l-4-1.5l-4.5-.5l-11 .5l-4-1l-1.5-1.5l-.5-2l4-7.5l.5-3l-.5-7l1.5-3l1.5-1l3-1l4 0l3 1l2.5 2l4.5 5l7.5 6.5l2 1l2 .5l2-.5l1.5-1l4-4l5-4l5-5.5l3-2l3.5-.5l4 1l2 1l4 4l2 0l1-1.5l1-2.5l-.5-13l1.5-4.5l2-2l2-1l2.5-.5l4 .5l2-.5l3-3.5l4.5-3l.5-1l-1-2l-2-2l-109 0l0 15.5l-.5 11l1.5 6l3 8.5l0 3l-1.5 3l-5 3.5l-3 5l-1.5 2l-3.5 1l-5.5 .5l-5 0l-2-1.5l-1-3.5l1-4.5l3-2l7-1.5l1.5-1l.5-2l-1.5-3l-4.5-3l-1.5-2l-.5-1.5l1-6l-1-2l-5.5-5l-4-7l-1.5-.5l-1.5-.5l-2 1l-1 1l-1.5 4l1 9l-.5 8.5l2 6l0 2l-2 3l-7 7.5l-2 1l-1.5 .5l-9-1.5l-24.5 0l0 17.5l37 0l2.5-1.5l3.5-6l4-2l4 .5l1 1.5l.5 2l-.5 3l-1 2.5l-6 4l-3 6l-1.5 2l-2.5 1l-4.5 1l-9-.5l-24.5 0l0 96zM71 86.5l-1-1.5l-1-3l.5-6l2.5-5l2-2l2-.5l1.5 1l.5 1.5l-1 8l-3 7l-1 .5l-2 0zM90 146.5l-1.5-2l.5-3l2-2l2.5 0l1 1l1 2l-.5 3l-2.5 2l-2.5-1zM110.5 114.5l-8-4l-9-1l-2-1.5l-1.5-1.5l-1-4l.5-4l2-4l4-3.5l5-1.5l4 1l7 8.5l1.5 1l7-2l2 0l1 .5l1 3l-1 3l-5 4l-4.5 4.5l-3 1.5zM139.5 18l-2-1.5l-.5-1l.5-2l2-1l2 0l1.5 1l0 2l-1.5 2l-2 .5zM70.5 165l2.5 1l2.5-1l1.5-2.5l0-2.5l-1-1l-2-.5l-3.5 .5l-1 1l-.5 2l1.5 3zM270 127l5 1l4-1l2.5-2l0-2l0-2l-1.5-2l-5.5-3l-2-2.5l-1-2l.5-7l-1-3l-6-5l-3.5-5l-2-2l-3-1l-3.5 0l-1.5 1.5l-1.5 8.5l-2.5 5l1 8.5l-1 3l-2.5 5l1 1l10 5l3.5 .5l7 0l3.5 .5zM233.5 73l1.5 0l1-1l.5-2.5l1-13l-1-5.5l-1.5-2l-4.5-4.5l-2-6.5l-1-1l-5-1l-5 1l-3 2l-1.5 2l-.5 2l0 2l2 2l6 2l3 2l1 2.5l.5 7l1.5 4l4 6l3 2.5zM308 66.5l7 0l0-17.5l-3.5-1l-3 1l-5 3.5l-2.5 3l-.5 3l1.5 4l2.5 2.5l3.5 1.5zM179 61.5l2-1l1-1l-.5-1.5l-2 .5l-1 1l0 1l.5 1zM279 56.5l2 .5l3-2.5l1-3l-1.5-5.5l.5-1l5.5-6l3.5-2.5l2.5-1.5l4-1l15.5 .5l0-37.5l-60.5 0l-1.5 2l-1 2l1.5 2l7 4l2 2l.5 1.5l0 2l-2.5 2.5l-9.5 3l-5 2.5l-5.5 5l-5 6.5l-.5 2l1 1l3 .5l5-2.5l3 0l1.5 2l-2.5 5l1 2l2 1l9.5-.5l9 1.5l10 1l1.5 1l-1.5 6.5l.5 3l1 1zM186 54.5l2.5-.5l1-1.5l.5-2.5l-.5-1.5l-1-.5l-2 1l-1 1.5l-.5 3l1 1zM196 43l7-.5l3-1l1.5-1.5l.5-2l.5-4l-1-3l-1.5-1.5l-3-1l-4 0l-3 2l-3 2.5l-1.5 3l.5 3l1 2.5l3 1.5z"/><path fill="#ffe8a0" fill-rule="evenodd" d="M-3 171l24.5 0l5-.5l3-3l3.5-10.5l1.5-2l1.5-1l21.5-2.5l13-5l2.5-.5l3 .5l13.5 6.5l6 1l16.5-.5l19-4l23-2.5l8-2l10 0l4.5-2l15-8.5l11.5-3.5l9-4l3-2l3-5l1.5-1.5l2 0l8 1.5l4-.5l1-1.5l-.5-4l-1-2.5l-1.5-2l-9-8l-2-1l-5-1l-7.5 0l-24.5 1.5l-1-2l-1.5-5.5l-2-2.5l-4.5-2.5l-6.5-1.5l-4 .5l-3 1l-5 4.5l-3.5 1.5l-20.5 1l-5 .5l-1 1l-1 5.5l-1.5 3l-9 8.5l-2.5 1.5l-3.5 0l-7-3.5l-3-.5l-6 .5l-1.5-.5l-3.5-4l-.5-6l1-5l3.5-5.5l3-3.5l7-3.5l7-6.5l11.5-6l2-2l1-3l-1-3l-2-3l-3-2l-3-1l-4.5-.5l-15 1l-3.5 0l-2-1.5l-.5-3l.5-4.5l1-2l2.5-3l1-3l-2-14l-.5-.5l-3 2.5l-1.5 2l-.5 3l.5 8l-1 3l-1.5 1.5l-7 3l-6 6l-4 1l-10.5 1.5l-3 1.5l-1 3l-1 8.5l-1 3l-2 2l-7 6l-4.5 2l-5 1l-35-.5l0 18l24.5 0l9.5-.5l3 .5l1.5 1l1.5 3l-.5 3l-1.5 1.5l-2 2l-2.5 1l-3 0l-3-2l-3-.5l-11 1l-13.5-.5l0 2.5l6 0l4 1l3 2l1.5 2.5l-1.5 1l-4 1l-9 0l0 49zM18.5 127.5l-2-2.5l-2-4l.5-1l3.5-2l3-.5l2 0l1 .5l.5 2l-1.5 4l-2 3l-1 .5l-2 0zM70.5 90l-2.5-2l-1-3l-.5-5l1.5-5l4-6.5l5-5.5l3-1.5l2.5 0l.5 1l0 1l-2.5 6l-3.5 17.5l-1 1.5l-1.5 1.5l-2.5 0l-1.5 0zM90 148.5l-2.5-2l0-2l.5-3l1-2l1.5-1l3 .5l2.5 2.5l0 4l-1 2l-1.5 1l-2 .5l-1.5-.5zM180.5 112l-3-1.5l-.5-3l.5-2l2-2.5l3-1l1.5 4.5l.5 4l-1 1.5l-3 0zM71.5 164l1.5 .5l2-1l1-1.5l-1-2l-2-.5l-2 .5l-.5 2l1 2zM274 127l3 0l2-1l1.5-2l0-2l-1.5-2.5l-5.5-3.5l-2-2l-.5-2l.5-6.5l-.5-3l-1.5-2l-5-3l-5-6.5l-3-1.5l-2.5 1l-1.5 1l-.5 3l-.5 15l-1.5 8.5l.5 3l3.5 2.5l3.5 1.5l10 .5l6.5 1.5zM113 97.5l2 .5l9-3l.5-.5l.5-2l-1.5-2.5l-1.5-1.5l-3-.5l-4 .5l-4 1.5l-1 1l-.5 1.5l1.5 3l2 2zM145 77l5.5 0l7.5-2l9 3l2-.5l1.5-2.5l.5-3l-1-2.5l-2-1.5l-4-1.5l-2.5-2l-1-3l1-6l-.5-2l-3-4l-3-2l-2 0l-.5 1.5l-2 7.5l-2 3l-2 1l-10 3l-2 1l-2 2l0 1l.5 2l3.5 4l4 2.5l4.5 1zM231.5 69.5l2 .5l.5-.5l1-2l1.5-9l-.5-6l-2.5-3l-6-3.5l-2-5l-1-1l-3-1.5l-3 1l-2 1.5l-1 3l2 2l6 1.5l1.5 1.5l.5 2.5l.5 7l.5 4l2 4l3 3zM307.5 63.5l4 .5l3.5 0l0-13l-2.5-.5l-3 0l-3 2l-2 2l-1 2l0 3l1.5 2l2.5 2zM44 53.5l2-.5l0-1.5l-1-.5l-1.5 .5l-.5 1l1 1zM128.5 43l1.5 0l2-.5l8.5-7.5l5-5.5l3-2l4.5-1l8 1l2 0l1-3l.5-9l1-4l1.5-2.5l4.5-5l1-2l0-2l-.5-3l-70 0l-1.5 2l-1 .5l-4-2.5l-3 0l0 8l1 0l5-3l2 .5l2 2.5l.5 4l-.5 4.5l-1 3.5l-2 2l-3 1.5l-2-1l-1.5-2l-.5-8.5l-1-1.5l-1.5 3l-.5 3l3 11l4-1l3 0l12.5 4l3 2l11 12l2.5 1.5zM139.5 19.5l-3.5-2l-1.5-3l.5-2l1-1l2.5-1l2 0l2 .5l2 1.5l.5 3l-1 2l-1.5 1.5l-3 .5zM263.5 42l8 .5l11.5-1.5l3-1.5l7-4.5l5.5-2l16.5-.5l0-35.5l-45.5 0l2 2l.5 2l-.5 1.5l-3.5 3.5l-2 6.5l-1 2l-2.5 1.5l-8.5 2l-4 1.5l-5 4l-1.5 3l.5 2l4 2l2.5 2.5l2.5 6l10.5 3zM276 24.5l-1-1l.5-1l2.5 0l.5 1l-.5 1l-2 0zM196.5 41l4.5 .5l2-.5l2-1.5l1-2.5l0-2l0-2l-1-2l-2-1l-3 0l-3 1l-2 1.5l-1 2.5l-.5 2l1 2l2 2z"/><path fill="#fdd778" fill-rule="evenodd" d="M-3 166l23.5 .5l4-.5l2-1l2-2l2.5-8l0-3.5l-5.5-6l-4.5-7l-10.5-9l-4.5-2.5l-9 0l0 39zM41.5 152.5l6.5-.5l8.5-1.5l11-4l3.5-1l4 0l8 3l2 0l1-1l1.5-7l1.5-2l2.5-1l3.5 1l1.5 2l.5 2l-.5 5l-2 4l1 1l3 0l14 0l19.5-4l21-2.5l9-3l10 .5l3.5-1.5l16-9l9.5-3l10-4.5l2.5-2.5l2.5-5l1.5-2l3-.5l6 2l3 0l1.5-.5l1-1l0-3l-1.5-3l-10-8.5l-4-1l-5.5-.5l-17 .5l-5.5 1l-1.5 1l-1 2l1 7l-.5 1.5l-3 1l-4-.5l-3.5-2l-1.5-3l1-3l4.5-7l0-2l-.5-3l-1.5-2l-2.5-1l-4.5-1.5l-4-.5l-5 1.5l-5 4l-3 1.5l-19.5 .5l-4.5 1l-2.5 1.5l-2 6l-1.5 2l-10.5 9.5l-3 1l-3 0l-7-3l-2.5 1l-2.5 4l-3 1l-2.5-.5l-2-1l-1-1.5l-2-10.5l0-8l1.5-6l3-4.5l3-3l7-3.5l8-6l7.5-3l3-2l2-3l-.5-4l-1-2l-2.5-2l-3-1l-2.5-.5l-17 3l-4.5 2l-4.5 3.5l-2.5 4.5l-1 5l-1 11l-1 3l-2.5 1.5l-5.5 1l-2.5-1l-2.5-1.5l-1.5-4l-.5-4l2-6l7.5-12.5l.5-4.5l-1-1l-2.5-.5l-11 1l-3 1l-2 3l-1 5l1 9.5l-1.5 2l-2 1.5l-11 4.5l-6 1.5l-37 0l0 13.5l35-.5l4 1l4 3l1 4l-2 8.5l-1.5 2l-5.5 2.5l-3.5 3.5l-2.5 4l-1 4.5l.5 2l1 2l6.5 3.5l2 2l.5 2.5l0 6l1.5 1l4.5 1zM58.5 121l-3-2l0-1l1-1l2-1l2 .5l3 1.5l.5 2l-.5 1l-2 .5l-3-.5zM162 111l-1.5-1.5l0-2l1-2l1.5-.5l2 1l1 2.5l-1.5 2l-2.5 .5zM274 126l2 0l2-.5l1.5-1.5l.5-2l-1.5-2l-6-3.5l-2-2.5l-.5-2.5l.5-6l-.5-3l-6.5-5l-4-5.5l-2-1l-2 0l-1.5 1.5l-.5 2l0 5l2 5l.5 3l-1 3l-2.5 5.5l0 4l1.5 2l3.5 2l10 0l6.5 2zM114 94.5l2 .5l3-1l2-1l0-1.5l-2-1l-3 .5l-3 1.5l0 1l1 1zM164.5 75l2.5 .5l2-1l0-2.5l-1-1.5l-3-1l-3.5 1l0 1.5l3 3zM144.5 73l4 0l3-2l.5-.5l.5-2l-2-3l-2-1.5l-3-.5l-4 .5l-3 1.5l-1.5 2l1.5 3l3 2l3 .5zM230 66.5l2.5 .5l1-.5l1-3l1-6l-.5-3l-1-2l-1.5-1.5l-2-.5l-2 .5l-.5 .5l-1 6l.5 5l1 2l1.5 2zM309 60.5l2.5 .5l3.5-.5l0-7l-3.5-.5l-2 0l-2 1.5l-1 3l1 2l1.5 1zM265.5 41l6 0l12.5-3l9-5l4.5-1.5l10-1.5l7.5 0l0-33l-13.5 0l1 4l-1 3l-1.5 2l-2.5 .5l-2-.5l0-1l-.5-3l0-5l-15 0l0 5l-.5 3l-2 2l-6 3.5l-1.5 2l-.5 3l0 1l2 1l10.5 0l2.5 1l0 2l-.5 4l-2 2.5l-2 1l-4 0l-3.5-2l-2-2.5l-2-5l-1-.5l-6 0l-6 .5l-3.5 1.5l-3 2l-2.5 2.5l0 2l8 10l3 2l8 2.5zM128.5 40l1.5 .5l2-.5l7.5-5.5l7-7.5l4-1.5l7.5-.5l2-.5l1-1l1-3l2-10.5l3-8l-.5-5l-52 0l0 3l0 3l-1 2l-3.5 4l-2 2.5l-1 4l.5 4l2 2.5l7.5 4.5l5 6.5l6.5 7zM137.5 21l-3-2l-1.5-2.5l-.5-3l.5-2l1.5-1.5l3-.5l4 0l3 1l1.5 2l.5 2l-.5 3l-1.5 2l-1 1l-2 1l-4-.5zM197 39l3 1l3-1.5l1-3.5l-1-2.5l-3-1l-3 1.5l-1.5 3l.5 2l1 1z"/><path fill="#fdc355" fill-rule="evenodd" d="M-3 161l14.5-.5l10 1.5l2-.5l2-1.5l1-3l0-3l-1-1.5l-2-2l-6-3l-3-6l-4.5-4l-3.5-5l-3.5-1.5l-6 .5l0 9.5l5 0l3 .5l1.5 1l3.5 4l4.5 2.5l.5 1.5l-1.5 2l-2 .5l-7.5-2l-7 0l0 10zM44 151.5l8-1l18.5-5.5l3.5 0l9 2l1.5-1.5l2-5l1.5-2l2-1l1.5-.5l3 .5l2.5 3l1 3l0 7l1.5 1l4 .5l8-.5l21-4l18-2l4.5-1l7-3l10 .5l3.5-1.5l17.5-10.5l17-6.5l2-2.5l2-6l2.5-2l4-.5l7 2.5l2-.5l0-1.5l-1-1.5l-4-3.5l-5-5.5l-4-1l-6.5-.5l-14 .5l-4.5 1l-1.5 1l-1 2l.5 3l2 4.5l0 2l-4 .5l-7-1l-4.5-2.5l-2.5-1.5l-1-2l6-10l.5-3l-.5-2l-2-1.5l-2-1l-6.5-.5l-4 1l-5 4l-2 .5l-20.5 1l-4.5 1l-2.5 1.5l-4 8l-10.5 9.5l-3.5 1l-7 .5l-7 3l-6.5 .5l-5-1.5l-2-2.5l0-16.5l-1-5l-1-2l-3-.5l-9.5 0l-3-1l-2-2l-3-6.5l-2-2l-7.5 1l-12 4l-5 1l-37 0l0 9l33.5-.5l4.5 1l4 1.5l8 4.5l6.5 .5l2 1l3.5 5l8 6.5l1 2l0 2l-1.5 2l-2 1l-4 0l-8-1l-8.5 1l-8-1l-4 1l-2.5 3l-1.5 4l.5 2.5l2 2l5 3l2 2l.5 2l.5 5l.5 2l2 1l3 1zM161 112l-2-1.5l0-3l2-5l2-.5l4 2.5l2.5 3l0 1l-1 2l-2.5 1l-3 1l-2-.5zM274.5 125l2.5-.5l1.5-.5l0-2l-1.5-2l-5.5-2.5l-2-2.5l-.5-3l1-5.5l-.5-3.5l-1.5-1.5l-5-3l-4.5-6l-1 0l-1.5 0l-1 2l0 3l3 6l.5 4l-.5 4l-3 5.5l0 3l1.5 2l2 .5l9 0l7 2.5zM84 85l1 .5l1 0l11.5-5.5l8.5-6l9-3.5l2-2l1-2l0-2l-1-2l-2-1.5l-2-1l-4.5-.5l-15 3.5l-4.5 2.5l-4 3.5l-2 4l-.5 7l1.5 5zM59 77l1.5 1l2-1l7-8.5l2.5-5l-.5-2l-1-1.5l-4-1l-5 0l-4 1.5l-1.5 2l-1 3l.5 4l1 3.5l2.5 4zM231 64.5l1.5-.5l.5-.5l1-5l-.5-4l-2-1.5l-2 .5l-1.5 4l.5 4l1 2l1.5 1zM263 39l4.5 1l4-.5l10.5-5l13-4.5l12.5-2.5l7.5-.5l0-24l-.5-2l.5-4l-7 0l1 4l-1.5 4l-3.5 4l-7.5 4l-2.5 2.5l-4.5 6l-4 8l-2.5 2l-4 0l-5.5-2.5l-3.5-2.5l-3.5-5l-3-2l-3 0l-4 0l-3 1l-2.5 1.5l-2 2.5l0 2l1 2l6.5 7.5l6.5 3zM200 37l1-.5l.5-1.5l-1.5-1l-1.5 1l0 1l1.5 1zM130.5 36l3-.5l5-2.5l2.5-2l4.5-5.5l10.5-2l3-1.5l1-2.5l1-5l0-17.5l-39 0l0 9l1 3l2 .5l3-1.5l3-.5l10.5 .5l4.5 2l1.5 2.5l0 3l-1 4.5l-2 2.5l-2 1l-4-.5l-3.5-1.5l-9-7l-4 0l-2-3l-4 0l-3 2l-1 2l1 2.5l2 1l4 0l1.5 .5l3.5 10l4 4.5l2.5 2zM287 5l1 0l1-2l0-6l-3 0l-.5 5l.5 2l1 1z"/><path fill="#fcaa32" fill-rule="evenodd" d="M101.5 150.5l3 .5l5-.5l24-4l16-1.5l4.5-1.5l6-3l2-.5l10 .5l4.5-2l12.5-7.5l2.5-3l.5-2l-1-4l-2.5-3l-17.5-7l-8 1.5l-2.5-.5l-1.5-1l-1.5-2.5l1.5-8l0-2l-1-1l-3-1l-4.5 0l-15 .5l-3.5 .5l-3 2l-2.5 6l-1.5 2l-4 3l-6 6l-3 1.5l-6.5 1.5l-7 2.5l-9.5 .5l-7.5-1.5l-2-1l-1-2l0-2l2.5-6.5l.5-4l0-5l-1.5-4l-2-1.5l-3-.5l-11.5 0l-1.5-2l-2.5-5l-3-2.5l-3-.5l-3.5 .5l-13 4.5l-5 1l-35 0l0 3l24.5 0l10.5-.5l4 1.5l10 4.5l4 .5l7.5 0l2 1.5l3.5 7.5l8.5 8.5l1 2l-.5 2l-2.5 2.5l-4 1.5l-13-.5l-8.5 2l-8-2l-2 .5l-2 1.5l-1 2.5l0 2.5l2 2l5 3l2 2l.5 2l.5 6l1.5 2l2.5 .5l3 0l6.5-2l16.5-3.5l11.5 1l1.5-1l2-5l1.5-2l2.5-1l1.5-.5l3 1l3 2.5l1 3l1 6l2 2zM273 123l3 .5l1-1.5l-2-1.5l-4-.5l-.5 1l2.5 2zM258.5 120l3 1l5-1l2-1l-1-6l1.5-5.5l-.5-3l0-1l-2-1.5l-6-2l-.5 .5l.5 11l-2.5 5.5l0 2l.5 1zM206.5 119l1.5 0l1-4l1.5-2l9.5-4.5l.5-2l-1-2l-3-1.5l-4.5-1l-17 1l-2.5 .5l-1.5 1l-.5 2l2 3l2.5 1.5l7 1l3.5 2l1 2l0 3zM168.5 102.5l1.5 .5l2 0l2.5-4l1-3.5l-2-2.5l-2.5-.5l-4-.5l-2 .5l-2 2l-.5 2l.5 1l5.5 5zM259.5 99.5l0-2l-1-2l-1-.5l-.5 .5l.5 2l2 2zM86 80l3 .5l6-1.5l3.5-2l6-4.5l8.5-3l2.5-3l0-3l-1.5-1.5l-2-1l-3.5 0l-17.5 5.5l-4 3l-2 3.5l-.5 4l1.5 3zM59.5 73l1 1l2 0l2-1l2.5-2.5l2-3l1-3l0-2l-.5-1l-2-1.5l-4 0l-3.5 .5l-2.5 2l-1 2l0 3.5l1 3l2 2zM230.5 59.5l1 .5l0-2l-1 .5l0 1zM264.5 38l5 .5l3.5-1.5l2-2l.5-1l-1-2l-5-4l-4.5-5.5l-2.5-1.5l-5-.5l-3 .5l-2.5 1.5l-.5 1l-1 2l.5 2l3 3.5l4.5 5l6 2zM132.5 31l2 1l3-1l2-1.5l1-2l-.5-1l-1-1l-6.5-2l-3 0l-1 2l.5 2l1 2l2.5 1.5zM294.5 25.5l4 0l11-2.5l5.5 0l0-10.5l-3.5-.5l-3 .5l-8.5 4l-2.5 2l-2.5 3l-1 2l.5 2zM149.5 22.5l3.5 0l3.5-1l1.5-2l1-4l0-3l-1-3l-1-1.5l-4.5-4l-.5-3l.5-4l-18.5 0l-.5 5l2 3l3 1l8 1.5l2 1.5l1 3.5l-1 8l1 2z"/><path fill="#f89632" fill-rule="evenodd" d="M103 149.5l4.5 0l6.5-1l8-.5l12.5-2l14-1.5l4.5-1.5l8-4l3-.5l6 .5l3-.5l8.5-4.5l5-3l2.5-4l-.5-4l-1-2l-2-2l-12.5-5l-3-.5l-8 1l-3.5-1.5l-1-1l-1-1.5l.5-9l-2-2.5l-5.5-1l-17 1l-1.5 1l-1.5 1.5l-2 6l-1.5 2l-4 2.5l-5 5.5l-3 1.5l-12.5 4.5l-5 1l-19.5 .5l-10.5 2.5l-13 0l-2.5 1l-6 3l-2 .5l-6-2.5l-2 0l-1 1l0 1.5l1 .5l6 2l2 2l1 4l-.5 5l.5 1.5l1 .5l4 0l3.5-3l1 0l6 1l11.5-2l9 1l2 0l1-1l4-6l2-1.5l2.5-.5l3 .5l3 2.5l1.5 3l1.5 6l1 1l1.5 1zM72 114l2 .5l3-1.5l2-3.5l1-3l0-4l-1-3l-2-2l-3-.5l-3.5 0l-4 1l-2 1.5l-1 2l.5 4l1 3l2.5 3l4.5 2.5zM264 109.5l.5 .5l1 0l2-3l-.5-2.5l-1.5-1.5l-2 .5l-.5 1l0 3l1 2zM206 108.5l3 .5l3.5-.5l2.5-1l1-1l0-1l-1.5-1l-2.5-.5l-5 .5l-4 1l-1 1l4 2zM47.5 97.5l5 .5l4.5-1.5l1-1l.5-2l0-2l-1.5-1.5l-2.5-2l-3.5 0l-4 1l-5 2.5l-.5 1l.5 2l3 2l2.5 1zM168.5 97.5l1.5 1l1-.5l.5-1.5l-1.5-1l-1 0l-.5 1l0 1zM88 77l3 1l4.5-1.5l3.5-2.5l3.5-5l7-.5l2-1l1-1l.5-2l-1.5-1.5l-3 0l-3 1.5l-3 2.5l-7 0l-4 1l-2.5 2.5l-1.5 1.5l-.5 3l1 2zM60 71l1.5 1l2-.5l3.5-3l1.5-4l0-2l-1-1l-2-.5l-3 0l-2 .5l-2 1.5l-.5 2.5l0 2l.5 2l1.5 1.5zM263 36l4.5 1l2.5-1l1.5-2l-.5-2l-6.5-7.5l-2-2l-2-.5l-3-.5l-3.5 1.5l-1.5 2.5l1.5 4l4.5 4.5l4.5 2zM151 19.5l1.5 1l1.5-.5l2-2.5l0-4l-2-2l-1.5 .5l-1 1.5l-.5 4l0 2zM141.5 5l3 0l2-1l1-3l-1-4l-8 0l-1 1l-.5 3l.5 2l1 1l3 1z"/><path fill="#f2822d" fill-rule="evenodd" d="M105 148.5l8-1.5l10 0l11.5-2l14-1.5l4-1l8.5-4.5l9-.5l3-.5l8.5-4.5l3.5-2.5l2-3l-.5-4l-1-2l-3-2l-9.5-4l-3-.5l-8 1l-3-1l-2-1l-1-1.5l-.5-1.5l.5-8l-1-2l-1.5-1l-5-.5l-15 1l-1.5 1l-1.5 1.5l-2 6l-1 2l-4.5 2.5l-6 6l-3 1.5l-13.5 4.5l-15.5 1.5l-14.5 2.5l-15 .5l-3 .5l-2 2l-.5 1.5l1.5 3l6 6l4 1.5l10.5-1l9 .5l2-1.5l2.5-4.5l1.5-1.5l3-1l3.5 0l3 1.5l2 2l3 8l1 1l2.5 1zM71 111.5l2 0l2-.5l2-1.5l1.5-3l0-3l-.5-2l-1-2l-3-1l-3-.5l-2.5 1l-2 1.5l-1 2l0 2l1 3l2 2l2.5 2zM49 94.5l2.5 .5l2-.5l1-1l0-2l-1.5-.5l-1.5-.5l-2.5 1l-1.5 1l0 1l1.5 1zM91 74l1.5 .5l1.5-.5l1.5-1.5l0-1.5l-2-.5l-1.5 .5l-1 1.5l0 1.5zM61 69.5l2.5 .5l2-1.5l1.5-3l0-2l-.5-.5l-3-1l-2 .5l-1.5 1l-.5 3l1.5 3zM262.5 34l4 .5l1-1.5l-2.5-5.5l-2.5-3l-2-1.5l-2 0l-3 .5l-1.5 2l1 3l3.5 3.5l4 2z"/><path fill="#ee6e2a" fill-rule="evenodd" d="M103.5 146.5l3 .5l6.5-1.5l6 1l4 0l11.5-2.5l16-2l9.5-5l3-.5l8-.5l7.5-3l3.5-2l2-2l1-2l0-3l-1-2l-2-2l-8.5-4l-3.5-.5l-9 .5l-4.5-2l-2-2.5l.5-7l-.5-2l-1.5-2l-4.5-.5l-15 1l-1.5 1.5l-1 2l0 4l1.5 3l-.5 .5l-5 1l-3 1.5l-5 4.5l-3 2l-15.5 5l-12.5 1.5l-15 3.5l-14.5 0l-2 1l-1.5 .5l0 2l3 5l2.5 2.5l3 .5l8.5-.5l8 .5l2-1l3-5l2-2l3-.5l3.5 0l3 1.5l2 2l3 7l2 2zM72 109.5l2-.5l1-.5l1.5-2l.5-2l-1-3l-3-2l-3.5 1l-1 1l-1 2l.5 2l1 2l3 2zM62 67.5l1.5 0l1.5-1l0-2l-.5-1l-1 0l-2 1l0 2l.5 1zM260.5 31l2 .5l1-1l-1-3l-2-2.5l-3-.5l-1 1l0 2l2 2.5l2 1z"/><path fill="#ea5a28" fill-rule="evenodd" d="M119 145.5l5 0l11.5-2.5l13-1l3.5-1.5l5-3.5l3-1l13-2l5.5-2.5l3-2.5l1.5-2l.5-3l-1-2l-2-1.5l-7-3.5l-3.5-.5l-9 .5l-3-1l-3-1.5l-1.5-1.5l-.5-1.5l1-7l-.5-2l-1.5-1l-3.5-.5l-7 1l-7 .5l-1.5 2l0 2l1.5 1l5 1.5l1.5 1.5l-.5 1.5l-3 2l-5 1.5l-7 .5l-7.5 5.5l-7.5 2l-9 3.5l-10.5 1.5l-8 2.5l-8 1.5l-12.5 .5l-2 .5l-1 1l0 2l1 2l1 1.5l2 1l14.5 .5l3-1l3-5.5l2-2l3-.5l2.5 0l3 1l3 2l2.5 3l2.5 5l2 1.5l3 0l4.5-1.5l7 2zM72 106.5l1.5 0l1.5-2l-.5-2l-1.5-.5l-2 0l-1 1.5l.5 2l1.5 1z"/><path fill="#e44123" fill-rule="evenodd" d="M119.5 144.5l5.5 0l10.5-2.5l14-1.5l9.5-5.5l11-2l6.5-2.5l4-2.5l1-2l0-2l-2-3l-6.5-3.5l-3-.5l-10 .5l-6-2.5l-2-2l-1-1.5l1.5-5l-.5-3l-.5-1l-2-.5l-4 .5l-2.5 2l0 2l2 5l-.5 .5l-2.5 2l-7.5 3l-7.5 1.5l-7 4.5l-8.5 1.5l-9 3.5l-7.5 2l-1 1l4.5 4l4 6.5l2 2l2 0l5.5-2l7.5 3zM66 139.5l12 .5l2-1.5l.5-3l-2.5-1l-12.5 1l-1.5 1l-.5 1l.5 1l2 1z"/><path fill="#d2201e" fill-rule="evenodd" d="M119.5 143.5l5.5 .5l10.5-3l13-1.5l9.5-5.5l12-2l5.5-2.5l3.5-2.5l1-3l-2.5-3l-4.5-2.5l-3-.5l-11 0l-10.5-4l-18.5 6l-8 5l-8 0l-3.5 1l-12 5l-.5 1l.5 .5l4 7l2 2l2 0l5-1.5l1.5 0l6.5 3.5zM147.5 107.5l2 0l1-1.5l-.5-1.5l-1.5-.5l-1.5 .5l-.5 1l1 2z"/><path fill="#c31e26" fill-rule="evenodd" d="M120 142.5l5 .5l10.5-3l13-2l8.5-5l11-2l5.5-2l3-2l1-1.5l0-1.5l-2-2.5l-3.5-2l-13-.5l-10.5-3l-5 1l-11.5 4l-3 2l-4 4l-2 1l-2 0l-6-1.5l-3.5 .5l-10.5 5l0 1.5l1.5 3.5l1 1.5l2 1l6-1.5l2.5 .5l6 4z"/><path fill="#af1923" fill-rule="evenodd" d="M121 141.5l5 0l8.5-2.5l12-2.5l8.5-4l11.5-2.5l5.5-2l2.5-2l1-2l-1.5-2l-4-2l-11 0l-8.5-2l-3 0l-7 1.5l-6.5 2.5l-3 2l-5 5.5l-3 1.5l-3 0l-6-2.5l-3.5 .5l-4 2l-3 1.5l0 2l1 2l2 1l5-1.5l2.5 .5l2 .5l5 4.5z"/><path fill="#8c141e" fill-rule="evenodd" d="M121.5 139.5l2.5 1l2-.5l7.5-3l12-2.5l7.5-3.5l12-2l5-2l2-1.5l.5-1.5l-1.5-2l-2-.5l-11-.5l-7.5-1.5l-4 0l-6 1.5l-5 2l-2.5 2l-6 7.5l-7 3l0 2l1.5 2z"/><path fill="#fff" d="M101.0 175.8L101.0 173.2L106.8 173.2L106.8 170.9L117.9 170.9L117.9 166.2L120.9 166.2L120.9 164.5L126.1 164.5L126.1 161.9L134.9 161.9L134.9 159.2L137.8 159.2L137.8 157.2L140.7 157.2L140.7 155.1L146.5 155.1L146.5 152.8L159.4 152.8L159.4 155.7L162.3 155.7L162.3 158.6L167.6 158.6L167.6 166.2L169.9 166.2L169.9 170.9L172.2 170.9L172.2 173.8L174.6 173.8L174.6 180.0L101.0 180.0ZM290.1 150.0L290.1 173.6L286.3 173.6L286.3 180.0L320.0 180.0L320.0 150.0Z"/></g><path d="M73.7 -5.9L73.7 0.0L74.5 2.0L79.1 1.5L83.9 2.9L87.8 4.4L92.7 5.4L95.6 7.3L97.6 9.3L98.1 11.7L102.5 15.6L105.9 18.1L106.9 20.0L105.9 22.4L107.4 24.4L104.9 29.3L104.9 33.2L105.4 39.0L103.0 43.9L99.7 45.2L97.6 45.7L92.7 45.1L87.8 45.4L83.0 44.2L78.1 44.6L73.2 44.9L68.3 44.2L61.5 42.9L56.6 43.2L48.8 43.3L42.0 41.5L39.0 42.0L36.1 43.9L30.3 45.9L27.3 47.8L26.4 49.8L29.3 52.7L30.3 55.6L30.7 58.6L31.2 61.5L32.2 66.4L32.7 70.3L31.2 75.2L30.3 78.1L28.3 82.0L25.9 84.4L25.4 87.8L24.9 90.3L27.8 91.3L27.3 93.2L30.7 93.2L31.2 96.6L31.2 100.5L30.7 104.4L29.8 107.4L33.2 106.4L39.0 107.4L44.9 105.6L49.3 105.4L53.7 107.8L55.1 109.3L56.6 113.2L58.6 115.2L62.5 117.1L64.9 116.1L66.4 113.7L71.2 112.2L74.2 110.1L78.1 109.8L83.0 110.1L87.8 109.8L92.7 109.3L96.1 110.1L98.6 107.4L101.0 103.5L106.4 102.0L109.8 101.0L110.3 97.6L112.2 94.2L116.1 91.7L119.1 90.3L117.1 88.8L114.7 85.9L113.7 83.0L115.2 80.0L117.6 77.6L121.0 74.7L124.9 71.2L125.4 68.8L128.8 67.3L134.7 65.9L138.6 64.4L144.4 61.5L148.4 59.5L147.9 55.6L146.9 52.7L146.9 49.8L149.3 46.4L153.2 44.9L157.1 43.4L162.0 44.9L164.9 44.9L169.3 45.9L172.8 47.3L175.7 47.8L179.6 47.3L182.5 45.9L185.4 43.4L188.4 42.0L192.3 41.0L196.2 39.5L199.1 37.1L203.0 34.9L207.9 35.6L212.8 38.1L216.7 40.0L217.6 43.9L219.6 48.8L222.5 50.8L225.5 53.2L229.4 54.7L233.3 57.6L237.2 61.5L242.0 64.9L245.0 65.9L250.8 65.9L252.8 67.8L254.7 69.8L257.2 71.2L258.2 72.2L261.1 71.7L263.0 74.7L265.0 76.6L269.4 77.6L271.3 80.5L272.3 83.4L274.3 87.8L273.8 90.8L271.8 91.3L272.3 93.2L269.9 95.6L269.9 98.1L272.8 98.4L274.7 97.6L278.2 93.7L279.1 89.8L284.5 87.8L284.5 83.9L282.6 83.0L278.6 80.5L279.1 77.1L282.1 73.7L286.0 73.7L291.8 75.2L293.3 77.6L296.7 80.0L297.7 77.1L297.2 75.2L292.8 71.7L287.4 69.8L283.0 67.3L278.2 65.4L272.8 63.4L275.2 59.5L272.3 59.0L265.5 59.3L261.1 58.1L256.7 54.7L253.8 51.7L251.3 46.8L249.9 43.4L245.0 41.0L240.1 38.1L237.2 34.2L238.1 31.2L237.2 27.3L238.1 24.9L243.0 23.4L246.0 22.0L250.8 22.4L249.9 24.9L249.4 28.3L252.3 30.7L254.2 27.3L257.2 25.9L260.6 27.3L263.0 29.8L264.5 33.2L267.4 36.1L271.3 39.5L273.3 43.4L277.2 43.9L282.1 44.9L286.0 48.3L289.9 49.8L293.8 52.2L298.2 54.7L301.6 56.1L305.0 59.5L307.4 62.0L307.0 65.4L307.0 69.3L306.0 73.7L307.4 75.2L310.9 78.1L312.3 79.5L318.2 82.0L318.2 -5.9ZM22.4 181.5L22.9 175.7L23.4 171.8L21.0 169.3L21.0 165.9L21.5 161.0L23.4 156.2L26.8 153.2L30.3 148.4L34.2 144.0L42.9 140.5L50.3 136.6L52.7 132.7L55.6 126.9L58.1 122.0L59.5 119.1L64.4 118.1L65.4 121.0L68.3 124.0L73.2 124.9L79.1 124.4L84.9 124.9L88.3 123.0L92.7 125.9L97.6 125.9L103.5 124.0L107.4 121.0L111.3 119.6L115.2 119.1L118.1 117.6L122.0 114.7L126.9 112.2L132.7 111.3L138.6 111.3L144.4 110.3L148.4 109.5L154.2 108.3L160.1 108.3L165.9 109.8L169.8 110.8L173.7 109.1L178.6 106.9L181.5 107.4L186.4 108.3L191.3 107.8L195.2 108.5L201.1 107.8L205.0 105.9L209.8 104.4L213.7 104.4L217.2 105.9L216.2 108.8L218.6 109.8L220.1 108.8L223.0 106.9L225.5 108.3L222.5 112.2L219.6 113.7L220.6 118.1L223.0 120.0L225.0 122.0L224.5 124.9L222.0 127.9L218.6 131.8L215.2 134.7L214.7 137.1L217.6 139.6L221.1 141.0L225.5 144.0L229.4 144.9L234.2 147.9L239.1 148.4L246.0 147.4L250.8 148.4L255.7 150.3L261.6 151.8L266.4 153.2L267.4 157.1L270.4 161.0L275.2 163.5L281.1 164.5L287.9 166.9L294.8 169.8L300.6 172.3L304.5 172.8L308.4 170.8L311.8 166.4L312.3 164.0L318.2 161.0L318.2 181.5ZM238.4 99.6L239.6 97.1L241.6 96.1L245.0 95.8L247.4 95.6L250.8 97.6L256.7 97.4L260.6 96.8L264.5 96.3L268.4 94.7L269.9 95.0L266.0 99.6L265.5 103.5L264.5 104.4L266.0 106.4L264.5 109.3L264.5 110.8L258.6 109.3L256.2 106.9L250.8 105.4L246.0 103.0L243.0 102.0L240.1 101.0ZM197.2 68.8L199.1 69.8L201.5 69.3L205.0 67.3L207.4 65.9L210.3 67.3L211.3 69.3L212.3 72.2L212.8 75.2L211.3 78.1L211.8 82.0L210.8 85.9L209.4 86.4L205.9 85.9L204.5 88.3L201.1 88.8L199.1 87.4L199.6 84.4L200.1 81.0L199.1 79.1L200.1 76.1L199.1 73.7L197.2 72.2L196.7 70.3ZM208.9 48.8L209.4 51.7L210.3 55.1L210.3 58.1L208.9 60.5L207.9 62.5L206.9 64.6L204.5 63.4L203.0 62.5L201.5 60.5L201.1 58.1L201.5 55.6L201.1 54.7L202.5 53.2L205.4 51.7L207.9 51.2ZM140.1 82.5L141.5 81.0L144.9 79.3L148.4 78.6L147.9 80.5L150.8 80.8L149.3 83.4L146.9 84.9L144.0 83.0L142.0 83.4ZM154.2 78.1L157.1 77.5L159.1 79.5L155.7 78.9ZM128.8 88.3L131.8 86.9L132.7 87.8L130.8 89.3ZM222.0 137.6L225.0 138.1L224.5 140.1L221.6 139.6Z" fill="none" stroke="#555" stroke-width="0.6"/><g fill="#fff" stroke="#444" stroke-width="0.5"><ellipse cx="259.4" cy="28.6" rx="1.4" ry="0.7" transform="rotate(-40 259.4 28.6)"/><ellipse cx="257.7" cy="31.4" rx="0.7" ry="2.9" transform="rotate(-15 257.7 31.4)"/><ellipse cx="261.4" cy="31.4" rx="0.8" ry="0.6" transform="rotate(-40 261.4 31.4)"/><ellipse cx="263.3" cy="33.7" rx="2.9" ry="0.6" transform="rotate(-40 263.3 33.7)"/><ellipse cx="264.0" cy="39.0" rx="2.1" ry="0.6" transform="rotate(-40 264.0 39.0)"/><ellipse cx="265.7" cy="38.8" rx="1.8" ry="0.6" transform="rotate(-40 265.7 38.8)"/><ellipse cx="267.2" cy="40.8" rx="1.2" ry="0.6" transform="rotate(-40 267.2 40.8)"/><ellipse cx="270.4" cy="42.5" rx="1.0" ry="0.6" transform="rotate(-30 270.4 42.5)"/><ellipse cx="279.3" cy="45.6" rx="2.1" ry="0.6" transform="rotate(-5 279.3 45.6)"/><ellipse cx="279.1" cy="47.3" rx="3.1" ry="0.6" transform="rotate(-5 279.1 47.3)"/><ellipse cx="274.7" cy="48.3" rx="0.9" ry="0.6" transform="rotate(0 274.7 48.3)"/><ellipse cx="282.3" cy="49.3" rx="2.3" ry="0.6" transform="rotate(-5 282.3 49.3)"/><ellipse cx="281.6" cy="51.2" rx="0.8" ry="0.6" transform="rotate(0 281.6 51.2)"/><ellipse cx="288.4" cy="51.2" rx="2.0" ry="0.6" transform="rotate(-15 288.4 51.2)"/><ellipse cx="291.8" cy="51.5" rx="0.8" ry="0.6" transform="rotate(0 291.8 51.5)"/><ellipse cx="217.2" cy="50.9" rx="1.4" ry="0.6" transform="rotate(0 217.2 50.9)"/><ellipse cx="223.5" cy="55.0" rx="0.7" ry="0.6" transform="rotate(0 223.5 55.0)"/><ellipse cx="213.3" cy="48.4" rx="0.7" ry="0.6" transform="rotate(0 213.3 48.4)"/><ellipse cx="252.8" cy="71.0" rx="0.7" ry="0.6" transform="rotate(0 252.8 71.0)"/><ellipse cx="256.0" cy="72.7" rx="0.7" ry="0.6" transform="rotate(0 256.0 72.7)"/><ellipse cx="243.5" cy="69.3" rx="0.7" ry="0.6" transform="rotate(30 243.5 69.3)"/><ellipse cx="263.0" cy="92.9" rx="0.7" ry="0.6" transform="rotate(0 263.0 92.9)"/><ellipse cx="262.1" cy="92.1" rx="0.7" ry="0.6" transform="rotate(0 262.1 92.1)"/><ellipse cx="265.7" cy="89.9" rx="0.7" ry="0.6" transform="rotate(0 265.7 89.9)"/><ellipse cx="259.1" cy="92.0" rx="0.7" ry="0.6" transform="rotate(0 259.1 92.0)"/><ellipse cx="245.8" cy="90.8" rx="0.7" ry="0.6" transform="rotate(0 245.8 90.8)"/><ellipse cx="237.5" cy="98.3" rx="0.7" ry="0.6" transform="rotate(0 237.5 98.3)"/><ellipse cx="234.8" cy="97.9" rx="0.7" ry="0.6" transform="rotate(0 234.8 97.9)"/><ellipse cx="233.8" cy="109.5" rx="0.7" ry="0.6" transform="rotate(0 233.8 109.5)"/><ellipse cx="257.9" cy="118.2" rx="1.2" ry="0.6" transform="rotate(-30 257.9 118.2)"/><ellipse cx="256.2" cy="116.6" rx="0.7" ry="0.6" transform="rotate(-20 256.2 116.6)"/><ellipse cx="240.1" cy="122.0" rx="0.7" ry="0.6" transform="rotate(0 240.1 122.0)"/><ellipse cx="242.7" cy="118.5" rx="0.7" ry="0.6" transform="rotate(0 242.7 118.5)"/><ellipse cx="226.9" cy="129.6" rx="1.8" ry="0.6" transform="rotate(40 226.9 129.6)"/><ellipse cx="204.3" cy="102.2" rx="0.7" ry="0.6" transform="rotate(0 204.3 102.2)"/><ellipse cx="179.6" cy="48.8" rx="1.5" ry="0.6" transform="rotate(0 179.6 48.8)"/><ellipse cx="131.3" cy="90.9" rx="0.7" ry="0.6" transform="rotate(0 131.3 90.9)"/><ellipse cx="145.7" cy="86.4" rx="0.7" ry="0.6" transform="rotate(0 145.7 86.4)"/><ellipse cx="197.9" cy="67.6" rx="0.7" ry="0.8" transform="rotate(10 197.9 67.6)"/><ellipse cx="209.1" cy="66.2" rx="0.7" ry="0.6" transform="rotate(0 209.1 66.2)"/><ellipse cx="197.9" cy="86.5" rx="0.7" ry="0.6" transform="rotate(0 197.9 86.5)"/><ellipse cx="199.1" cy="87.4" rx="0.7" ry="0.6" transform="rotate(0 199.1 87.4)"/><ellipse cx="104.4" cy="20.3" rx="0.7" ry="1.4" transform="rotate(20 104.4 20.3)"/><ellipse cx="103.3" cy="17.6" rx="1.4" ry="0.6" transform="rotate(-20 103.3 17.6)"/><ellipse cx="86.2" cy="6.5" rx="1.0" ry="0.6" transform="rotate(-30 86.2 6.5)"/><ellipse cx="95.2" cy="10.0" rx="0.7" ry="1.0" transform="rotate(20 95.2 10.0)"/><ellipse cx="94.2" cy="12.5" rx="0.7" ry="0.6" transform="rotate(0 94.2 12.5)"/><ellipse cx="83.3" cy="3.5" rx="0.7" ry="0.6" transform="rotate(0 83.3 3.5)"/><ellipse cx="24.4" cy="83.9" rx="0.7" ry="0.6" transform="rotate(0 24.4 83.9)"/><ellipse cx="93.4" cy="125.1" rx="0.7" ry="0.6" transform="rotate(0 93.4 125.1)"/><ellipse cx="87.8" cy="117.6" rx="0.7" ry="0.6" transform="rotate(0 87.8 117.6)"/></g></g><rect x="0" y="0" width="312.3" height="175.7" fill="none" stroke="#747474" stroke-width="1"/><path d="M0.0 175.7v6.2M19.5 175.7v6.2M39.0 175.7v6.2M58.6 175.7v6.2M78.1 175.7v6.2M97.6 175.7v6.2M117.1 175.7v6.2M136.6 175.7v6.2M156.2 175.7v6.2M175.7 175.7v6.2M195.2 175.7v6.2M214.7 175.7v6.2M234.2 175.7v6.2M253.8 175.7v6.2M273.3 175.7v6.2M292.8 175.7v6.2M312.3 175.7v6.2M0 0.0h-6.5M0 19.5h-6.5M0 39.0h-6.5M0 58.6h-6.5M0 78.1h-6.5M0 97.6h-6.5M0 117.1h-6.5M0 136.6h-6.5M0 156.2h-6.5M0 175.7h-6.5" stroke="#747474" stroke-width="1" fill="none"/><rect x="0.5" y="1" width="14" height="15" fill="#fff" stroke="#777" stroke-width="0.9"/><text x="7.5" y="12.4" font-size="12" text-anchor="middle" fill="#222" font-family='"Liberation Sans", sans-serif'>D</text></g><text transform="translate(16.2,24.8) scale(0.95,1)" font-size="8.6" font-weight="bold" text-anchor="end" fill="#222">48N</text><text transform="translate(16.2,44.3) scale(0.95,1)" font-size="8.6" font-weight="bold" text-anchor="end" fill="#222">46N</text><text transform="translate(16.2,63.8) scale(0.95,1)" font-size="8.6" font-weight="bold" text-anchor="end" fill="#222">44N</text><text transform="translate(16.2,83.4) scale(0.95,1)" font-size="8.6" font-weight="bold" text-anchor="end" fill="#222">42N</text><text transform="translate(16.2,102.9) scale(0.95,1)" font-size="8.6" font-weight="bold" text-anchor="end" fill="#222">40N</text><text transform="translate(16.2,122.4) scale(0.95,1)" font-size="8.6" font-weight="bold" text-anchor="end" fill="#222">38N</text><text transform="translate(16.2,141.9) scale(0.95,1)" font-size="8.6" font-weight="bold" text-anchor="end" fill="#222">36N</text><text transform="translate(16.2,161.4) scale(0.95,1)" font-size="8.6" font-weight="bold" text-anchor="end" fill="#222">34N</text><text transform="translate(16.2,181.0) scale(0.95,1)" font-size="8.6" font-weight="bold" text-anchor="end" fill="#222">32N</text><text transform="translate(16.2,200.5) scale(0.95,1)" font-size="8.6" font-weight="bold" text-anchor="end" fill="#222">30N</text><text transform="translate(16.2,253.9) scale(0.95,1)" font-size="8.6" font-weight="bold" text-anchor="end" fill="#222">48N</text><text transform="translate(16.2,273.4) scale(0.95,1)" font-size="8.6" font-weight="bold" text-anchor="end" fill="#222">46N</text><text transform="translate(16.2,292.9) scale(0.95,1)" font-size="8.6" font-weight="bold" text-anchor="end" fill="#222">44N</text><text transform="translate(16.2,312.5) scale(0.95,1)" font-size="8.6" font-weight="bold" text-anchor="end" fill="#222">42N</text><text transform="translate(16.2,332.0) scale(0.95,1)" font-size="8.6" font-weight="bold" text-anchor="end" fill="#222">40N</text><text transform="translate(16.2,351.5) scale(0.95,1)" font-size="8.6" font-weight="bold" text-anchor="end" fill="#222">38N</text><text transform="translate(16.2,371.0) scale(0.95,1)" font-size="8.6" font-weight="bold" text-anchor="end" fill="#222">36N</text><text transform="translate(16.2,390.5) scale(0.95,1)" font-size="8.6" font-weight="bold" text-anchor="end" fill="#222">34N</text><text transform="translate(16.2,410.1) scale(0.95,1)" font-size="8.6" font-weight="bold" text-anchor="end" fill="#222">32N</text><text transform="translate(16.2,429.6) scale(0.95,1)" font-size="8.6" font-weight="bold" text-anchor="end" fill="#222">30N</text><text transform="translate(27.5,444.9) scale(0.88,1)" font-size="9.1" font-weight="bold" text-anchor="middle" fill="#222">12W</text><text transform="translate(47.0,444.9) scale(0.88,1)" font-size="9.1" font-weight="bold" text-anchor="middle" fill="#222">10W</text><text transform="translate(66.5,444.9) scale(0.88,1)" font-size="9.1" font-weight="bold" text-anchor="middle" fill="#222">8W</text><text transform="translate(86.1,444.9) scale(0.88,1)" font-size="9.1" font-weight="bold" text-anchor="middle" fill="#222">6W</text><text transform="translate(105.6,444.9) scale(0.88,1)" font-size="9.1" font-weight="bold" text-anchor="middle" fill="#222">4W</text><text transform="translate(125.1,444.9) scale(0.88,1)" font-size="9.1" font-weight="bold" text-anchor="middle" fill="#222">2W</text><text transform="translate(144.6,444.9) scale(0.88,1)" font-size="9.1" font-weight="bold" text-anchor="middle" fill="#222">0</text><text transform="translate(164.1,444.9) scale(0.88,1)" font-size="9.1" font-weight="bold" text-anchor="middle" fill="#222">2E</text><text transform="translate(183.7,444.9) scale(0.88,1)" font-size="9.1" font-weight="bold" text-anchor="middle" fill="#222">4E</text><text transform="translate(203.2,444.9) scale(0.88,1)" font-size="9.1" font-weight="bold" text-anchor="middle" fill="#222">6E</text><text transform="translate(222.7,444.9) scale(0.88,1)" font-size="9.1" font-weight="bold" text-anchor="middle" fill="#222">8E</text><text transform="translate(242.2,444.9) scale(0.88,1)" font-size="9.1" font-weight="bold" text-anchor="middle" fill="#222">10E</text><text transform="translate(261.7,444.9) scale(0.88,1)" font-size="9.1" font-weight="bold" text-anchor="middle" fill="#222">12E</text><text transform="translate(281.3,444.9) scale(0.88,1)" font-size="9.1" font-weight="bold" text-anchor="middle" fill="#222">14E</text><text transform="translate(300.8,444.9) scale(0.88,1)" font-size="9.1" font-weight="bold" text-anchor="middle" fill="#222">16E</text><text transform="translate(320.3,444.9) scale(0.88,1)" font-size="9.1" font-weight="bold" text-anchor="middle" fill="#222">18E</text><text transform="translate(339.8,444.9) scale(0.88,1)" font-size="9.1" font-weight="bold" text-anchor="middle" fill="#222">20E</text><text transform="translate(363.8,444.9) scale(0.88,1)" font-size="9.1" font-weight="bold" text-anchor="middle" fill="#222">12W</text><text transform="translate(383.3,444.9) scale(0.88,1)" font-size="9.1" font-weight="bold" text-anchor="middle" fill="#222">10W</text><text transform="translate(402.8,444.9) scale(0.88,1)" font-size="9.1" font-weight="bold" text-anchor="middle" fill="#222">8W</text><text transform="translate(422.4,444.9) scale(0.88,1)" font-size="9.1" font-weight="bold" text-anchor="middle" fill="#222">6W</text><text transform="translate(441.9,444.9) scale(0.88,1)" font-size="9.1" font-weight="bold" text-anchor="middle" fill="#222">4W</text><text transform="translate(461.4,444.9) scale(0.88,1)" font-size="9.1" font-weight="bold" text-anchor="middle" fill="#222">2W</text><text transform="translate(480.9,444.9) scale(0.88,1)" font-size="9.1" font-weight="bold" text-anchor="middle" fill="#222">0</text><text transform="translate(500.4,444.9) scale(0.88,1)" font-size="9.1" font-weight="bold" text-anchor="middle" fill="#222">2E</text><text transform="translate(520.0,444.9) scale(0.88,1)" font-size="9.1" font-weight="bold" text-anchor="middle" fill="#222">4E</text><text transform="translate(539.5,444.9) scale(0.88,1)" font-size="9.1" font-weight="bold" text-anchor="middle" fill="#222">6E</text><text transform="translate(559.0,444.9) scale(0.88,1)" font-size="9.1" font-weight="bold" text-anchor="middle" fill="#222">8E</text><text transform="translate(578.5,444.9) scale(0.88,1)" font-size="9.1" font-weight="bold" text-anchor="middle" fill="#222">10E</text><text transform="translate(598.0,444.9) scale(0.88,1)" font-size="9.1" font-weight="bold" text-anchor="middle" fill="#222">12E</text><text transform="translate(617.6,444.9) scale(0.88,1)" font-size="9.1" font-weight="bold" text-anchor="middle" fill="#222">14E</text><text transform="translate(637.1,444.9) scale(0.88,1)" font-size="9.1" font-weight="bold" text-anchor="middle" fill="#222">16E</text><text transform="translate(656.6,444.9) scale(0.88,1)" font-size="9.1" font-weight="bold" text-anchor="middle" fill="#222">18E</text><text transform="translate(676.1,444.9) scale(0.88,1)" font-size="9.1" font-weight="bold" text-anchor="middle" fill="#222">20E</text><text x="207.4" y="11.8" font-size="13.2" text-anchor="middle" fill="#111" textLength="22.5" lengthAdjust="spacingAndGlyphs">DJF</text><text x="533.7" y="11.4" font-size="13.2" text-anchor="middle" fill="#111" textLength="19.5" lengthAdjust="spacingAndGlyphs">JJA</text><rect x="161.40" y="212" width="10.47" height="14.9" fill="#0000f5"/><rect x="171.57" y="212" width="10.47" height="14.9" fill="#0028fa"/><rect x="181.74" y="212" width="10.47" height="14.9" fill="#005afa"/><rect x="191.91" y="212" width="10.47" height="14.9" fill="#008cfa"/><rect x="202.08" y="212" width="10.47" height="14.9" fill="#00b9ff"/><rect x="212.25" y="212" width="10.47" height="14.9" fill="#00e6ff"/><rect x="222.42" y="212" width="10.47" height="14.9" fill="#00f5e6"/><rect x="232.59" y="212" width="10.47" height="14.9" fill="#00e6be"/><rect x="242.76" y="212" width="10.47" height="14.9" fill="#00d796"/><rect x="252.93" y="212" width="10.47" height="14.9" fill="#00cd6e"/><rect x="263.10" y="212" width="10.47" height="14.9" fill="#00be46"/><rect x="273.27" y="212" width="10.47" height="14.9" fill="#00b41e"/><rect x="283.44" y="212" width="10.47" height="14.9" fill="#28b914"/><rect x="293.61" y="212" width="10.47" height="14.9" fill="#50c80f"/><rect x="303.78" y="212" width="10.47" height="14.9" fill="#82d70a"/><rect x="313.95" y="212" width="10.47" height="14.9" fill="#b4e600"/><rect x="324.12" y="212" width="10.47" height="14.9" fill="#e6f500"/><rect x="334.29" y="212" width="10.47" height="14.9" fill="#fff500"/><rect x="344.46" y="212" width="10.47" height="14.9" fill="#ffe100"/><rect x="354.63" y="212" width="10.47" height="14.9" fill="#f0d700"/><rect x="364.80" y="212" width="10.47" height="14.9" fill="#ffc300"/><rect x="374.97" y="212" width="10.47" height="14.9" fill="#ffb400"/><rect x="385.14" y="212" width="10.47" height="14.9" fill="#ffa000"/><rect x="395.31" y="212" width="10.47" height="14.9" fill="#fa8c14"/><rect x="405.48" y="212" width="10.47" height="14.9" fill="#ff6e00"/><rect x="415.65" y="212" width="10.47" height="14.9" fill="#fa5000"/><rect x="425.82" y="212" width="10.47" height="14.9" fill="#ff2d0a"/><rect x="435.99" y="212" width="10.47" height="14.9" fill="#ff1400"/><rect x="446.16" y="212" width="10.47" height="14.9" fill="#eb0014"/><rect x="456.33" y="212" width="10.47" height="14.9" fill="#dc002d"/><rect x="466.50" y="212" width="10.47" height="14.9" fill="#c80032"/><rect x="476.67" y="212" width="10.47" height="14.9" fill="#a0003c"/><rect x="486.84" y="212" width="10.47" height="14.9" fill="#78006e"/><rect x="497.01" y="212" width="10.47" height="14.9" fill="#5000a0"/><path d="M171.57 212v14.9M181.74 212v14.9M191.91 212v14.9M202.08 212v14.9M212.25 212v14.9M222.42 212v14.9M232.59 212v14.9M242.76 212v14.9M252.93 212v14.9M263.10 212v14.9M273.27 212v14.9M283.44 212v14.9M293.61 212v14.9M303.78 212v14.9M313.95 212v14.9M324.12 212v14.9M334.29 212v14.9M344.46 212v14.9M354.63 212v14.9M364.80 212v14.9M374.97 212v14.9M385.14 212v14.9M395.31 212v14.9M405.48 212v14.9M415.65 212v14.9M425.82 212v14.9M435.99 212v14.9M446.16 212v14.9M456.33 212v14.9M466.50 212v14.9M476.67 212v14.9M486.84 212v14.9M497.01 212v14.9" stroke="#333" stroke-opacity="0.55" stroke-width="0.6"/><rect x="161.4" y="212" width="345.78" height="14.9" fill="none" stroke="#333" stroke-opacity="0.5" stroke-width="0.6"/><text transform="translate(171.6,242.2) scale(1.2,1)" font-size="14.3" text-anchor="middle" fill="#111">-4</text><text transform="translate(212.2,242.2) scale(1.2,1)" font-size="14.3" text-anchor="middle" fill="#111">0</text><text transform="translate(252.9,242.2) scale(1.2,1)" font-size="14.3" text-anchor="middle" fill="#111">4</text><text transform="translate(293.6,242.2) scale(1.2,1)" font-size="14.3" text-anchor="middle" fill="#111">8</text><text transform="translate(334.3,242.2) scale(1.2,1)" font-size="14.3" text-anchor="middle" fill="#111">12</text><text transform="translate(375.0,242.2) scale(1.2,1)" font-size="14.3" text-anchor="middle" fill="#111">16</text><text transform="translate(415.6,242.2) scale(1.2,1)" font-size="14.3" text-anchor="middle" fill="#111">20</text><text transform="translate(456.3,242.2) scale(1.2,1)" font-size="14.3" text-anchor="middle" fill="#111">24</text><text transform="translate(497.0,242.2) scale(1.2,1)" font-size="14.3" text-anchor="middle" fill="#111">28</text><text x="511.4" y="222.3" font-size="14" fill="#111" textLength="25.5" lengthAdjust="spacingAndGlyphs">(°C)</text><rect x="175.10" y="455.2" width="10.68" height="14" fill="#1b2a69"/><rect x="185.48" y="455.2" width="10.68" height="14" fill="#1e3a82"/><rect x="195.86" y="455.2" width="10.68" height="14" fill="#204896"/><rect x="206.24" y="455.2" width="10.68" height="14" fill="#265aa5"/><rect x="216.62" y="455.2" width="10.68" height="14" fill="#2f70b9"/><rect x="227.00" y="455.2" width="10.68" height="14" fill="#3e87c8"/><rect x="237.38" y="455.2" width="10.68" height="14" fill="#509ed4"/><rect x="247.76" y="455.2" width="10.68" height="14" fill="#66b2d7"/><rect x="258.14" y="455.2" width="10.68" height="14" fill="#7ac0eb"/><rect x="268.52" y="455.2" width="10.68" height="14" fill="#96d2f3"/><rect x="278.90" y="455.2" width="10.68" height="14" fill="#acdef6"/><rect x="289.28" y="455.2" width="10.68" height="14" fill="#c0e6f8"/><rect x="299.66" y="455.2" width="10.68" height="14" fill="#d2edfa"/><rect x="310.04" y="455.2" width="10.68" height="14" fill="#e1f3fc"/><rect x="320.42" y="455.2" width="10.68" height="14" fill="#f0f8fd"/><rect x="330.80" y="455.2" width="10.68" height="14" fill="#ffffff"/><rect x="341.18" y="455.2" width="10.68" height="14" fill="#ffffff"/><rect x="351.56" y="455.2" width="10.68" height="14" fill="#ffffff"/><rect x="361.94" y="455.2" width="10.68" height="14" fill="#ffffff"/><rect x="372.32" y="455.2" width="10.68" height="14" fill="#fff6de"/><rect x="382.70" y="455.2" width="10.68" height="14" fill="#fff0c3"/><rect x="393.08" y="455.2" width="10.68" height="14" fill="#ffe8a0"/><rect x="403.46" y="455.2" width="10.68" height="14" fill="#fdd778"/><rect x="413.84" y="455.2" width="10.68" height="14" fill="#fdc355"/><rect x="424.22" y="455.2" width="10.68" height="14" fill="#fcaa32"/><rect x="434.60" y="455.2" width="10.68" height="14" fill="#f89632"/><rect x="444.98" y="455.2" width="10.68" height="14" fill="#f2822d"/><rect x="455.36" y="455.2" width="10.68" height="14" fill="#ee6e2a"/><rect x="465.74" y="455.2" width="10.68" height="14" fill="#ea5a28"/><rect x="476.12" y="455.2" width="10.68" height="14" fill="#e44123"/><rect x="486.50" y="455.2" width="10.68" height="14" fill="#d2201e"/><rect x="496.88" y="455.2" width="10.68" height="14" fill="#c31e26"/><rect x="507.26" y="455.2" width="10.68" height="14" fill="#af1923"/><rect x="517.64" y="455.2" width="10.68" height="14" fill="#8c141e"/><path d="M185.48 455.2v14M195.86 455.2v14M206.24 455.2v14M216.62 455.2v14M227.00 455.2v14M237.38 455.2v14M247.76 455.2v14M258.14 455.2v14M268.52 455.2v14M278.90 455.2v14M289.28 455.2v14M299.66 455.2v14M310.04 455.2v14M320.42 455.2v14M330.80 455.2v14M341.18 455.2v14M351.56 455.2v14M361.94 455.2v14M372.32 455.2v14M382.70 455.2v14M393.08 455.2v14M403.46 455.2v14M413.84 455.2v14M424.22 455.2v14M434.60 455.2v14M444.98 455.2v14M455.36 455.2v14M465.74 455.2v14M476.12 455.2v14M486.50 455.2v14M496.88 455.2v14M507.26 455.2v14M517.64 455.2v14" stroke="#333" stroke-opacity="0.55" stroke-width="0.6"/><rect x="175.1" y="455.2" width="352.92" height="14" fill="none" stroke="#333" stroke-opacity="0.5" stroke-width="0.6"/><text transform="translate(185.5,483.7) scale(1.2,1)" font-size="14.3" text-anchor="middle" fill="#111">-4</text><text transform="translate(227.0,483.7) scale(1.2,1)" font-size="14.3" text-anchor="middle" fill="#111">-3</text><text transform="translate(268.5,483.7) scale(1.2,1)" font-size="14.3" text-anchor="middle" fill="#111">-2</text><text transform="translate(310.0,483.7) scale(1.2,1)" font-size="14.3" text-anchor="middle" fill="#111">-1</text><text transform="translate(351.6,483.7) scale(1.2,1)" font-size="14.3" text-anchor="middle" fill="#111">0</text><text transform="translate(393.1,483.7) scale(1.2,1)" font-size="14.3" text-anchor="middle" fill="#111">1</text><text transform="translate(434.6,483.7) scale(1.2,1)" font-size="14.3" text-anchor="middle" fill="#111">2</text><text transform="translate(476.1,483.7) scale(1.2,1)" font-size="14.3" text-anchor="middle" fill="#111">3</text><text transform="translate(517.6,483.7) scale(1.2,1)" font-size="14.3" text-anchor="middle" fill="#111">4</text><text x="532" y="467.2" font-size="14" fill="#111" textLength="25.5" lengthAdjust="spacingAndGlyphs">(°C)</text></svg></body></html>
